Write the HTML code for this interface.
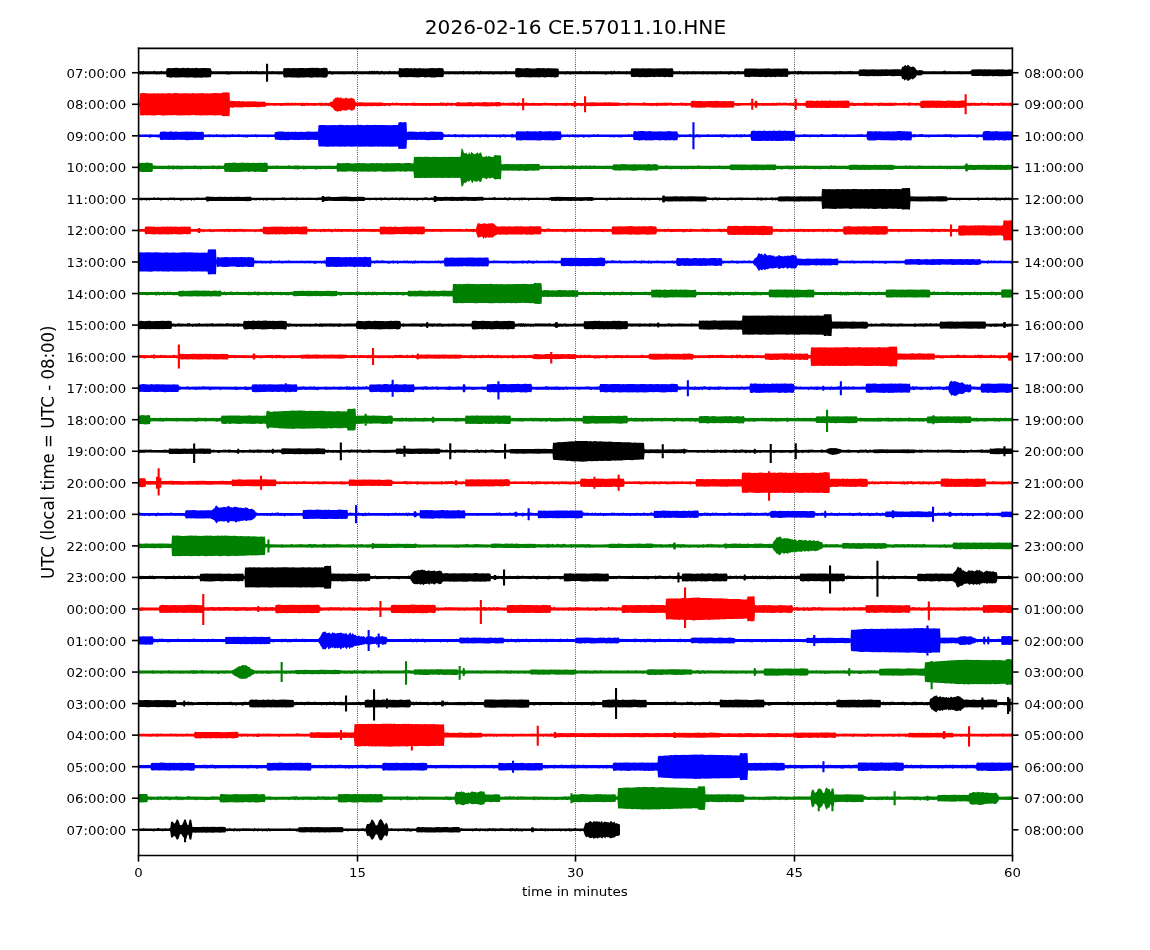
<!DOCTYPE html>
<html><head><meta charset="utf-8"><title>2026-02-16 CE.57011.10.HNE</title>
<style>html,body{margin:0;padding:0;background:#fff}svg{display:block}text{font-family:"DejaVu Sans","Liberation Sans",sans-serif;fill:#000}</style></head><body>
<svg width="1150" height="950" viewBox="0 0 1150 950">
<rect width="1150" height="950" fill="#fff"/>
<g stroke="#000" stroke-width="0.83" stroke-dasharray="0.83 1.37" fill="none">
<line x1="357.5" y1="48.7" x2="357.5" y2="855.0"/>
<line x1="575.5" y1="48.7" x2="575.5" y2="855.0"/>
<line x1="794.5" y1="48.7" x2="794.5" y2="855.0"/>
</g>
<g stroke="none">
<path fill="#000000" d="M138,71.2l2 .1 .5-.4 .5 0 .5 .3 1 0 .5-.4 .5 0 .5 .5 9.5-.1 .5-.5 .5 0 .5 .5 5.5 0 .5-.4 .5 0 .5 .4 4 .1 .5-2.3 .5-.7 1.5-.4 3 .3 1.5-.2 1.5 .1 1.5-.3 4.5 .5 3-.5 2 .4 2.5-.4 2 .5 2.5-.4 1.5 .3 2-.4 2.5 .4 4.5-.3 1.5 .2 6 .1 .5 .8 .5 1.8 .5 .1 .5 .4 13.5-.1 1-.2 .5 .2 1.5 .1 2 0 .5-.2 1 .2 5.5 0 2-.1 .5-.3 .5 .1 .5 .2 4 .1 1-.1 .5-.4 .5 0 .5 .4 2.5 0 .5-.5 .5 0 .5 .5 1 .1 .5-.3 .5 0 .5 .3 1-.1 .5-.4 .5 0 .5 .4 2 .1 3-.1 .5-.3 .5 0 .5 .3 6 .1 2-.1 .5-.3 .5 0 .5 .3 9.5 .1 .5-.3 .5-2.4 .5-.7 1.5 .3 3-.1 1.5 .2 4.5-.4 1.5 .3 3-.3 1.5 .2 1.5-.2 1.5 0 1.5 .4 3-.4 1.5 .1 3-.2 3 .2 1.5-.2 3 .5 4.5-.5 2.5 .3 .5 .9 .5 2.3 1-.1 .5-.5 .5 0 .5 .5 2 .1 18-.1 1.5 0 .5-.4 .5 .1 .5 .4 2-.1 .5-.2 .5 0 .5 .2 12 .1 .5-.5 .5 0 .5 .5 2-.5 .5 0 .5 .5 1-.6 .5 0 .5 .5 2-.5 .5 0 .5 .6 .5 0 1.5-.1 1-.4 .5 0 .5 .4 6.5 0 .5-.4 .5-.1 .5 .5 3 .1 .5-.3 .5 0 .5 .3 3.5-.1 .5-2.9 .5-.2 4 .3 1.5-.4 1.5 .3 1.5-.2 1.5 .4 1.5-.4 1.5 .3 3-.3 1.5 .3 3-.3 1.5 .3 1.5-.1 3 .1 6-.4 3 .3 4.5-.2 3 .1 .5 .1 .5 .6 .5 2.3 13 .1 3-.1 .5-.3 .5 .1 .5 .3 1-.1 .5-.4 .5 0 .5 .4 4 0 .5-.3 .5 0 .5 .3 2.5 .1 4-.1 .5-.5 .5 0 .5 .5 2 .1 .5-.1 .5-.4 .5-.1 .5 .5 8 .1 1-.3 .5 .2 12.5 .1 1.5-.1 .5-.5 .5 0 .5 .5 8.5 .1 .5-2.7 .5-.3 2-.2 5.5 .3 3.5-.4 4 .4 4.5 0 2-.3 4 .2 2-.3 2.5 .4 2-.3 1.5 .2 8.5 .1 .5 .5 .5 2.3 3 .1 4.5-.1 .5-.3 .5 0 .5 .3 1.5 .1 10.5-.1 .5-.5 .5 0 .5 .5 1.5 0 2.5 .1 .5-.3 .5-.1 .5 .3 1.5 0 .5-.5 .5 0 .5 .5 3 0 .5-.2 .5 0 .5 .2 2 .1 14 0 .5-.5 .5 0 .5 .5 1.5-.1 .5-.6 .5 0 .5 .6 1 .1 2-.1 .5-.3 .5 0 1 .3 2 .1 4 0 .5-.3 .5 0 .5 .3 3-.1 .5-2.2 .5-.7 2.5 .2 1.5-.2 5.5 .2 2-.3 2.5 .4 3.5-.4 4 .3 12.5-.3 2.5 .3 3-.2 2 .2 .5 2.7 1 .1 4-.1 .5-.5 .5 0 .5 .5 7 0 .5-.2 1 .3 2.5 0 2-.1 .5-.3 .5 0 .5 .3 4 .1 4.5-.1 .5-.3 .5 .1 .5 .3 4.5 0 10.5-.1 .5-.3 .5 0 .5 .3 9 .1 .5-.4 .5-.1 .5 .4 1-.2 1 .2 3.5 .1 .5-.3 1-.1 .5 .3 4.5 0 .5-.2 .5-2.1 .5-.3 1.5-.2 7 .2 2-.2 4 .3 2-.3 1.5 .3 1.5-.3 2.5 .2 1.5-.3 2 .5 8.5-.4 2 .3 1.5-.2 5 .1 .5 .7 .5 1.9 6 0 .5-.4 .5 .1 .5 .4 1.5 0 .5-.5 .5-.1 .5 .5 .5 0 .5-.5 .5 .1 .5 .5 1.5-.4 .5 .3 2.5 0 .5-.2 1 .2 17.5 0 1.5-.3 .5 .3 9.5 0 1-.2 .5 .2 1.5 .1 .5-.4 .5-.1 .5 .5 .5-.3 .5 0 .5 .2 5.5 0 .5-.3 1.5 .3 .5-.5 .5 0 .5 .5 .5 0 .5-.2 1.5 .3 2.5 0 2.5-.1 .5-1.1 .5-.5 2 0 2.5-.3 2 .2 2.5-.1 2 .1 2.5-.2 2 .3 4-.2 1.5 .1 2-.2 1.5 .1 1.5-.1 4.5 .3 4-.3 4.5 0 2.5 .3 1.5-3.1 1 .2 .5-.4 1-1.2 .5 0 .5 .3 .5 .8 .5 0 .5-1.2 .5-.3 2 1.7 1 .6 .5 .1 .5-.1 .5-.6 .5 0 1 .6 .5 .2 1.5 1.9 .5 .9 .5 .3 1 .1 1.5-.3 2 .2 .5 0 2 .9 7 .1 2-.1 1-.2 .5 .2 2.5 .1 5.5-.1 1-.2 .5-.3 .5-.1 1 .2 .5 .4 2.5 0 .5-.3 .5 0 .5 .3 8 .1 .5-.4 .5 0 .5 .3 10 .1 .5-.5 1 .1 .5-1.2 .5-.3 8.5-.1 2 .3 2.5-.4 2 .2 1.5-.1 2.5 .3 2-.1 2.5 .1 3-.3 2 .1 1.5-.2 4.5 .5 3-.4 2 .1 .5 .6 0 5.3-.5 .6-2.5 .1-1.5-.1-1.5 .3-1.5-.3-1.5 .3-4.5 0-1.5-.3-4.5 .3-1.5-.4-1.5 .4-1.5-.3-1.5 .3-1.5-.2-1.5 .2-3-.4-1.5 .3-1.5-.2-5.5 0-.5-.3-.5-1.4-7.5 0-1.5 .1-.5 .3-.5-.1-.5-.3-1.5 0-12.5 0-.5 .4-.5 0-.5-.4-1 0-21 .1-1.5 .9-1.5 .4-3-.3-.5 .4-1.5 2.3-1 .2-1 1.4-.5 0-.5-.8-.5-.3-1 .9-.5 0-1 1-.5 .1-1 .6-1-1.6-.5-.4-.5 .6-.5 .9-.5-.2-1-1.5-.5-.1-.5 .5-.5-.9-.5-1.4-.5-1-4-.1-4.5 .3-3-.4-1.5 .2-2-.1-2.5 .2-1.5-.2-1.5 .3-1.5-.2-1.5 .2-1.5-.2-1.5 .2-3-.2-3 .2-7.5-.2-1.5 .2-.5-.6-.5-1.1-.5 0-.5-.3-2 0-3 0-.5 .3-.5 0-.5-.3-6 0-1 .2-.5-.2-3 .1-.5 .3-.5 0-.5-.4-2.5 0-.5 .4-1 .1-.5-.5-1 .2-1-.2-11.5 .1-.5 .3-.5 0-.5-.3-4.5-.1-2 0-.5 .3-.5 .1-.5-.4-2.5 .1-.5 .3-.5 0-.5-.4-4 .1-.5 .4-.5 0-.5-.5-2.5 0-.5 0-.5 .5-.5 0-.5-.5-7.5 0-.5 .5-.5 0-.5-.5-.5 1.9-.5 .9-.5 .1-3-.4-3 .3-1.5-.3-3 0-1.5 .5-1.5-.4-3 .4-1.5-.4-3 .4-1.5-.1-1.5-.4-1.5 .4-1.5-.2-1.5 .2-1.5-.3-1.5 .3-1.5-.4-3 .1-1.5 .4-1.5-.3-1.5 .1-1.5 0-.5-.5-.5-2.2-4-.1-.5 .3-.5 0-.5-.3-2.5 0-.5 .5-.5 0-.5-.5-4 0-.5 .3-1.5 .2-.5-.4-10.5-.1-1 0-.5 .6-.5 0-.5-.6-.5 0-1.5 .1-.5 .3-.5 0-.5-.3-3-.1-.5 .4-.5 .1-.5-.4-3.5 0-.5 .4-.5 0-.5-.5-6 0-.5 .4-.5 0-.5-.4-1 0-1 0-.5 .4-.5 0-.5-.4-2 0-.5 0-.5 .4-.5 .1-.5-.4-2.5 0-.5 .5-.5 0-.5-.6-6 0-3.5 .1-.5 2.8-1 .2-1.5-.3-1.5 .2-1.5-.4-2.5 .5-3-.5-2 .2-4-.2-2 .4-1.5-.4-1.5 .3-1.5-.2-4 .4-2-.4-4.5 .3-1.5-.4-1.5 .3-3-.2-1.5 .2-.5-.7-.5-2.1-2-.1-1 0-.5 .3-.5 0-.5-.3-12 0-1.5 .1-.5 .5-.5-.1-.5-.5-4 0-.5 .5-.5 0-.5-.2-1 .1-.5-.3-2-.1-14 0-1 0-.5 .3-1-.3-14 0-.5 0-.5 .5-.5 0-.5-.5-3 0-.5 .4-1 .1-.5-.4-2-.1-3.5 .1-.5 2.3-.5 .6-1-.2-1.5 .5-1 0-2-.5-1.5 .2-3-.2-3 .5-3-.4-3 .3-1.5-.2-6 .1-1.5 .1-1.5-.2-2.5 .1-3.5-.3-4.5 .4-2-.3-.5-.4-.5-2.5-1.5 0-6.5 0-.5 .3-.5 0-.5-.2-4-.1-.5 .6-.5 0-.5-.5-5-.1-1 .1-.5 .5-.5 0-.5-.5-1.5-.1-1.5 .1-.5 .2-.5 0-.5-.2-7.5-.1-.5 .5-.5 0-.5-.4-2-.1-2.5 .1-1 .2-.5 0-.5-.3-2 0-.5 .3-.5 .1-.5-.4-3.5 0-1 0-.5 .5-.5 0-.5-.4-2-.1-2.5 0-.5 .3-.5 .1-.5-.3-1.5 0-.5 .3-.5 0-.5-.3-5-.1-.5 .3-.5 0-.5-.3-3.5 0-.5 2.4-.5 .5-1.5 .2-1.5-.3-1.5 .3-1.5-.2-1.5 .3-4.5 0-2-.3-4 .3-1.5-.3-1.5-.1-4.5 .4-1.5-.2-1.5 .1-4.5-.3-3 .2-4.5-.2-1.5 .5-2-.5-.5-2.4-.5 0-.5-.3-2.5 0-1 .2-.5-.3-2 0-2 .1-.5 .3-.5 0-.5-.3-3-.1-.5 .5-.5 0-.5-.5-3 0-1 .5-.5 0-.5-.5-3.5 0-.5 .4-.5 0-.5-.3-1-.1-.5 .3-.5-.1-.5-.2-1.5 .1-.5 .3-.5 0-.5-.4-.5 0-4.5 .1-.5 .3-.5 0-.5-.4-6 0-.5 .4-.5-.1-.5-.3-8.5 0-.5 .4-.5 0-.5-.4-1.5 .3-.5-.3-2 0-.5 .2-1-.2-4 0-1 0-.5 .5-.5 .1-1.5-.5-3-.1-.5 2.2-.5 .8-2.5 .5-1.5-.3-1.5 .1-1.5-.3-2 .4-4-.4-2 .5-2.5-.1-1.5-.3-4.5 .3-3-.1-2 .2-2.5-.3-4.5 .2-2-.4-4.5 .4-1-.2-.5-.7-.5-2.5-.5 .1-.5 .3-.5-.1-.5-.3-1.5 .1-.5 .5-.5 0-.5-.6-15.5 0-.5 0-.5 .3-1.5-.3-1 0-.5 .3-.5 0-.5-.3-2 0-22.5 0-2.5 .1-.5 .4-.5 0-.5-.4-.5 .2-2 .1-.5-.4-2 0-12 0-.5 0-.5 2.3-.5 .8-5.5 .2-1.5-.2-1.5 .4-4.5-.3-1.5 .3-1 0-3.5-.4-1.5 .3-4 0-3.5-.4-4.5 .4-1.5-.2-1.5 .1-1.5-.3-1.5 .4-1.5 .1-1.5-.4-2 0-.5-.8-.5-2.3-6 .1-.5 .2-.5 0-.5-.3-1 0-.5 .5-.5 .1-.5-.6-6 0-1 0-.5 .3-.5 0-.5-.3-4 0-.5 .5-.5 0-.5-.5-1 0-.5 .4-.5 0-.5-.4-1.5 .1zM266,63.7h2.1v18h-2.1z"/>
<path fill="#ff0000" d="M138,102.8l1 0 .5-.2 .5-9.3 .5-.1 3.5-.1 5 .3 1-.2 1.5 .2 2.5-.1 1.5 .1 2-.2 2.5 .2 2-.2 3 .2 2-.2 1.5 .1 1-.2 2.5 .3 2.5-.3 2 0 4.5 .3 2-.2 3 .1 1.5-.1 3.5 .3 1.5-.4 3.5 .3 1-.2 2.5 .1 3.5-.2 1.5 .3 3.5-.2 1 .2 5-.3 7.5 .2 .5-.9 3 .1 1.5-.2 1 .2 2 0 .5 9 .5-.7 .5 0 1.5 .3 2.5-.1 1.5 .2 3-.2 1.5 .4 2-.3 1.5 .3 5.5-.2 2 .3 2.5-.2 3 .4 4.5 .1 2-.3 1.5 .6 .5 .8 1 0 1.5-.3 .5 .3 1 0 14.5 0 .5-.4 .5 0 .5 .4 .5 0 .5 0 .5-.4 .5-.1 .5 .4 2.5 .1 .5 0 .5-.4 .5-.1 .5 .5 1 0 1 0 .5-.4 .5 0 .5 .4 .5 0 6-.1 1.5 .1 1 0 1-.4 .5 0 .5 .4 3 0 8.5 0 .5-.3 .5-.1 .5 .4 1-.3 1 .3 2.5 0 .5-.3 .5 0 .5 .3 3 0 .5-1 2-.3 .5-.2 .5-.5 .5-1.5 .5-1 .5 .3 .5 0 .5-1.1 .5-.6 .5 .8 .5 .2 .5-.8 .5-.4 .5 .8 .5 .5 1-.1 .5-.7 .5-.3 .5 .9 .5 .6 1-.2 .5 .1 1.5 0 .5-.6 .5-.3 1 .5 .5 .6 .5 .1 1-.4 1 .3 1.5-.8 .5-.1 .5 .5 1 .4 1 .8 1 2.4 .5 .7 5.5-.2 2 .3 4.5-.2 3 .2 3 0 1.5-.2 2 .2 4.5-.1 .5 .1 .5 .3 1 0 7.5 0 .5-.5 .5 0 1 .5 1 0 1.5-.1 .5-.2 .5 0 .5 .3 14 0 .5-.3 .5 0 .5 .3 .5 0 .5-.4 .5 0 .5 .4 23.5 0 1 0 .5-.3 1.5-.2 .5 .4 1 0 .5-.3 .5 0 .5 .4 2.5-.1 .5-.3 .5-.1 .5 0 .5 .5 2 0 .5-.3 1.5 .3 2.5 0 1-.5 2-.3 2 .3 5.5 .1 4.5-.4 1.5 .3 4.5 .1 1.5-.3 3 .2 3-.3 6 .3 1.5-.3 1.5 .3 1.5-.2 4.5-.1 1.5 .2 1 .6 1 0 .5-.5 .5 0 .5 .5 8.5-.1 .5-.5 .5 0 .5 .5 2 .1 2-.1 .5-.5 .5 0 .5 .1 .5 .5 .5 0 4.5 0 .5-.3 1-.1 .5 0 .5 .4 .5 0 4.5 0 .5-.4 .5 0 .5 .4 1.5 0 7.5 0 1.5-.3 .5 .2 2.5 .1 18 0 .5 0 .5-.4 .5 0 .5 .4 2.5 0 3.5 0 .5-1.6 1.5 0 .5 1.5 1.5 .1 7 0 .5-.4 2.5 .1 6-.3 3 .3 4.5-.2 2 .1 2.5-.2 1.5 .3 1.5-.3 3 .3 6-.2 1.5 .1 .5 .4 6 0 1 0 .5-.4 .5 0 .5 .3 12.5 .1 3-.1 .5-.4 .5-.1 .5 0 .5 .6 .5 0 1-.2 .5 .2 9 0 .5-.5 .5 0 .5 .5 6-.1 .5-.3 .5 0 .5 .3 5 0 .5-.3 .5 0 .5 .4 7.5 0 .5-.4 .5-.1 .5 .4 7.5 .1 2 0 .5-1.3 .5-.5 2-.3 3 .2 4.5-.1 3 .3 7-.3 2 .2 1.5 0 1.5-.3 4.5 .4 3-.3 3 .3 4.5-.3 1.5 .3 1-.1 .5 .5 .5 1.3 14 0 1.5-.1 1-.4 .5 0 1 .5 .5 0 1.5 0 .5-2.1 2 0 .5 2.1 15 0 .5-.4 .5 0 .5 .4 1.5 0 1 0 .5-.6 .5 .1 .5 .5 .5 0 .5-.5 .5-.1 .5 .5 2.5 .1 1-.3 .5 .3 1.5-.3 .5 0 .5 .3 3.5 0 .5-.4 .5 0 .5 .4 2.5-.1 .5-.1 2 .2 .5 0 .5-.5 .5 0 .5 .5 4 0 3-.1 .5-1.8 .5-.2 3-.1 1.5-.2 1.5 .3 3 .1 1.5-.3 3 .3 1.5-.3 3 .2 1.5-.3 1.5 .4 1.5-.4 1.5 0 1.5 .3 3-.1 1.5 .2 1.5-.4 1.5 .2 7.5-.3 2 .4 .5 .6 .5 1.5 1.5-.1 .5-.5 .5 0 .5 .5 .5 .1 4 0 .5-.5 .5 0 .5 .5 4.5 0 .5-.3 .5 0 .5 .3 .5-.5 .5-.1 .5 .5 6.5 .1 1 0 .5-.5 .5 0 .5 .5 4.5-.1 .5-.4 .5 0 .5 .5 .5 0 .5-.3 .5 0 .5 .3 6-.1 .5-.4 .5 0 .5 .4 1 .1 1-.3 .5 .3 1 0 1-.4 .5 0 .5 .4 5 0 1.5 0 .5-.5 2 .5 3.5-.1 .5-.5 .5 0 .5 .5 6 .1 .5-.4 .5 0 .5 .4 2 0 .5-1.4 .5-.6 3-.5 1.5 .3 3-.2 1.5 .2 1.5-.2 4.5 .3 1.5-.3 7.5 .4 3-.3 4.5 .2 1.5-.2 1.5 .3 4.5-.1 1.5-.3 2.5 .1 .5 .1 .5 2.2 .5 0 .5-.3 .5 0 .5 .3 1 0 .5-.2 1 .2 1.5 0 .5-.4 .5 0 .5 .4 1 0 .5-.3 .5 0 .5 .3 5.5 0 .5-.4 1.5 0 .5 .4 2.5 0 1.5 0 1-.5 .5 0 .5 .4 1 .1 10 0 .5-.3 .5-.1 1 .3 7.5 .1 .5-.5 .5-.1 .5 .5 1 .1 0 2.8-1 .3-.5 0-.5-.3-5 0-1 0-.5 .4-.5 0-.5-.4-2-.1-.5 0-.5 .4-.5 0-.5-.3-3.5-.1-2 .1-.5 .3-.5 0-.5-.3-9-.1-3.5 .1-.5 .2-1-.2-2 0-.5 .3-.5 0-.5-.4-2 .1-.5 .2-1.5-.2-.5 .4-.5 0-.5-.4-1 0-.5 0-.5 .5-.5 0-.5-.5-.5-.1-.5 2-5.5 .5-1.5-.3-3 .2-5.5-.3-3.5 .3-2.5-.3-2 .2-1.5-.2-3 .3-1.5-.3-4.5 0-1.5 .2-3-.1-3 .2-2-.1-.5-.6-.5-1.6-2-.1-1.5 0-.5 .5-.5 0-.5-.5-4.5 0-.5 .1-.5 .4-.5 .1-.5-.5-1-.1-13 0-.5 .4-.5 0-.5-.3-1 0-.5 .4-1 0-.5-.4-1 .2-.5-.2-.5 .4-.5 0-.5-.5-.5 .5-.5 0-.5-.4-1 0-1 .3-.5 0-.5-.3-3 0-.5 .5-.5 0-.5-.5-3-.1-2 0-.5 .6-.5 0-.5-.5-1 0-.5 .3-.5 0-.5-.3-3 0-.5 .5-.5 0-.5-.5-8 0-.5 .4-.5 0-.5-.4-.5 .5-.5 .1-1.5-.6-2.5 0-.5 1.3-.5 .7-1 .2-4.5 .1-4.5-.3-3 .3-1.5-.3-1.5 .3-1.5-.3-2 .4-2.5-.2-1.5 .1-1.5-.2-3 .2-2-.2-2.5 .3-2-.4-2.5 .3-3-.2-2 .1-1-.3-.5-1.6-.5 .1-.5-.4-.5 0-.5 .3-.5 0-.5-.3-1-.1-.5 0-.5 .5-.5 0-.5-.4-3 0-.5 .5-.5 0-.5-.6-1 .1-.5 .4-.5 0-.5-.4-6.5-.1-9 0-.5 .3-.5 0-.5-.2-1-.1-1 .3-.5-.2-1.5-.1-1 .3-.5-.2-6.5 0-.5 .4-.5 0-.5-.5-4.5 .1-.5 2.1-2 0-.5-2.2-13.5 0-1 .1-.5 .3-1.5-.3-.5 .4-.5 0-.5-.4-2-.1-.5 1.3-.5 .7-1 .2-1.5-.3-7.5 .2-4.5-.3-4 .3-3.5-.3-4.5-.1-3 .4-1.5-.1-1.5 .2-3 0-3-.4-3.5 .2-.5-.4-.5-1.6-4 .1-.5 .4-.5 0-.5-.4-2-.1-.5 .4-.5 0-.5-.4-7.5 .1-.5 .4-.5 0-.5-.5-5 0-1 .3-.5-.2-7.5 0-1 0-.5 .5-.5 0-.5-.5-2 0-1 0-.5 .5-.5 0-.5-.5-1 0-.5 .3-.5 0-.5-.3-20.5-.1-.5 .1-.5 .4-.5 .1-.5-.5-4-.1-4 .1-1 .4-1.5-.2-6 .2-6-.2-2 .2-5-.1-6.5 .2-2-.1-3 .1-1-.5-2.5 0-.5 .5-.5 0-.5-.5-3.5 0-.5 .5-.5 0-.5 1.1-1.5 0-.5-1.6-1 0-.5 .4-.5 0-.5-.4-1-.1-4.5 .1-.5 .3-.5 .1-.5-.4-6.5-.1-.5 .6-.5 0-.5-.5-13-.1-2 .1-.5 .2-1-.2-14.5 0-2 0-.5 .5-.5 0-.5-.5-1-.1-1.5 .1-1.5 .5-.5 0-.5-.5-15-.1-1 .7-2.5-.1-1.5 .2-1.5-.3-2 .2-2.5-.1-3 .2-12-.3-3 .3-2-.2-14 .1-1-.6-2-.1-1 0-.5 .6-.5 0-.5-.5-2.5-.1-1.5 .1-.5 .5-.5 0-.5-.5-1-.1-.5 .4-.5 0-.5-.3-8 0-.5 .3-.5 0-.5-.4-.5 0-.5 .4-.5 .1-.5-.5-.5 0-.5 .5-.5 .1-.5-.5-2.5 0-1 .2-.5-.2-2 0-.5 .4-.5 0-.5-.4-7 0-.5 .3-.5 0-.5-.3-5.5-.1-1.5 .4-.5-.3-4-.1-.5 .5-.5 0-.5-.5-10 0-.5 .6-.5 0-1-.5-2-.1-.5 .4-1.5 .1-.5-.4-.5 0-.5 0-.5 .4-1.5-.1-3 .2-3-.3-4.5 .3-1.5-.3-1.5 .3-3 0-1.5-.3-2 .3-5-.2-.5 .6-1 2.8-.5 .4-1 .1-1 1-.5-.2-.5-.5-1-.4-2-.3-1 1.1-3-.1-1-.5-.5 .1-1.5 1.1-.5 .1-1.5-.4-1 .8-1-.2-.5-.5-.5 .2-.5-.1-.5-.7-1-.4-1-2-.5-.1-3-2.2-.5 0-.5 .5-.5 0-.5-.5-5.5 0-.5 .5-.5 0-.5-.5-1-.1-4.5 .1-.5 .4-.5 0-.5-.4-4.5-.1-.5 .5-.5 0-.5-.5-2.5 .1-.5 .5-.5 0-.5-.5-.5 .4-1.5 .1-.5-.5-1-.1-16.5 .1-3.5 .3-.5-.4-5 .1-.5 .4-.5 0-.5-.5-7 .1-.5 1.1-.5 .3-2.5-.3-4 .4-4.5-.2-6 .3-3.5-.2-2.5 .4-7.5-.2-1.5 .4-2.5-.1-.5-.5-.5 9.2-3.5-.4-2.5 .3-1.5-.2-.5-.7-2.5-.1-5 .3-1-.3-5 .1-1 .2-1.5-.3-4.5 .2-3-.2-2 .2-1-.3-2.5 0-2.5 .1-1 .2-1.5-.2-9 .2-4-.3-1.5 .2-2 0-2.5-.1-5 .3-2-.1-1.5-.3-2.5 0-2 .3-7.5-.2-2 .3-1.5-.4-1 .3-3.5-.1-.5-9.4-.5-.3-1 .1zM522.1,98.3h2.1v12h-2.1zM584,96.3h2.1v16h-2.1zM751.2,98.8h2.1v11h-2.1zM794.7,98.8h2.1v11h-2.1zM964.6,94.3h2.1v20h-2.1z"/>
<path fill="#0000ff" d="M138,134.5l6.5 0 1.5-.3 .5 .3 3.5 0 .5-.4 .5-.1 .5 .5 8 0 .5-2 .5-.8 4.5-.1 3 .3 1.5-.4 1 0 2 0 1.5 .4 1.5-.4 1 0 2 .4 2.5-.2 2 .1 4-.2 2 .1 1.5-.2 2.5 .3 2-.3 1.5 .4 6.5-.1 .5 .2 .5 2.6 .5 0 4-.1 .5-.3 .5-.1 .5 .4 6 .1 .5-.6 .5 0 .5 .5 3.5 .1 1.5 0 1-.3 .5 .2 7.5 0 .5-.5 .5 0 .5 .6 5 0 .5-.5 .5 0 .5 .4 10 .1 5.5-.1 .5-.5 .5 0 .5 .6 .5 0 17-.1 .5-.2 .5-2.1 .5-.3 2-.1 1.5-.3 3 0 4.5 .4 1.5-.4 1.5 .4 3-.2 1.5 .2 1.5-.3 1.5 .3 4.5-.1 3 .1 3-.4 6 .3 3-.2 1.5 .1 .5-6.5 2-.2 1 .1 1.5-.2 1 .2 3.5 .1 7-.3 2.5 .3 2.5-.4 1.5 .3 1-.3 2.5 .4 2.5-.2 3.5 .2 2.5-.2 2 .2 3.5-.4 1.5 .3 1-.3 1.5 .4 1-.3 1.5 .3 1-.3 1-.1 1.5 .3 3.5 0 1-.2 1.5 .2 1-.3 1.5 .3 2-.2 5 .2 1-.2 1.5 .3 1-.2 1.5 .2 6-.3 2 .2 1-.1 .5-2.5 2.5-.4 1.5 .5 2.5-.5 1.5 .3 .5 9.5 2.5-.3 6 .1 2.5 .2 3-.4 1.5 .4 1.5-.3 3 .3 5-.4 3 .3 5.5-.1 2 .2 .5 .7 .5 1.5 .5 0 .5 .4 3.5 0 .5-.3 1 0 .5 .4 3.5 0 .5-.4 .5-.1 .5 .4 .5-.4 .5 0 .5 .4 5.5 .1 .5-.6 .5 0 .5 .5 5 0 1-.2 .5 .2 6 .1 1-.1 .5-.2 1.5 .3 2-.1 .5-.3 .5 0 .5 .3 2.5 .1 .5-.6 .5 0 .5 .5 1.5 0 13.5 0 1.5 0 .5-.4 .5 0 .5 .4 6 0 .5 0 .5-.4 .5 0 1.5 .2 .5 .3 1 0 .5-.1 .5-2.3 .5-.8 1-.1 1.5 .3 1.5-.3 1.5 .1 1.5-.1 1.5 .2 3-.4 1.5 .4 1.5-.2 1.5 .2 2.5-.3 3 .3 2-.4 3 .3 6-.1 1.5-.2 1.5 .4 4.5-.3 2.5 .2 1.5-.2 .5 .8 .5 2.5 4.5 .1 .5 0 .5-.3 .5 0 .5 .2 4 .1 1 0 .5-.3 .5-.1 .5 .3 2 0 5 0 .5-.3 .5 0 .5 .3 7 .1 3-.1 .5-.4 .5 0 .5 .4 1.5 0 1 0 .5-.5 .5 0 .5 .6 .5 0 28.5 0 .5-.1 .5-.4 .5 0 .5 .4 1.5 0 .5-.4 .5 0 .5 .4 .5 0 .5-2.6 .5-.8 1 0 1.5 .5 1.5-.3 3-.2 3 0 2 .4 4-.4 2 .3 5.5 .1 2-.3 4 .3 1.5-.1 1.5 .1 1.5-.4 6 .5 1.5-.4 2 .5 .5 2.4 .5 0 .5 .4 8.5 .1 1.5 0 .5-.5 1 0 .5 .4 5 0 .5-.3 1-.1 .5 .4 1.5 .1 7.5 0 .5-.6 .5 0 .5 .5 6.5 0 1-.2 .5 .2 3 0 .5-.5 .5 .1 .5 .4 1.5 0 .5-.4 .5 0 .5 .4 .5 0 .5-.5 .5 0 .5 .5 .5 .1 9.5-.1 .5-.5 .5 0 .5 .5 2.5 0 .5-.4 .5 0 .5 .5 2-.1 .5-.5 .5 0 .5 .5 4 0 .5-.5 .5 0 .5 .6 .5-3 .5-.7 2.5-.3 1.5 .3 4.5-.1 1.5 .2 3-.4 1.5 .4 1.5 0 3-.3 1.5 .3 1.5-.4 3 .3 3-.3 3 .3 2-.3 2.5 .3 1.5-.2 1.5 .3 4.5 .1 .5 .4 .5 3 4.5 0 3.5 0 .5-.5 .5 0 1.5 .5 1 0 .5-.2 1 .2 2.5 0 .5-.2 1 .2 2.5 .1 5.5-.1 .5-.4 1.5 0 .5 .5 7 0 2-.1 .5-.6 .5 0 .5 .6 .5 0 .5-.4 .5 0 1 .4 .5-.5 .5 0 .5 .5 1.5 0 1 0 .5-.3 .5 0 .5 .3 4 0 .5-.4 .5-.1 .5 .5 1 .1 8.5-.1 .5-.3 1.5 .4 .5-.5 .5 0 .5 .4 2-.5 .5 0 .5 .5 3.5 0 .5-2.4 .5-.8 3.5 0 3 .3 1.5-.5 1.5 .5 1.5-.4 1.5 0 1.5 .3 4.5-.1 1.5-.2 4.5 .3 1.5-.3 1.5 .3 3-.4 3 0 1.5 .4 1.5-.4 1.5 .4 1.5-.2 1.5 .2 2.5-.1 .5 .1 .5 2.8 .5 .2 1-.5 .5 0 .5 .5 .5 0 .5-.4 .5 0 .5 .4 2 .1 .5-.6 .5 0 .5 .5 .5-.4 1.5 0 1 .1 .5 .3 13 0 1.5 0 .5-.3 .5 0 .5 .4 3.5 0 .5-.3 .5 0 .5 .3 .5-.6 .5 0 1 .2 .5 .4 .5-.4 .5 0 .5 .4 .5-.3 1.5-.3 .5 .5 .5 0 .5-.3 .5 0 .5 .4 13.5 0 2-.1 .5-.5 .5 0 .5 .5 12 .1 .5-.4 .5-2 .5-.8 2-.3 3 0 3 .4 1.5-.3 1.5 .2 1.5-.3 3 .5 5.5-.1 3.5-.3 1.5 .3 2-.1 .5 .7 0 7.4-.5 .7-1-.1-1.5 .4-1.5-.4-1.5 .4-3 0-1.5-.4-3 .4-1.5-.4-1 0-2 .4-4-.3-2 .3-3-.3-1.5 .2-.5-.9-.5-2.4-3.5 0-.5 .5-1 0-1.5-.2-.5-.3-17.5 0-.5 .5-.5 0-.5-.5-.5 0-.5 .3-1.5 .2-.5-.5-1.5 0-.5 .4-.5 0-.5-.3-1.5-.1-18 0-1.5 .1-.5 .3-.5 0-.5-.4-1 0-.5 .3-.5 0-.5-.3-9.5 0-1.5 .1-.5 .4-.5 0-.5-.5-1 .1-.5 3-.5 .2-1.5-.2-3 .3-1.5-.3-1.5-.1-1.5 .4-1.5 0-1.5-.4-4.5 .3-7.5-.2-4.5 .1-4.5-.2-3 .4-6 .1-1.5-.5-.5-.7-.5-2.3-1 0-18.5 0-2 0-.5 .3-.5 0-.5-.3-19 0-5.5 0-.5 .3-.5 0-.5-.3-5 0-2 0-.5 .5-.5 0-.5-.5-9.5 0-.5 .5-.5 0-.5-.5-.5 0-2 0-.5 3.4-.5 .4-2-.1-1.5 .3-3-.5-1.5 .4-1.5-.4-1.5 .3-1.5-.2-1.5 .4-1.5-.2-3 .1-1.5-.2-3 .2-1.5-.3-3 .3-3-.3-3 .4-4.5-.1-1.5-.2-1.5 .3-2-.3-.5-.7-.5-3-8 0-.5 .4-.5 0-.5-.3-6-.1-.5 .4-.5 0-.5-.4-2 0-2.5 .1-.5 .4-.5-.1-.5-.3-2-.1-2 0-.5 .5-1.5 0-.5-.4-1.5-.1-10 0-1 .2-.5-.2-6.5 0-1.5 .3-.5 0-.5-.3-.5 .3-.5 0-.5-.3-1.5 .1-.5 .4-1.5-.1-.5-.4-.5 .5-2-.5-5.5 0-.5 .2-1.5-.2-3 0-.5 .4-.5 0-.5-.3-1 0-.5 2.9-.5 .2-1.5-.1-1.5 .3-2-.4-2.5 .3-1.5-.3-1.5 .3-4.5-.3-1.5 .3-2-.2-2.5-.1-6 .4-1.5-.3-3 .2-1.5-.3-1.5 .2-1.5-.1-1.5 .3-3-.4-2.5 .2-.5-.8-.5-2.4-10.5 0-.5 .4-.5 0-.5-.3-2 0-.5 .3-.5 0-.5-.4-1.5 0-1.5 .1-.5 .4-.5 0-.5-.4-2-.1-.5 .4-.5 0-.5-.4-17.5 0-2.5 .1-.5 .4-.5 0-.5-.4-2-.1-1.5 .1-.5 .5-.5 0-.5-.5-1.5-.1-3.5 .1-.5 .3-.5 0-.5-.4-1.5 0-.5 .4-.5 0-.5-.4-3.5 0-.5 .3-.5 0-.5-.3-5 0-.5 0-.5 .5-.5 0-.5-.5-.5 2.3-.5 .7-3 0-4.5 .5-2-.4-5.5 .1-3-.2-1.5 .3-3 .1-3-.3-9 .1-1.5-.2-3 .4-3-.3-1.5 .3-.5-.1-.5-.9-.5-2.3-1.5 0-.5 .3-2.5 .1-.5-.5-4.5 0-.5 .6-.5 0-.5-.6-1 0-2 0-.5 .5-1 0-.5 0-.5-.5-1.5 0-.5 .3-.5 0-.5-.3-6 0-1 0-.5 .3-.5 0-.5-.2-3.5-.1-2.5 0-1 .4-1-.1-.5-.3-5 0-.5 .4-.5 .1-.5-.5-2 0-1.5 .4-.5 0-.5-.3-2-.1-2.5 0-.5 .3-.5 0-.5-.3-2 .1-.5 .2-1-.3-2 0-.5 .4-.5-.1-.5-.3-10 0-1.5 .1-.5 2.1-.5 .8-2.5 0-1.5-.3-2 .3-5.5-.2-3 .3-2-.3-1 .2-1.5-.3-2 .2-1.5-.3-4 .2-1.5-.2-2 .3-1.5-.2-2.5 .2-1.5-.1-.5 8.9-2 0-2 .2-1.5-.2-2.5 .3-.5-2.5-8.5 .1-1.5-.2-2 .3-1.5-.4-1.5 .4-3-.3-1.5 .3-2-.4-5.5 .4-4.5-.3-2.5 .2-1-.2-2.5 .3-5-.2-4.5 .2-1.5-.2-3.5 0-1 .2-2.5-.4-2.5 .4-2.5-.4-3.5 0-1 .3-2.5-.1-1.5 .2-3 0-1.5-.3-5 .1-1-.1-.5-6.8-1.5 .4-4.5-.3-4 .3-3-.3-2 .2-1.5-.2-1.5 .3-2.5-.2-3 .2-3-.3-3.5 .4-6-.2-1.5 .2-3-.4-2 0-.5-.3-.5-2.4-6 0-.5 .4-.5 0-.5-.4-9.5 0-.5 .4-.5 0-.5-.4-7.5 0-.5 .5-.5 .1-.5-.5-1 0-.5 .4-.5 0-.5-.5-.5 0-.5 .4-.5 0-.5-.4-2.5 0-1 .2-.5-.2-8 0-.5 .4-.5 0-.5-.4-1 0-1.5 0-.5 .3-.5 0-.5-.2-11-.1-.5 .5-.5 0-.5-.5-2.5 0-.5 .3-.5 0-.5-.3-4.5 .1-.5 2.7-.5 .2-3-.4-1.5 .3-3-.2-2 .2-2.5-.1-4.5 .3-3-.5-1.5 .3-1.5-.3-3 .1-1.5-.1-1.5 .3-1.5 0-1.5-.3-1.5 .2-6-.1-1.5 .3-2-.2-.5-.7-.5-2.1-.5 0-.5 .6-.5 0-.5-.5-3.5-.1-3 .1-.5 .5-1.5-.1-.5-.5-.5 0-8.5 0-.5 .4-1 .1zM692.4,122.3h2.1v27h-2.1z"/>
<path fill="#008000" d="M138,163.6l.5-.7 1 .1 2.5-.2 1.5 .2 4.5-.4 1.5 .4 2.5-.1 .5 .4 .5 2.4 .5 0 .5-.4 .5 0 .5 .4 10 .1 1-.3 .5 .2 1.5 0 .5-.5 .5 .1 1 .5 2.5-.1 .5-.4 .5 0 .5 .4 2 .1 1-.1 .5-.5 .5 0 .5 .5 3.5 0 4 0 .5-.3 .5 0 .5 .3 6.5 0 .5-.4 .5 0 .5 .4 16.5 .1 .5-.5 1.5 .1 .5 .3 3.5 0 1-.4 .5 0 .5 .4 2.5 .1 1-.1 .5-.5 .5-1.7 .5-.6 3 .1 1.5-.2 1.5 .3 3-.5 3 .3 4.5-.1 1.5-.2 1.5 .4 3-.3 3.5 .2 2.5-.2 2 .3 5.5-.2 1.5 .3 3-.5 2 .6 .5 2.5 4.5 0 .5-.3 .5 0 .5 .3 2 0 .5-.4 .5 0 .5 .5 10-.1 .5-.5 .5 0 .5 .5 .5-.5 .5 0 .5 .5 2.5 0 1.5 0 .5-.5 .5 0 .5 .5 .5 0 .5-.4 1 0 .5 .4 2 0 2.5 0 .5-.3 .5 0 .5 .3 21 .1 2.5-.1 .5-.2 1 .3 7-.1 .5-2.5 1-.1 3 .2 7.5-.3 1.5 .3 1.5 .1 7.5-.5 2.5 .3 2-.1 1.5 .2 1.5-.1 1.5 .2 4-.5 2 .4 1 0 2-.4 2.5 .4 2-.3 2.5 .4 2-.3 4.5 .2 1.5-.4 1.5 .3 1.5-.2 4.5 0 3 .4 3-.5 1.5 .2 2.5-.1 3.5 .4 .5-.1 .5-6.5 1.5 .1 3.5-.2 4.5 .3 1.5-.3 2 0 3 .4 2-.1 1.5-.3 4.5 .3 1.5-.1 2.5 .1 2.5-.3 2 .3 3.5-.2 1.5 .2 1-.2 2.5 .3 5.5-.3 .5-3.7 .5-5.2 1.5 1.8 .5 2 .5 1.2 .5 .2 .5 .6 .5-.6 .5-.3 .5 .3 1 1.3 .5 .2 1-2 .5 0 .5 1.5 .5 .4 1-3.1 1 1.6 .5 .2 .5 .6 .5 .2 1 .3 1-.9 .5-.2 1-1 .5 .7 .5 1.1 .5-.3 1-1.2 .5-.1 .5 .2 1.5 4.1 1.5 .3 1.5-.4 .5-.6 .5-.2 .5 1 1-.1 .5-.8 .5-.1 .5 .5 1 .5 2 .2 1-.1 .5-1.5 1.5-.3 1 .2 4.5 .3 .5 8.6 1 .1 4.5-.4 4.5 .4 1.5-.4 3 .3 5-.3 4 .4 2-.3 9 0 3 .1 .5 .4 .5 1.2 1.5 .1 1.5-.3 .5 .2 5.5 0 1-.2 .5 .2 1.5 0 8.5 0 .5-.5 .5 0 .5 .5 .5 .1 5.5-.1 .5-.4 .5 0 .5 .4 2 0 .5-.5 1.5 .1 .5 .4 .5 0 6.5 0 .5-.4 .5 0 .5 .5 2.5-.1 .5-.5 .5 0 .5 .5 2 .1 .5-.1 .5-.4 .5 0 .5 .4 3 0 .5-.5 .5 0 .5 .5 .5 0 11 0 1.5-.3 .5 .3 1 .1 3-.1 .5-.9 .5-.5 .5 .2 1.5-.3 4.5 .2 1.5-.3 1.5 0 1.5 .2 1.5-.2 1.5 .3 7.5-.2 3 .2 1.5-.2 3 .2 1.5-.1 1.5 .2 3-.4 3 .3 3-.3 3 .3 .5 1 1 0 .5 .3 2 0 3.5 0 .5-.3 1.5-.1 .5 .4 9.5 0 1-.3 .5 .3 1 0 9.5 0 1.5 0 .5-.3 .5 0 .5 .3 5 0 1.5-.4 .5 0 .5 .5 19.5-.1 .5-.4 .5 0 .5 .5 5-.1 1-.2 .5 .2 1 0 1.5 0 1-1.3 3 .2 2.5-.1 4.5 .1 2-.2 2.5 .2 1.5-.1 2 .2 4-.3 4.5 .2 1.5-.2 1.5 .3 1.5-.2 3 .3 2-.4 5.5 .1 3.5-.1 .5 .5 .5 .8 3.5 0 6 0 .5-.4 .5 0 .5 .4 1 0 .5-.2 .5 0 .5 .3 4-.1 .5-.2 1 .2 4 0 1.5-.2 .5 .2 1.5 0 1 0 .5-.5 .5 0 .5 .5 .5 0 1.5-.3 .5 .3 2.5 0 19.5 0 .5-.5 1 0 .5 0 .5 .6 1.5-.1 .5-.5 .5 0 .5 .5 8.5 0 .5-.3 .5 0 .5 .3 2 0 1 0 .5-.6 3.5-.3 4.5 0 2 .2 4-.3 9 .3 3.5-.3 2.5 .3 3-.2 1.5 .2 3-.2 2 .1 2.5-.2 2 .3 1-.2 .5 .2 .5 .7 .5-.4 .5 0 .5 .5 .5 0 1.5 0 1-.2 .5 .2 6 0 .5-.5 .5 0 .5 .4 1.5 .1 1 0 .5-.4 .5-.1 .5 .4 2-.3 .5 .3 5.5 0 .5-.4 .5 0 .5 .4 1.5-.3 .5 .3 2.5 .1 8-.1 .5-.3 .5 0 .5 .3 5.5 0 .5-.3 .5 0 .5 .3 1 .1 12.5-.1 .5-.3 .5 0 .5 .3 7 0 .5 0 .5-.5 .5 0 .5 .5 .5-2.3 2 0 .5 1.5 3-.1 1.5 .3 3-.2 1.5 .1 1.5-.3 1.5 .3 4.5-.2 1.5 .1 1.5-.1 1.5 .2 3-.3 1.5 .3 3-.3 1.5 .3 3-.2 1.5 .3 3 0 3-.3 1.5 .2 1.5-.3 .5 .5 0 4.2-.5 .4-4-.1-2 .2-3-.2-1.5 .3-1.5-.2-1.5 .2-1.5-.2-4.5-.1-4.5 .2-1.5-.1-9-.1-1.5 .2-3 .1-1.5-.2-3 .1-.5 1.5-2 0-.5-2.4-6 0-.5 .4-.5 0-.5-.3-1-.1-.5 .2-.5 0-.5-.2-4 0-.5 .4-.5 0-.5-.3-1.5-.1-.5 .5-.5 0-.5-.5-29.5 0-.5 .3-.5 .1-.5-.3-1.5-.1-4.5 0-.5 .3-.5 0-.5-.3-13.5 0-.5 0-.5 .7-.5 .2-10.5-.2-1.5 .3-1.5-.3-1.5 .3-1.5-.2-4.5 0-3 .3-1.5-.3-3 .2-1.5-.3-1.5 .3-6-.3-5 .3-1.5-.2-.5-.8-1 0-.5 .5-.5 .1-.5-.6-5 0-.5 .3-.5 0-.5-.3-3 0-.5 .2-1-.2-5 0-.5 .4-.5 0-.5-.4-7 0-.5 .4-.5 0-.5-.4-1 .3-.5 0-.5-.3-2 0-.5 .5-.5 0-.5-.5-.5 .2-1 .1-.5-.3-14 0-3 .1-.5 .3-.5-.1-.5-.3-1 0-.5 .4-.5 0-.5-.4-.5 .5-.5 0-.5-.5-.5 .4-.5 0-.5-.3-3.5-.1-2 .1-.5 .4-1.5 0-.5-.5-1.5 .3-.5-.3-2 0-1 1.1-1.5 .2-3-.3-1.5 .3-1.5-.3-3 .1-1.5 .2-4.5-.3-1.5 .2-4-.1-2 .2-4.5-.2-4.5 .2-2.5-.3-2 .3-1.5-.2-4.5 .1-1.5-.2-1-1-4.5 0-.5 .3-.5 0-.5-.3-.5 .3-.5 0-.5-.3-9 0-2.5 .1-.5 .5-.5 0-.5-.6-.5 0-14.5 0-.5 .4-.5 0-.5-.4-4 0-.5 .5-.5 0-.5-.5-1.5 0-.5 .5-.5 0-.5-.5-2 0-.5 .4-.5 0-.5-.3-2-.1-6-.1-1 .1-.5 .5-.5-.1-.5-.4-.5 0-9 0-1 0-.5 .3-1 .2-.5 1-.5 .1-2 0-1.5-.3-3 .4-1.5-.2-1.5 .2-2.5-.1-2-.4-4.5 .1-3 .4-3 0-1.5-.3-1.5 .1-1.5-.2-4.5 .3-1.5-.3-1.5 .4-1.5-.2-3 .1-2.5-.3-1-.9-.5 0-.5-.4-3.5 0-4 0-.5 .3-.5 0-.5-.3-11 0-.5 .3-.5 0-.5-.3-7.5 0-2 0-.5 .4-.5 0-.5-.4-4 0-2 0-.5 .5-.5 0-.5-.5-1 0-4.5 0-.5 .4-.5 0-.5-.4-10 .1-.5 .2-1.5-.3-.5 0-.5 .5-.5 0-.5-.5-1 0-5.5 0-.5 .3-.5 0-.5-.3-.5 .3-.5 0-.5-.3-1 0-.5 1.3-.5 .3-3.5-.1-1.5 .2-4.5-.1-3 .3-4.5-.5-3 .5-1.5-.4-1.5 .2-1.5-.2-1.5 .2-3-.1-1.5 .2-3-.3-1.5 .3-1.5-.3-1 0-.5 8.5-1 .3-2.5-.2-2.5 .3-1-.3-.5-1.2-1-.2-2 .2-.5 .8-.5-.3-.5-.5-1-.2-.5 .5-.5 .8-.5 .2-1-.7-1 0-.5-.8-1 0-.5 .2-1 2.9-.5 1.1-1 .1-.5-.3-1-1.4-1 1.1-.5 .3-1-.3-1 .2-.5-.3-.5-.8-.5 .2-.5 1.7-.5 .8-.5-.4-.5-.8-.5-1.8-.5-.1-1.5 1.7-.5-.1-.5-.7-.5-.1-2 2.4-1-.6-.5 0-.5 1.9-.5 1.3-.5 .2-.5 .6-.5 .3-1-9.1-1.5-.1-1 .2-1.5-.2-1 .1-2.5-.1-4.5 .3-3-.4-3.5 .2-3.5-.2-3.5 .3-1.5-.3-3 .3-1.5-.3-1.5 .3-3 .1-1.5-.4-1 .2-2.5 .1-5-.1-.5-.1-.5-6.3-.5 0-3 .1-1.5-.3-3 .4-3-.4-1.5 .4-1.5-.3-1.5-.1-4.5 .5-1.5-.4-1.5 .3-1.5-.2-3 .3-3 0-1.5-.4-3-.1-3 .5-3-.4-1.5 0-1.5 .4-6-.4-1.5 .4-1.5-.4-6 .3-5-.4-4.5 .4-5.5-.3-1.5 .4-1-.1-.5-2.7-3.5 0-.5 .3-.5 0-.5-.3-8.5 0-2 0-.5 .4-1-.1-.5-.3-1.5 0-.5 .4-1.5 .1-.5 0-.5-.5-8.5 0-.5 .5-.5-.1-.5-.4-.5 .5-.5 0-.5-.5-2.5 0-1.5 0-.5 .4-1 0-.5 0-.5-.4-1 0-.5 .5-.5 0-.5-.5-1 0-25 .1-.5 2.5-.5 .3-1 .2-1.5-.1-3 .1-1.5-.3-2.5-.1-3 .4-2-.5-1 0-3 .5-2-.5-4 .1-3.5 .4-4.5-.2-1.5 .2-1.5-.2-1.5 .2-1.5-.4-3.5 .3-.5-.6-.5-2.3-3.5 0-1 .2-.5 0-.5-.3-.5 0-.5 .5-.5 0-.5-.5-2.5 0-.5 .3-.5 0-.5-.3-11 0-.5 .5-.5 0-.5-.5-1 0-.5 .4-.5 0-.5-.3-11-.1-3 .1-.5 .2-.5 0-.5-.3-.5 .6-.5-.1-.5-.5-.5 .4-.5 0-.5-.4-1 0-.5 .4-.5 0-.5-.4-.5 0-1.5 .1-.5 .3-1 .1-.5 0-.5-.5-2 0-.5 .4-.5 0-.5-.3-.5 .2-1-.3-3.5 .1-.5 .3-.5-.1-.5-.3-9 0-.5 2.4-.5 .5-.5 .1-9.5-.1-3-.3-.5 .2-.5-.7z"/>
<path fill="#000000" d="M138,197.8l15.5-.1 .5-.4 .5-.1 .5 .5 2.5 0 .5-.5 .5 0 .5 .5 9.5 0 1 0 .5-.4 1.5 .4 1.5-.1 .5-.2 .5 .1 .5 .2 21.5 .1 .5-.6 .5 0 .5 .5 2-.3 .5 .3 1.5 .1 .5-.1 .5-.2 .5 0 .5 .2 1 0 1-.5 .5 0 .5-.8 2 0 .5 .3 3.5 0 3 .3 4.5-.3 3 .2 1.5-.1 3.5 .2 2.5-.3 3 .3 3-.3 3 0 2 .2 7-.2 2.5 .1 .5 .9 1 0 12 0 1.5 0 1-.2 .5 .2 14 .1 .5-.6 .5 0 .5 .5 .5 0 .5-.4 .5 0 .5 .4 5 .1 1-.3 .5 .1 3 .1 1 0 .5-.5 .5 0 .5 .5 .5-.2 .5 0 .5 .2 3.5 .1 .5-.4 .5 0 .5 .3 3.5 0 .5-.3 .5 .1 .5 .3 1 0 .5-.4 .5 0 .5 .3 7 0 .5-.4 .5 0 1 .4 1-.4 .5 0 .5-1.4 2 0 .5 1 4-.3 3 .3 4.5 0 3-.2 7.5-.1 1.5 .2 2 0 1.5 .2 10-.3 3 .4 .5 .6 3 .1 7 0 .5-.3 .5 0 .5 .3 2-.1 1.5 0 .5-.4 .5 0 .5 .4 1 0 1.5 0 1-.4 .5 0 .5 .4 5.5 0 .5-.4 .5 0 .5 .4 2.5 0 .5-.4 .5 0 .5 .4 2.5 0 .5-.2 1.5 .3 .5-.5 .5 0 .5 .4 2.5 .1 2-.3 .5 0 .5 .3 15-.1 .5-.5 .5 0 .5 .5 .5-.5 1.5 .1 .5 .4 3.5 0 .5-.4 .5 0 .5 .4 .5 0 .5-.5 .5-1.3 2 0 .5 .9 1.5 .2 6 .1 1.5-.3 2.5 .1 2 .2 2.5-.3 2 .2 2.5-.1 2 .2 3-.3 2.5 0 3.5 .2 1.5-.1 1.5 .2 2.5-.1 2 .1 7-.3 .5 .1 1 .9 .5 0 4.5-.1 .5-.4 .5 .1 .5 .3 1.5 0 .5-.4 .5 0 .5 .3 .5 0 .5-.5 .5 0 1 .6 2.5 0 .5-.3 .5 0 .5 .3 4 0 .5-.4 .5 0 .5 0 .5 .4 3 0 .5-.5 .5-.1 .5 .6 4.5 .1 3-.1 1-.2 .5 .2 1.5 0 .5-.5 .5 0 .5 .5 1 0 .5-.4 .5 0 .5 .4 10.5 0 1 0 .5-.5 .5 0 .5 .5 11 0 1-.4 1-.1 .5-.3 3 .2 1.5-.3 9 .3 1.5-.2 4.5 .2 1.5-.2 2.5 0 2 .3 15-.3 .5 0 1 .8 4 .1 12-.1 .5-.4 .5 0 .5 .4 4.5 0 2.5 0 .5-.6 .5 .1 .5 .5 .5 .1 .5-.4 .5 0 .5 .3 5 0 .5-.4 .5 0 .5 .4 .5 .1 1.5-.1 .5-.4 1.5 .1 .5 .3 5 0 .5-.3 .5-.1 .5 .4 2 .1 2.5 0 .5-.4 .5 0 .5 .3 12 0 .5-.3 .5 0 .5 .3 3 .1 .5 0 .5-2.4 2 0 .5 1 7 .2 3-.3 4.5 .2 1.5-.2 4.5 .1 4.5-.1 10.5 .1 3 .2 2.5-.2 1 .9 .5-.1 .5 .5 .5-.5 .5 0 .5 .5 2 .1 1-.1 .5-.2 1.5 .2 .5-.4 1.5 0 .5 .4 1.5 0 .5-.3 .5-.1 .5 .4 10.5 0 .5-.4 .5 0 .5 .5 8-.2 6 .2 .5 0 .5-.4 .5-.1 .5 .4 8.5 0 .5-.5 .5 .1 .5 .2 1-.1 .5 .3 1 0 .5-.5 .5 0 .5 .5 3.5 0 .5-.4 .5 .1 .5 .4 3-.1 .5 0 .5-.4 .5 0 .5 .4 .5-.5 .5 0 .5 .5 1.5 0 .5-.5 2 .5 .5-1 3.5-.4 1.5 .2 3.5-.2 5.5 .2 1.5-.2 2 .3 5.5-.3 3 .2 1.5-.2 1.5 .3 2-.4 2.5 .3 1.5-.3 4.5 .3 3-.2 1 .1 .5-7.3 1-.1 5 .2 1-.3 1.5 .4 4.5 0 2.5-.3 3.5 .2 2.5-.2 2 .2 1.5-.3 3.5 .4 2.5-.4 2.5 .2 1.5 0 2 .2 1.5-.3 2 .2 3.5-.3 2.5 .4 3.5-.4 1.5 .2 1-.1 1.5 .2 1-.2 2.5 .1 3.5-.1 1 .1 1.5-.2 2.5 .3 1-.3 2.5 .1 1 .2 1.5-.2 2.5 .1 2-.2 3 .4 .5-1.3 1 .3 1-.4 1.5 .3 1-.3 2.5 .2 1-.2 .5 8.7 2-.4 1.5 .3 4.5 .1 3-.2 6 .1 1.5-.2 6 .2 2.5-.2 6.5 0 3 .2 .5 1.2 2.5-.1 .5-.2 .5 0 .5 .3 1.5 0 24 0 .5-.4 .5 0 .5 .4 4.5 0 3.5 0 .5-.5 .5 0 .5 .5 2 0 2 0 .5-.3 .5 0 .5 .4 1-.1 .5-.4 .5 0 .5 .4 9 0 .5-.4 .5 0 .5 .4 1.5 0 .5-.3 .5 0 .5 .4 2.5-.1 0 2.5-6.5-.1-.5 .5-.5 0-.5-.5-3 0-.5 .5-.5 .1-.5-.5-2.5 0-.5 .5-.5-.1-.5-.5-3.5 0-.5 .2-1-.2-11 0-.5 .6-.5 0-1-.6-2 0-5.5 0-.5 .5-.5 0-.5-.5-8 0-.5 .3-.5 0-.5-.3-1.5 0-.5 .5-.5 0-.5-.5-5.5 0-3 .1-.5 1-.5 .1-5.5 .1-1.5 .2-4.5-.3-2.5 .3-2-.3-4.5 .1-1.5-.1-1.5 .3-12.5-.3-.5 8.3-.5-.2-1.5 .1-2-.3-1.5 .4-2.5-.1-.5-.8-4 .2-1.5-.3-1 .2-1.5-.1-1 .1-3.5-.3-2.5 .4-1.5-.2-2.5 .2-2-.4-6 .4-2.5-.1-1.5-.2-2 .3-1.5-.3-2 .2-2.5-.2-3.5 .2-1.5-.2-1 .2-2.5-.2-3.5 .3-2.5-.4-2.5 0-6 .3-2-.3-1.5 .4-10.5-.3-2.5 .3-1-.2-.5-7.5-1 .3-2.5-.2-5 0-4 .2-2-.2-1.5 .3-4-.3-2 .2-1.5-.1-4.5 .1-1.5-.2-1.5 .2-2.5-.2-6 .2-4-.2-.5-1.2-1 0-.5 .4-.5 0-.5-.4-2 .1-.5 .4-.5 0-.5-.5-2.5 0-2.5 0-.5 .4-.5 0-.5-.4-2.5 .1-.5 .3-1.5-.1-.5-.2-2-.1-.5 .5-.5 0-.5-.5-3.5 0-.5 .2-1.5-.2-8.5 0-.5 .4-.5 0-.5-.4-1-.1-4 .1-.5 .3-.5 .1-.5-.4-5.5 0-.5 .3-1.5 .1-.5-.4-8 0-.5 .3-.5 0-1-.3-3 0-.5 .4-.5 0-.5-.5-4.5 .1-.5 0-.5 .9-.5 .6-3-.2-3 .2-7-.3-2 .2-2.5-.3-2 .2-1.5-.1-5.5 .2-2-.2-1 .2-2-.2-1.5 .2-4.5 0-3-.2-.5 .1-.5 1-2 0-.5-2.2-2 0-.5 .3-.5 0-.5-.4-.5 0-8 0-.5 .3-.5 0-.5-.3-2.5 0-.5 .5-.5 0-.5-.5-2 0-.5 .4-.5 0-.5-.4-1 0-30 0-2 0-.5 .4-1.5 .1-.5-.5-9 0-3 .1-1 .6-1 .1-2-.2-1.5 .2-1.5-.3-5.5 .3-3.5-.2-3 .2-1.5-.1-1.5 .1-7.5-.2-4.5 .2-1.5-.2-2.5 .2-2-.2-1.5 .2-.5 0-1-.8-.5 0-.5 .5-.5 0-.5-.5-1.5-.1-2.5 .1-.5 .2-.5 0-.5-.2-13.5 0-.5 .6-.5 0-.5-.6-5.5 0-.5 .5-.5 0-.5-.5-1 0-.5 .3-.5 0-.5-.3-2 0-1.5 0-.5 .5-.5 0-.5-.5-3 0-2.5 .1-.5 .4-.5 0-.5-.5-7.5 0-3.5 0-.5 .2-1-.2-10 0-1 .7-2-.2-3 .2-1.5-.1-1.5 .2-6-.1-1.5 .1-1.5-.3-4.5 .3-1.5-.2-3 .2-1.5-.2-3 .2-3-.2-3 .1-3-.1-1.5 .2-4-.1-1.5 .1-.5 1-2 0-.5-1.8-1 .2-1-.2-2 0-.5 .3-.5 0-.5-.3-4.5 0-.5 .5-.5 0-.5-.5-3.5 0-.5 .5-1.5 .1-.5-.6-1 0-.5 .5-.5 0-1-.5-2.5 0-.5 .5-.5 0-.5-.5-4 0-.5 .5-.5 0-.5-.5-3.5 0-.5 .4-.5 0-.5-.4-9-.1-.5 .4-.5 0-.5-.3-4.5 0-1 0-.5 .4-1 0-.5-.4-3.5 0-.5 .4-.5 0-.5-.4-5 0-.5 .2-.5 .1-.5-.3-3.5 0-.5 0-.5 .9-.5 .1-2 0-1.5-.2-9.5 .3-3-.3-13 .2-6-.3-1.5 .3-3 0-.5 .8-2 0-.5-1.8-1.5 0-2.5 0-.5 .4-.5 0-.5-.4-18.5 0-.5 0-.5 .5-.5 0-.5-.5-9.5 0-.5 .4-.5 0-.5-.4-9-.1-.5 .1-.5 .5-.5 0-.5-.4-1 0-.5 .2-1-.3-3 0-.5 .5-.5 0-1-.2-.5-.3-1-.1-.5 .4-.5 0-1-.1-.5-.3-1.5 .1-.5 .5-.5-.1-.5-.4-1.5-.1-.5 .1-.5 .4-.5 0-.5-.4-.5 .3-.5 0-.5-.3-2.5 .1-.5 .8-.5 .1-3.5 .1-2-.3-4.5 .2-1.5-.2-4.5 .2-4.5-.1-18 .1-1.5-.2-1.5 .2-.5 .3-2 0-.5-1.3-10.5 0-.5 0-.5 .4-.5 0-.5-.4-.5 0-1 0-.5 .6-.5 0-.5-.6-2.5 0-.5 .3-.5 0-.5-.3-2 0-.5 .3-.5 0-.5-.3-.5 0-.5 .4-1 .2-1-.1-.5-.5-4 0-.5 .4-.5 0-.5-.4-5 0-.5 .3-.5 0-.5-.3-4.5 0-1.5 .1-.5 .5-.5-.1-.5-.5-10 0-.5 .5-.5 0-.5-.5-1 0-.5 .3-.5 0-.5-.2-3-.1-1.5 .4-.5-.3-3-.1z"/>
<path fill="#ff0000" d="M138,229.1l6.5 0 .5-1.8 .5-.7 5.5 0 1.5 .1 1.5-.2 1.5 .4 2.5-.2 2 .2 3-.4 1.5 .3 2.5-.3 2 .3 1.5-.3 2.5 .2 2-.2 4.5 .4 1.5-.3 1.5 .2 2.5-.2 2 .1 3-.1 .5 .2 .5 2.3 5 0 .5-.2 .5 0 .5 .2 .5-1.2 2 0 .5 1.2 3 .1 5 0 .5-.5 .5 0 1 .2 .5 .3 14-.1 1.5 0 .5-.3 .5 0 .5 .3 .5 0 .5-.4 .5 0 .5 .4 5-.1 .5-.3 .5 0 .5 .3 2 .1 .5-.4 .5 0 .5 .4 1.5-.3 .5 .3 8 .1 10.5-.1 .5-.5 .5-.1 .5 .5 .5 0 .5-1.7 .5-.7 4 .3 3-.2 1.5 .1 3-.2 1.5 .2 1.5-.3 1.5 .3 1.5-.3 4.5 .4 1.5-.3 1.5 .3 1.5-.1 1.5-.4 2.5 .3 3.5-.3 3 .5 1.5-.4 5 0 .5 2.6 .5 0 .5-.4 .5 0 .5 .4 5.5 0 .5-.5 .5 .1 .5 .5 6.5-.1 .5-.4 1 .1 .5 .3 3-.1 .5-.2 .5 0 .5 .3 5 .1 .5-.6 .5 0 .5 .6 1-.1 .5-.4 .5 0 .5 .1 .5 .3 11 0 .5-.3 .5 0 .5 .4 9.5-.1 1.5-.3 .5 .2 .5-.4 .5 0 .5 .5 15 0 .5-1.9 .5-.7 1.5 .2 2-.2 4 .4 2-.4 3 .4 2.5-.3 2 .3 2.5 0 6.5-.4 2.5 .3 2-.4 3 .4 4-.3 6 .1 .5 .2 .5 2.3 24 0 .5-.3 .5 0 .5 .3 1.5 0 .5-.2 1 .2 5.5 0 .5-.4 .5 0 .5 .4 4 .1 1-.1 .5-.5 .5-.1 .5 .6 5.5 0 .5-.3 .5 0 .5 .3 2 0 .5-2.5 1-2.8 1-.7 1 .5 .5 0 .5 .5 .5 .1 1-.5 2-.1 1-.7 1 1 .5 .2 1-.4 .5 .1 .5-.5 .5 0 .5 .4 .5-.1 .5-.5 1 .3 1-.5 1 .9 .5-.1 1 1.4 .5 .1 1.5 1.2 2 .1 4.5-.3 3 .3 3-.3 1.5 .3 1.5 .1 1.5-.1 1.5-.3 3 .1 1.5 .3 1.5-.5 1.5 .4 6-.1 1.5-.3 1.5 .4 1.5-.3 1.5 .4 1.5-.3 3-.1 1 .1 .5 .8 .5 1.7 .5 0 .5 .3 2.5 0 .5-.3 .5 0 .5 .3 .5 0 .5-.5 1.5 0 1 .1 .5 .3 12 .1 .5 0 .5-.4 .5 0 .5 .4 2.5 0 .5-.3 .5 0 .5 .3 2.5 0 .5-.5 .5 .1 .5 .4 1 0 .5-.5 .5 0 .5 .5 1 0 3 0 .5-.5 .5 0 1 .5 4 0 .5-.3 .5 0 .5 .3 25 0 .5-1.9 .5-.8 1-.2 1.5 .2 6-.2 1.5 .2 9-.3 3 .5 3-.1 1.5-.3 1.5 .3 1.5-.2 3 0 2 .3 4-.5 3 .4 2-.1 .5 .8 .5 1.9 3 0 .5-.4 .5 .1 .5 .4 1.5-.3 1 .2 .5-.3 1 .2 2 .1 .5-.6 .5 0 .5 .6 1.5 0 7.5 0 .5-.4 .5 0 .5 .4 6.5 0 .5-.3 .5 0 .5 .3 2 .1 .5-.6 .5 0 .5 .5 1.5 0 9 .1 .5-.6 .5 0 1 .2 .5 .3 1 0 .5-.4 .5 0 .5 .4 .5 0 .5-.5 .5 0 .5 .5 5 .1 5-.2 .5-.4 .5 0 .5 .3 1.5-.1 .5 .3 1.5 0 .5-.5 .5 0 .5 .5 1 0 .5-.4 .5-.1 .5-2 .5-.7 1-.2 1.5 .4 1.5-.2 1.5 .1 2.5-.3 2 .4 4 .1 2-.5 6 .3 1.5-.2 1.5 .3 1.5-.3 3 .4 6-.5 4.5 .5 3 0 1-.3 .5 .7 .5 2.1 .5 .5 2.5-.1 .5-.4 .5 0 .5 .4 .5 0 10.5 .1 .5-.6 .5 0 .5 .5 4 0 .5-.4 .5 0 .5 .4 .5 0 1.5 0 .5-.4 .5 0 .5 .4 .5 0 .5-.3 2.5 .2 .5-.3 .5 0 .5 .4 1 0 9.5 0 2.5 0 1.5-.4 .5 0 .5 .4 2.5 0 .5 0 .5-.4 .5 0 .5 .4 2.5 0 1.5 0 .5-.5 .5 0 .5 .5 1 .1 .5-.5 .5 0 .5 .4 9.5 0 .5-.3 .5 0 .5 .3 .5-2.1 .5-.8 2 .3 1.5-.3 1.5-.1 2.5 .4 4.5 0 3-.3 2 .3 1.5-.3 1.5 .1 1-.1 3 .4 3.5-.2 1.5-.3 1 0 9.5 .2 1.5-.2 2 .2 .5 .2 .5 2.6 30 0 .5-.3 .5 0 .5 .3 3.5 0 .5-.3 .5 0 .5 .3 1 0 3 0 .5-.3 .5 0 .5 .3 1.5 0 1-.5 .5 0 .5 .5 .5-.4 .5 .1 .5 .3 1.5 0 .5-.3 .5 0 .5 .3 3 0 .5-.3 .5 0 .5 .3 1 0 .5-.3 .5 0 .5 .3 13 0 .5-3.2 .5-.4 3 0 1.5-.3 2 .4 4 .1 1.5-.4 1.5 .4 1.5-.4 2 .1 4-.2 1.5 .4 2-.4 1 0 1.5 .4 1.5-.2 2 .2 2.5-.2 3 .2 2-.2 4 .3 1.5-.5 .5 .1 .5-4.8 1-.2 1.5 .3 2 .1 1.5-.4 2.5 .3 0 19.7-1.5 .2-1-.2-6 .3-.5-4.9-3-.5-3 .4-4.5-.2-3 .3-1.5-.1-1.5 .1-2-.4-2.5 .3-4.5-.3-3 .2-3-.3-1.5 .2-3-.1-4.5 .4-3.5-.3-.5-.4-.5-3.2-1 0-.5 .4-.5 0-.5-.4-1.5 0-.5 .3-.5 0-.5-.3-.5 .4-.5 0-.5-.4-4.5 0-.5 .3-.5 0-.5-.3-5 0-.5 .4-1.5-.1-.5-.3-2 0-.5 .2-1.5-.2-.5 .5-.5 .1-.5-.6-.5 .5-.5-.1-.5-.4-2 0-.5 .4-.5-.1-.5-.3-.5 0-14 0-.5 .5-.5 0-.5-.5-1 0-9.5 0-1 0-.5 .6-.5-.1-.5-.5-5.5 0-.5 .3-.5 0-.5-.4-2.5 .1-.5 0-.5 2.3-.5 .2-1 0-1.5 .4-3-.1-3 .2-1.5-.1-1.5-.3-1.5 .2-3 .1-4.5-.4-3 .4-1.5-.4-1.5 .3-1.5-.3-3 .4-1.5-.4-4.5 .3-3-.1-1.5 .3-1.5-.3-.5-.8-.5-1.9-5.5 0-.5 .4-.5 0-.5-.4-.5 .5-.5 0-.5-.5-6.5-.1-.5 .5-.5 0-.5-.4-2.5 0-.5 .5-.5 0-.5-.5-2.5 0-4.5 0-1 .2-.5-.2-.5 .4-.5-.1-.5-.3-1.5 0-.5 .2-1.5-.2-.5 .4-.5 0-.5-.4-2 0-.5 .4-1.5-.1-.5-.3-3.5 0-.5 .3-.5 0-.5-.3-1 .3-.5 0-.5-.3-6-.1-2 .1-.5 .4-.5 0-.5-.4-3.5 0-.5 .3-.5 0-.5-.4-.5 .5-.5 0-.5-.4-6.5 0-.5 .3-.5 2.2-.5 .7-2-.3-3 .4-1.5-.2-3 .3-1.5-.3-3 .1-1.5-.2-4.5 .2-1.5-.3-3 .2-4.5-.1-1.5 .3-1.5-.4-1.5 .4-1.5-.3-1.5 .3-7.5-.3-.5-.5-.5-2.4-2-.1-.5 .2-1-.2-1-.1-.5 .5-.5 .1-.5-.5-.5 .4-.5-.1-.5-.3-4.5 0-5.5 0-.5 .4-.5 0-.5-.4-1 0-.5 .3-.5 0-.5-.3-1.5 .3-.5-.4-11.5 .1-.5 .3-.5 0-.5-.2-4.5-.1-.5 .4-.5 0-.5-.4-.5 0-.5 .6-.5 0-.5-.1-.5-.5-.5 0-10 .1-.5 .3-.5 0-.5-.4-4 0-.5 .5-.5-.1-.5-.5-6.5 .1-1 0-.5 1.8-.5 .7-2 .3-3-.2-3.5 .3-4-.4-3 .1-1.5 .3-1.5-.3-1.5 .3-3-.4-2 .4-2.5-.3-3-.1-4.5 .3-7.5-.2-1 .2-.5-.6-.5-2.3-3.5 .1-.5 .3-.5 0-.5-.3-2 0-.5 .5-.5 0-1-.4-3-.1-8 0-.5 .3-.5 .1-.5-.4-5 0-.5 .5-.5 0-.5-.5-10-.1-.5 .1-.5 .5-.5 0-.5-.5-5 0-.5 .6-.5 0-.5-.6-1 0-.5 .5-.5 0-.5-.5-.5 0-4.5 0-1 .2-.5-.2-2.5 0-.5 .3-1-.3-4-.1-2.5 .1-.5 .6-.5-.1-.5-.5-2.5 0-.5 1.9-.5 .7-5.5-.1-3 .5-1.5 0-1.5-.2-3 .1-1.5-.4-1.5 0-1.5 .4-1.5-.3-4.5 .2-4.5 0-1.5-.3-1.5 .4-6-.1-1.5 .2-2-.3-1 .1-2 .9-.5-.2-.5 .5-.5 .8-.5 0-.5 .8-.5 .4-1-.6-1 .5-.5-.4-.5 .1-.5 .6-.5-.2-.5-.7-1.5 .4-.5 .7-.5 0-.5-1-.5 .1-.5 1.2-.5 .3-1.5-2.3-.5-.1-1.5 .9-1.5 .3-.5-.1-.5-.6-.5-1.8-.5-1.1-.5-2.2-1 0-.5 0-.5 .5-.5 0-.5-.5-.5 .3-.5 0-.5-.3-1 0-28.5 0-.5 .4-.5 0-.5-.4-7.5 0-.5 .2-.5 0-.5-.2-6.5 0-.5 2.2-.5 .1-3 .3-1.5-.3-1.5 .3-2-.3-6 .3-2.5-.3-6 .1-3-.2-7.5 .4-5-.2-5.5 .2-.5-.7-.5-1.9-1 .2-.5-.2-2.5 0-.5 .4-2-.5-1 .1-.5 .5-.5 0-.5-.5-5.5-.1-7.5 .1-.5 .2-1-.2-2 0-.5 .5-.5 0-.5-.5-2.5 0-2 0-1 .2-.5-.2-4 0-.5 .4-1.5-.1-.5-.3-2 0-.5 .3-.5 0-.5-.3-3.5 0-.5 .5-1.5-.1-.5-.4-5.5 0-.5 .4-.5 .1-.5-.5-2 0-.5 .5-.5-.1-.5-.5-12.5 .1-.5 2.6-3-.2-1.5 .3-6-.5-1.5 .3-1.5-.3-1.5 .5-1.5-.4-6 .3-3-.4-1.5 .4-1.5-.2-3 .2-1.5-.3-1.5 .3-1.5-.1-3 .1-4.5-.3-.5-.6-.5-1.7-1.5 .3-.5-.3-4.5 0-.5 .4-.5 0-.5-.4-10 0-.5 .4-.5 0-.5-.4-7 0-.5 .3-1.5 .2-.5-.5-3 0-.5-.1-.5 .4-1 .2-.5-.5-3 0-.5 .4-.5 0-.5-.4-9 0-.5 .3-1 0-.5-.4-.5 0-.5 .5-.5 0-1-.4-5.5 0-.5 .4-.5 0-.5-.4-2.5 0-.5 1.1-2 0-.5-1.2-6.5 0-.5 2.4-.5 .2-1.5-.3-1.5 .4-1.5-.4-6 .4-6-.4-1.5 .4-1.5-.2-2 .3-1 0-1.5-.3-6.5 .2-1 0-1.5-.4-1.5 .4-7.5-.3-1.5 .4-1-.2-.5-.8-.5-1.7-6.5 0zM950,224.4h2.1v12h-2.1z"/>
<path fill="#0000ff" d="M138,252.7l1.5-.1 1.5-.3 2.5 .3 5-.3 4.5 .3 2.5-.3 4.5 .3 1.5-.1 1 .2 2.5-.1 1.5-.3 3 .4 2.5-.3 2.5 0 2.5 .3 7-.4 4 .2 2-.2 1.5 .3 2.5-.2 1 .3 1.5-.3 2.5 .3 2 0 1-.2 1.5 .2 1-.2 2.5 .2 .5-.2 .5-2.9 2-.3 1 .2 1-.2 4 .1 .5 11.3 .5-3.7 .5 0 2 .4 4.5-.1 1.5-.4 3 .4 3 0 1.5-.2 1.5 .1 1.5-.1 1.5 .1 4.5-.2 1.5 .3 1.5-.2 1.5 .3 1.5-.3 3 .1 1.5 .3 1-.1 .5 .8 .5 2.5 .5 0 .5-.4 .5 0 .5 .4 1.5-.2 .5 .2 1.5 0 .5-.3 .5 0 .5 .3 8.5 0 .5 0 .5-.5 .5-.1 .5 .6 1 0 5.5 0 .5-.4 .5 0 .5 .4 6 0 .5-.3 .5 0 .5 .3 .5 0 .5-.5 .5 0 1 .5 1 0 10 0 .5-.3 .5 0 .5 .3 4.5 0 .5-.3 .5 0 .5 .3 1 0 .5-.2 .5 0 .5 .2 4 0 8.5 0 .5-.4 .5 0 .5 .4 .5 0 .5-2.8 .5-.9 1-.1 1.5 0 1.5 .2 6.5-.2 2.5 .1 1.5 .3 3-.1 1.5-.3 1.5 .3 3-.2 3 .3 1.5-.4 3.5 .4 2.5-.2 2 .1 2.5-.4 3 .5 1.5-.3 1 .1 .5 .4 .5 3.2 .5 0 4.5-.1 .5-.3 .5-.1 .5 .4 2.5 .1 .5-.4 1 0 .5 .3 .5 .1 .5-.4 .5 0 .5 .4 8 0 .5-.5 .5 0 .5 .5 2.5 0 .5-.2 1 .2 5.5 0 .5-.3 .5-.1 .5 .1 .5 .3 1 0 .5-.4 .5 0 .5 .4 6.5 0 .5-.4 .5 0 .5 .4 6 0 .5-.2 1 .2 11 0 .5-.3 .5 0 .5 .3 1.5 0 1-.5 .5 0 .5 .5 4-.1 .5-.5 .5-1.9 .5-.4 2-.3 1.5 .2 4.5-.3 1.5 .4 1.5 0 6-.4 2 .3 4-.3 4.5 0 4.5 .4 3-.3 3 .3 1.5-.3 3.5 .1 .5 .4 .5 2.7 4 0 .5-.4 .5 0 .5 .3 6 .2 21-.1 .5-.4 .5 .1 .5 .3 1.5-.2 .5 .2 2.5 0 .5-.4 .5 0 .5 .4 .5-.5 .5 0 .5 .5 2 0 1-.2 .5 .2 2 0 .5-.4 .5 0 .5 .4 10.5 0 .5-.5 .5 0 .5 .5 1.5 0 .5-.3 2 .1 .5 .2 4 .1 2.5-.1 .5-2.1 .5-.8 .5-.1 1.5 .2 2-.2 2.5 .3 3.5-.3 2.5 .2 2-.2 4.5 .4 3-.2 4 .1 3-.3 2 .3 4 .1 4.5-.5 3.5 .3 .5 .7 .5 2.1 2.5-.3 .5 0 .5 .3 2 0 .5-.4 1.5 0 .5 .3 4.5 .1 1 0 .5-.6 .5 0 .5 .6 3.5 0 6 0 .5-.2 1 0 .5 .2 1.5 0 .5-.5 .5 0 1 .1 .5 .4 5 0 .5-.5 .5 0 .5 .5 .5 0 .5-.5 .5 0 .5 .5 3.5 0 .5-.4 .5 0 .5 .4 7 0 .5-.4 .5 0 .5 .4 2 .1 10.5-.1 1 0 .5-.5 .5 0 .5 .5 3 0 .5-1.8 .5-.8 4.5 .1 1.5-.2 1.5 .3 3-.3 3 .4 1.5 0 1.5-.4 3 0 1.5 .4 1.5-.3 1.5 .2 3-.3 3 .4 1.5-.2 1.5 .1 1.5-.3 4.5 0 1.5 .4 1.5-.3 2.5 .2 .5 .6 .5 1.8 8.5 0 .5-.4 1.5 .2 .5 .2 2.5 0 1-.2 .5 .2 4.5 0 .5-.2 .5-.1 .5 .3 1-.3 .5 0 .5 .3 2.5 0 1-.5 .5 0 .5 .5 3 .1 .5-.6 1-1.5 .5-.5 1.5-.9 .5-.5 .5-1.1 .5-1.5 .5-.8 .5-.3 1 .9 .5 .2 1.5-.6 1 1.8 .5-.5 .5-1 .5-.3 .5-.1 .5 .3 1 1.2 1 .5 2.5-.4 1 .1 1 .5 1-.3 .5 .2 1 .9 .5 .2 1.5-.4 1 .2 .5-.4 .5-.8 .5-.3 1.5 1 1 .2 1-.2 1 .4 .5 .1 1-1 1.5 .7 1-.7 .5-.1 1.5 .6 2-.8 1-.1 .5-.4 2 1.3 .5-.8 .5-.4 .5 1.6 .5 1.3 1 1.2 .5-.3 1-.1 4 .4 4.5-.4 3.5 .3 2.5 0 3-.2 3.5 .2 3-.3 4 .3 3-.2 2 .3 5-.4 .5 .2 .5 2 1.5 0 .5-.3 1 0 .5 .3 4 0 1.5-.2 .5 .2 1 0 3.5-.1 .5-.2 .5 0 .5 .3 5.5 .1 3.5-.1 .5-.3 .5 0 .5 .3 1 .1 1-.1 .5-.3 1 .3 4 0 .5-.4 .5 0 .5 .4 21.5 .1 1-.3 .5 .2 8 0 .5-1.3 .5-.2 3.5 .1 2-.3 4 .3 2-.2 2.5 0 2 .3 5.5-.4 2 .4 4.5-.3 1.5 .2 6-.3 5.5 .3 4.5-.3 4.5 .3 6-.3 2 .2 4-.2 2 .3 4-.3 2 .4 4.5-.3 .5 .5 .5 1.1 .5 0 .5-.4 .5 0 .5 .4 4.5 0 .5-.5 .5 .1 .5 .4 1.5 0 .5-.4 .5 0 .5 .4 1 0 .5 0 .5-.5 .5 0 .5 .5 2.5 .1 2-.1 .5-.4 .5 0 .5 .4 11 0 0 2.6-.5 .4-.5 0-.5-.4-22 0-.5 .4-.5 0-.5-.5-5 .1-.5 0-1.5 1.4-1-.1-1.5 .3-4.5-.2-2.5 .3-6-.2-2 .1-4-.2-6.5 .3-1.5-.4-1.5 .2-7-.2-2 .3-3-.2-4.5 .3-4.5-.3-1.5 .2-1.5-.3-3 .2-1.5-.1-1.5 .3-3-.4-10.5 .1-.5-.1-.5-1-.5-.4-3 0-.5 .4-.5 0-.5-.3-1 0-.5 .3-.5 0-.5 0-.5-.3-9.5 0-.5 .5-.5 0-1-.1-.5-.3-3-.1-1 0-.5 .3-.5 0-.5-.3-6 0-.5 .4-.5 0-.5-.4-2 0-7.5 0-.5 .3-.5 0-.5-.3-4.5 0-.5 .3-.5 0-.5-.3-.5 .4-.5-.1-.5-.3-2 0-.5 .3-.5 0-.5-.3-10 0-1 0-.5 1.8-.5 .1-5-.1-1.5 .3-4.5-.1-1.5 .2-1.5-.3-3 .3-1.5-.4-2 .3-4-.3-4.5 .4-4.5 0-1.5-.2-1.5 .2-2.5-.3-.5-.4-1 1.6-1 2.1-.5-.3-1 .3-.5-.3-.5 0-.5 .3-1-.1-.5 .1-1-.6-1-.1-.5 .2-1.5 1.1-1-1.3-.5-.2-1.5 .2-1 .7-2-.7-2 1.1-.5 0-.5-.2-1.5-1.1-.5 0-.5 .4-2 .3-.5 .3-1-.3-1 .3-1-.4-1 .1-.5 .1-1 .8-.5 0-1-.3-1 .9-.5 .1-1-.2-.5-.9-.5 .5-.5 .9-.5 .3-1.5-1-.5 .3-1 1.2-1-1.2-.5-1.1-2-2.9-1-.3-1-1.3-.5-.9-1.5 0-1 .2-.5-.2-7.5 0-.5 .3-.5 0-.5-.3-2 0-.5 .5-.5 0-.5-.5-.5 .4-.5 0-.5-.4-6-.1-1.5 .3-.5-.2-4 0-.5 .5-.5-.1-.5-.4-.5 1.7-.5 .7-1 .3-1.5-.4-2 .4-5.5-.4-1.5 .2-2-.2-2.5 .4-1.5-.3-3 .3-3.5-.3-5.5 .1-2 .2-3-.3-2.5 .2-2-.3-3 .3-2.5-.1-.5-.7-.5-1.8-1 0-1 .4-.5 0-.5-.4-8 0-.5 .4-.5 0-.5-.5-.5 .1-.5 .3-.5 0-.5-.3-9.5 0-.5 .5-.5 0-1-.5-1-.1-.5 .5-.5 0-.5-.4-4.5 0-1 0-.5 .5-.5 0-.5-.5-12 0-1 .2-.5-.2-2 .2-.5-.2-2.5 0-.5 .4-.5-.1-.5-.3-11.5-.1-1.5 .1-.5 .4-.5 0-.5-.4-.5 0-.5 1.9-.5 .7-1.5 .4-3-.3-4.5 .2-4.5-.2-5.5 .2-2-.3-3 .4-6-.4-3 .4-4.5-.4-1.5 .1-1.5 .3-2.5-.2-.5-.8-.5-2-4-.1-.5 .5-.5 0-.5-.4-20-.1-.5 0-.5 .5-.5 0-.5-.4-.5 .5-.5 0-.5-.5-.5 0-3 0-.5 .4-.5 0-.5-.5-3 .1-.5 .4-.5 .1-.5-.5-9 .1-.5 .2-.5 0-.5-.3-3 0-.5 .4-.5 0-.5-.5-16.5 .1-1.5 0-.5 2.7-.5 .5-.5 .1-2.5-.3-2 .3-2.5-.3-2 .3-3-.4-1.5 .3-6-.2-1.5 .3-1.5-.5-1 0-2 .4-1.5-.2-3 .1-1-.2-2 .2-1-.2-2 .3-1.5-.3-1.5 .3-3.5 .1-.5-.4-.5-2.9-2.5 0-.5 .4-.5 0-.5-.4-11 0-2 .3-.5-.3-3.5 0-4.5 0-.5 .3-.5 0-.5-.3-1.5 0-.5 .4-.5 0-.5-.4-.5 0-.5 .5-.5 .1-.5-.6-1 0-1 .3-3.5-.3-7.5 0-1 .5-.5 .1-.5-.6-3 0-.5 .5-.5 0-.5-.5-2 0-.5 .5-.5 0-.5-.5-.5 .6-.5 0-.5-.6-.5 0-11-.1-.5 .1-.5 .5-.5 0-.5-.5-2.5 0-.5 3.3-.5 .3-2.5 .1-1.5-.4-1.5 .4-1 0-2-.3-6 0-1.5 .5-1.5-.4-5.5-.2-2 .5-1.5-.5-3 .4-1.5-.3-3 .4-3-.3-3 0-1.5 .2-1.5-.2-1 .2-.5-.8-.5-2.4-.5 0-.5-.4-2-.1-.5 .4-.5 .1-.5-.5-4.5 0-.5 .6-2.5-.3-.5-.3-2.5 0-.5 .2-.5 0-.5-.2-3 0-.5 .3-1.5-.4-21 .1-.5 .4-.5 0-.5-.5-5.5 0-4.5 .1-.5 .5-.5 0-.5-.4-1.5-.1-2 0-.5 .5-.5-.1-.5-.4-2 0-.5 .5-.5 0-.5-.5-4.5 0-.5 .3-.5 0-.5-.3-1-.1-.5 2.8-.5 .9-5 0-3-.3-2.5 .3-2-.2-1.5 .4-3-.2-1.5-.3-4.5-.1-1.5 .3-3 .1-3 0-3-.3-3 .3-.5-3.6-.5 10.9-.5 0-2 .1-1-.2-1.5 .4-1.5-.3-1.5 .2-.5-2.8-2-.2-1.5 .2-2-.2-2.5 .2-1.5-.3-1 .3-1.5-.2-3.5 .1-3.5-.2-1 .2-2.5-.1-2 .2-1.5-.2-2.5 .2-3.5-.2-2.5 .2-2.5-.3-2 .4-1.5-.3-5 .1-1-.2-2.5 .3-3.5-.3-2.5 .1-1.5 .3-4.5-.3-3.5 .2-2-.2-1.5 .2-1.5-.3z"/>
<path fill="#008000" d="M138,291.7l1.5 .3 11.5 0 .5-.3 1.5 .3 2 0 .5-.3 .5 0 .5 .3 1 0 .5-.4 .5 0 .5 .4 4 0 .5-.4 .5 0 .5 .4 2.5 0 .5-.5 .5 0 .5 .6 1 0 .5-.5 .5 0 .5 .3 6.5 .1 .5 0 .5-.9 .5-.2 1-.2 1.5 .2 1.5-.4 1.5 .4 10.5-.3 7.5 .2 1.5-.2 3 .2 1.5-.3 1.5 .4 6-.4 1.5 .4 3-.3 .5 .1 .5 1.3 1 0 1.5 0 .5-.5 .5 0 .5 .5 4 0 .5-.4 .5 0 .5 .3 .5-.3 .5 0 .5 .4 3 0 1-.2 .5 .2 .5-.4 .5 0 .5 .4 6 0 .5-.3 .5 0 .5 .3 2 0 .5-.3 .5-.1 .5 .4 .5-.2 1 .2 2.5-.1 .5-.4 1.5 .1 .5 .4 1 0 .5-.4 .5 0 .5 .4 1-.3 .5 0 .5 .3 4 0 .5-.5 .5 0 .5 .5 1 0 3.5 0 .5-.5 .5 0 .5 .5 4.5 0 .5-.2 1 .2 1.5 0 .5-.3 .5 0 .5 .3 8.5 0 1 0 .5-.6 .5 0 .5 .5 .5 .1 1-1.1 4.5 .2 4.5-.4 3 .4 3-.4 4.5 .4 1.5 0 1.5-.3 3 .2 4.5-.1 1.5 .1 3-.3 4.5 .2 1.5 .2 3-.3 .5 1.2 .5 0 .5-.6 .5 0 .5 .5 7 .1 2.5 0 .5-.2 .5 0 .5 .2 5.5 0 .5-.4 .5 0 .5 .4 1 0 .5-.4 .5 0 .5 .4 1 0 .5-.2 1 .2 3 0 .5-.3 .5 0 .5 .2 1 0 .5-.3 .5 0 .5 .4 2.5 0 .5-.4 .5-.1 .5 .5 .5-.1 .5-.3 .5 0 .5 .4 4.5 0 3.5 0 .5-.4 .5 0 .5 .4 11.5 0 .5-.3 .5 0 .5 .3 9.5-.1 .5-1 .5-.2 .5-.1 2 .3 4-.2 2 .2 3-.3 6 .3 1.5 0 1.5-.3 3 .3 1.5-.3 3 .3 3 0 4-.3 3.5 .2 5.5-.1 .5-6.7 1 .1 1-.1 2.5 .2 2-.3 2.5 .3 1.5-.3 6-.1 1 .2 4 0 2 .2 1.5-.3 1 .3 1.5-.3 1 .2 3.5-.2 1.5 .2 1-.2 1.5 .2 2.5-.3 3 .4 1.5-.2 3.5 .2 1.5-.3 2 .3 3.5 0 1.5-.3 1 .3 1.5-.1 1 .1 2.5-.3 1 .2 1.5-.1 1 .1 2.5-.2 2.5 .1 1-.2 2 .3 2.5-.2 1.5 .3 2.5-.3 1.5 .1 .5-1.1 1-.1 2 .5 1.5-.3 3 .2 .5 7.3 2.5-.5 1.5 .3 1.5-.2 3 .3 1.5-.2 3 .2 1.5 0 1.5-.3 3-.1 1.5 .2 3-.1 1.5 .3 1.5-.2 3 .1 1.5-.3 3 .4 1.5-.3 .5 .4 .5 1.5 4-.1 .5-.3 .5 0 .5 .4 1 0 4 0 .5-.3 .5 0 .5 .3 2.5 0 .5-.4 .5 0 .5 .4 5.5 0 .5-.4 .5 0 .5 .4 9.5 0 2 0 .5-.6 .5 0 .5 .6 1 0 5.5 0 .5-.4 .5 0 .5 .3 .5 .1 .5-.4 .5 .1 .5 .3 6 0 .5-.4 1 .2 .5 .2 11.5 0 .5-.4 .5 0 .5 .4 .5 0 .5-.3 .5 0 .5 .3 3.5 0 .5-2.2 .5-.2 2.5 .3 1.5-.3 3 .1 1.5-.2 1.5 .4 3-.4 3 .4 1.5-.1 1.5-.4 3 .3 3-.1 1.5 .3 1.5-.4 3 .2 1.5-.2 6 .4 3 0 2-.3 .5 .6 .5 1.8 1.5 0 .5-.3 .5 0 .5 .3 5.5 0 13 0 .5-.5 .5 0 .5 .5 .5 0 .5-.4 .5-.1 .5 .5 2 0 1.5-.3 .5 .3 4 0 .5 0 .5-.5 .5 0 .5 .5 3.5 0 .5-.5 .5 0 .5 .5 .5 0 .5-.5 .5 0 .5 .5 3.5 0 .5-.3 1.5 .3 9.5 0 .5 0 .5-.4 .5 0 .5 .4 1.5-.3 .5 .2 1.5 .1 9.5 0 .5-1.8 .5-.6 .5 0 1.5-.2 3 .3 1.5-.3 3 .2 1.5-.1 1.5 .3 1.5-.4 3 .1 1.5 .3 3-.2 1.5 .2 3 0 1.5-.3 6 .4 7.5-.4 1.5 .2 1.5-.1 .5 .7 .5 1.7 .5-.3 1.5 .3 10.5 0 .5-.2 1 .2 2.5 0 .5-.5 .5 0 .5 .5 2.5 0 .5-.4 .5 0 .5 .4 2.5 0 1 0 .5-.5 .5 0 .5 .5 3-.1 .5-.2 .5 0 .5 .3 1 0 .5-.4 .5 0 .5 .4 5.5 0 1-.5 .5 0 .5 .5 1 0 .5-.4 .5-.1 .5 .5 2 0 .5-.5 .5 0 .5 .5 2.5 0 8 0 .5-.3 .5 0 .5 .3 3.5 0 1-.5 .5 0 .5 .5 3-.1 .5-.2 1 .3 1.5-.1 .5-2 .5-.3 1.5 .1 1.5-.2 3 .1 3-.2 1.5 .3 3-.1 1.5 .1 1.5-.1 1.5 .2 4.5-.3 10.5 .3 1.5-.3 3-.1 5.5 .3 .5 .7 .5 1.5 1 .1 1 0 .5-.6 2 0 .5 .5 1.5 0 .5-.5 .5 .1 .5 .5 .5 0 3-.1 .5-.2 .5 0 .5 .3 2.5 0 .5-.5 1.5 0 .5 .5 1 0 22.5 0 2 0 .5-.4 .5 0 .5 .4 1 0 3.5 0 1-.2 .5 .2 8.5 0 .5 0 .5-.5 .5-.1 .5 .5 .5 .1 .5-.5 .5 0 .5 .5 7 0 .5-2 .5-.4 1-.2 1.5-.1 3 .3 1.5-.2 2.5 .1 .5 .7 0 6.6-.5 .7-3.5 .3-2-.3-4 .3-.5-.4-.5-2.4-4 .1-.5 .3-1 .1-.5-.5-2.5 .1-.5 .3-1.5-.3-9 0-.5 .4-.5 0-.5-.4-1.5 0-.5 .2-.5 .1-1-.3-6 0-.5 .4-.5 0-.5-.4-5.5-.1-.5 .4-.5 0-.5-.3-.5 .5-.5 0-.5-.5-1.5 0-.5 .3-.5 0-.5-.3-3 0-.5 .4-.5 0-.5-.4-2-.1-20.5 0-.5 1.8-.5 .6-1 0-1 .2-1.5 0-1.5-.4-2 .3-2.5-.2-1.5 .3-2-.2-4 .1-3-.2-4.5 .3-1.5-.3-3 .3-1.5-.4-1.5 .4-2-.3-3 .3-6-.1-.5-.4-.5-2.1-9 .1-.5 .4-.5 0-.5-.4-2-.1-2.5 .1-.5 .4-1 0-.5-.4-1 0-6.5-.1-1.5 .4-.5-.3-10-.1-.5 .6-.5 0-.5-.5-.5 0-.5 .3-.5 0-.5-.3-.5 .3-.5 0-.5-.3-1 0-.5 .3-.5 0-.5-.4-1.5 .4-.5-.3-11.5 0-.5 .5-.5 0-.5-.5-1.5 0-.5 .4-.5 0-.5-.4-7.5-.1-1.5 .1-.5 1.8-.5 .7-2-.3-1.5 .3-1.5-.3-1.5 .2-3-.3-3 0-3 .3-4.5-.1-1.5 .2-2-.3-3 .4-2.5-.4-1.5 .3-3-.4-4.5 .4-3-.3-3 0-.5-.6-.5-1.6-7 0-.5 .4-.5 0-.5-.4-1 .2-.5 0-.5-.2-1 0-.5 .3-.5 0-.5-.3-.5 0-.5 .5-1.5-.1-.5-.5-.5 .5-.5 0-.5-.5-7 .1-.5 .3-.5 0-.5-.3-8 0-.5 .4-.5 0-.5-.4-1.5 0-.5 .4-.5 0-.5-.4-.5 .6-.5 0-1-.3-.5-.3-3.5 0-.5 .4-.5 0-.5-.4-.5 .2-1 .2-.5-.4-1 0-.5 .6-.5-.1-.5-.5-6-.1-.5 .4-.5 0-.5-.3-13 0-.5 .4-.5 0-.5 1.2-.5 .8-.5 0-6-.2-1.5 .3-11.5-.4-3.5 .4-1.5-.4-3 .4-3 .1-3-.5-2.5 .5-2-.5-1.5 .3-1.5-.3-2.5 .3-.5-.2-.5-2.2-1 0-.5 .5-.5 0-.5-.6-.5 0-15.5 0-.5 .6-.5 0-.5-.1-.5-.4-3.5 0-.5 .2-.5 0-.5-.2-4.5 0-.5 .4-.5 .1-.5-.5-1.5-.1-3 .1-.5 .4-.5 0-.5-.4-2.5 0-.5 .5-.5-.1-.5-.4-.5 0-3.5 0-.5 .4-.5 0-1-.1-.5-.3-2.5-.1-13.5 0-.5 .3-.5 .1-.5-.3-7 0-.5 1.5-.5 .3-2.5-.2-1.5 .3-1.5-.3-4 .4-2-.3-6 .1-1.5-.2-1.5 .3-2.5-.3-2 .2-2.5-.2-2 .3-3-.3-1.5 .3-1.5-.3-.5 7-3.5 .4-2.5-.4-1.5 0-.5-.7-3 .2-2.5-.3-3.5 .1-2-.2-1.5 .3-2.5-.2-2.5 .3-2.5-.2-2 .2-1.5-.3-3.5 0-1.5 .4-3-.3-1.5 .2-3.5-.2-5 .2-2.5 0-2-.3-1.5 .2-1-.1-2.5 .1-1-.2-1.5 .2-1-.2-1.5 .3-2.5 0-2-.3-3.5 .2-5-.2-2.5 .3-2-.3-4 .3-2-.3-1 .1-.5-6.7-4.5 .1-3-.2-1.5 .2-2-.3-3 .4-2.5-.3-2 .2-4-.1-3 .2-9-.2-1.5 .2-4.5-.3-2 .3-1.5-.2-.5-.2-.5-1-2.5-.1-.5 .1-.5 .6-.5 0-.5-.6-.5 .4-.5-.1-.5-.3-3.5 0-.5 .3-.5 0-.5-.4-5 .1-.5 .4-.5 0-.5-.4-.5 .2-1-.2-11 0-.5 .3-.5 0-.5-.3-1.5 0-.5 .2-.5 0-.5-.2-.5 0-.5 .4-.5 0-.5-.4-3.5-.1-.5 .1-.5 .5-.5 0-.5-.5-.5 0-8.5 0-.5 .4-.5 0-.5-.5-12.5 .1-.5 .4-2.5-.1-.5-.3-1.5 0-.5 .9-4 .3-9-.3-3 .3-3-.3-2 .2-1.5-.1-5.5 .2-3.5-.3-4.5 .1-1.5-.1-6 .3-1-1.2-1.5-.1-2 0-.5 .5-.5 0-.5-.5-.5 0-.5 .5-.5 0-.5-.4-3.5 0-.5 .4-.5 0-.5-.5-7 .1-.5 .4-.5 0-.5-.4-4.5 0-.5 .4-.5 0-.5-.4-3.5-.1-3 .1-.5 .4-.5 0-.5-.4-.5 .4-.5 0-.5-.4-2.5-.1-2.5 .1-.5 .4-.5 0-.5-.4-1 0-.5 .4-.5 0-.5-.4-13.5-.1-1 .1-.5 .2-.5 0-.5-.2-5 0-.5 .5-.5 0-.5-.5-3.5 0-.5 1.1-1.5 .3-6-.3-3 .2-2-.2-4.5 .2-3-.2-3 .3-3-.3-4 .2-5-.2-4.5 .3-1.5-.1-1-.1-.5-.2-.5-1-2 0-1 .2-.5-.2-.5 .3-1.5-.3-6-.1-1 .1-.5 .3-.5 0-.5-.4-2 0-2 .1-.5 .4-.5-.1-.5-.3-1-.1-.5 .4-1.5 .2-.5-.5-2 0-5 0-.5 .3-1.5-.3-8-.1z"/>
<path fill="#000000" d="M138,321.7l.5-.7 .5-.1 3-.1 2 .4 5.5-.4 2 .4 5.5-.2 3 .1 2-.3 4 .2 2-.2 3 .2 .5 .3 .5 2.4 .5-.1 .5-.4 .5 0 .5 .5 3.5 0 .5-.5 .5-.1 .5 .5 8 .1 .5-.6 .5 0 .5 .5 .5-.5 .5 0 .5 .5 .5 .1 8-.1 .5-.5 .5 0 .5 .5 1 .1 8-.1 .5-.2 1 .2 1 0 .5-.5 .5 0 .5 .5 1.5 .1 4.5-.1 .5-.2 .5 0 .5 .2 4.5 .1 1-.1 1-.5 .5 0 .5 .5 1.5-.2 .5 .2 7.5 0 .5-.3 .5 0 .5 .3 4 .1 .5-2.2 .5-.8 1.5 .4 1.5 0 1.5-.3 1.5 .3 1.5 0 1.5-.5 3 .4 3-.4 1.5 .4 1.5-.3 4-.1 2 .3 1.5-.1 1.5 .3 1.5-.4 3 .4 6-.4 3 .4 1.5-.2 .5 .7 .5 1.6 .5 0 .5 .5 .5-.3 1.5-.1 .5 .3 2 .1 22.5 0 .5-.5 .5 0 .5 .4 1.5 .1 1.5 0 .5-.4 .5 0 .5 .3 1.5 0 7 0 .5-.3 .5 0 .5 .3 8.5 0 .5-.3 .5 0 .5 .3 1 .1 5.5-.1 1-.2 .5 .2 6 0 .5-.4 .5 0 .5-1.5 .5-.8 .5-.1 3 .3 3.5 .1 2.5-.1 2-.3 4 .4 2-.4 3 .2 5.5-.1 2 .3 4-.1 2-.4 2.5 .4 2-.3 4.5 .2 .5 .8 .5 1.9 2-.1 .5-.3 1.5 .4 7-.1 .5-.4 .5 0 .5 .4 8.5 0 .5-.3 .5 0 .5 .3 2.5 0 .5-1.5 1.5 0 .5 1.5 5.5 0 .5-.3 .5 0 .5 .4 1 0 .5-.3 .5-.1 .5 .3 1 0 .5-.4 .5 0 .5 0 .5 .4 1.5 .1 4.5 0 1.5-.3 .5 .2 1 .1 3-.1 1.5-.2 .5 .2 2.5 .1 4.5-.1 6 .1 3.5-.1 .5-2.4 1-.5 3 .1 1.5 .3 1.5-.2 1.5 .1 1.5-.2 4.5 .3 1.5-.1 4.5 .2 4.5-.4 3 .4 4.5-.3 3 .1 1.5-.2 1.5 .3 1.5-.2 2 .3 .5 .2 .5 2.2 1 .1 2-.1 .5-.4 .5 0 .5 .4 1 0 .5-.5 .5 0 .5 .5 .5 0 .5-.4 .5 0 .5 .4 10 .1 .5 0 .5-.4 .5-.1 .5 .4 1 0 .5-.3 .5 0 .5 .3 7.5 0 3 0 .5-.5 .5 0 .5 .6 3 0 1-.1 .5-.5 .5-1 2 0 .5 1.6 2-.1 .5-.2 .5 0 .5 .3 3-.1 .5-.4 .5 0 .5 .5 7 0 .5-.3 .5-.1 .5 .3 .5-.4 .5 0 .5 .5 7.5-.1 .5-1.9 .5-.8 1.5 .3 7.5-.2 1.5-.2 1.5 .2 3-.2 1.5 .4 1.5-.2 2 .2 3-.2 2.5 .2 2-.3 2.5-.2 1.5 .3 3-.2 3 .4 5-.3 .5 .3 .5 2.4 11.5 0 .5-.3 .5 0 .5 .4 .5 0 .5-.3 1.5 .3 .5-.3 .5-.1 .5 .3 3 .1 1-.1 .5-.4 .5 0 .5 .4 .5-.4 .5 .1 .5 .3 5 0 .5-1 1.5 0 .5 .8 .5 .3 7.5 0 .5-.4 1 0 .5 .3 8 .1 .5-.5 .5 0 .5 .4 11.5 .1 .5-.5 .5 0 .5 .4 6.5 .1 .5-3 .5-.2 1.5 .2 2.5-.3 1.5 .3 2-.3 2.5 .4 6-.5 1.5 .4 2-.1 1 .2 1.5-.3 3.5-.1 5.5 0 3 .2 1.5-.2 4.5 .4 2.5-.2 .5-5.2 7.5 .3 2.5-.3 1 .3 2.5-.2 1 .2 1.5-.2 3.5 .2 1-.3 1.5 .3 3.5-.1 2-.2 1.5 .2 2.5-.2 1 .3 1.5-.3 2 0 1.5 .4 2.5-.3 4.5 .2 1.5-.3 2.5 .3 3.5-.2 1 .2 1-.3 1.5 .4 2-.3 1.5 .2 2.5-.3 2.5 .1 1 .2 4.5-.2 2.5 .2 1.5-.3 2.5 0 2.5 .3 1-.2 1 .3 .5-.1 .5-1.4 3.5 0 2.5-.1 1.5 0 .5 7.5 .5-.3 7.5 .2 1.5-.2 1.5 .3 1.5-.2 4.5 .2 4.5-.1 3 .2 4.5-.1 1.5-.2 1.5 .2 3 0 .5 .6 .5 1.3 .5 .1 2 0 .5-.4 .5 0 .5 .4 3 0 .5-.4 .5 0 .5 .4 4 0 .5-.5 .5-.1 .5 .5 .5 0 .5-.6 .5 0 .5 .6 2.5 0 1.5 0 .5-.3 1.5 .1 .5 .2 8 .1 .5-.5 .5 0 .5 .5 .5-.3 .5-.1 .5 .3 3 .1 9 0 1-.1 .5-.3 1.5 .4 3-.1 1-.2 .5 .2 3 0 1 0 .5-.3 1-.1 .5 0 .5 .4 1 .1 1-.1 .5-.5 .5 0 .5 .5 5 0 .5-.3 .5 0 .5 .4 2-.1 .5-1.5 .5-.6 3.5 .2 4.5-.3 1.5 .1 3-.1 1.5 .3 3-.1 1.5 .2 6-.3 10.5-.1 3 .2 1.5-.2 1.5 .2 3.5-.1 .5 .3 .5 1.5 .5 .4 11-.1 3 .1 .5-.4 .5-.1 .5 .5 1-.4 .5-1.2 2 0 .5 1.6 3 0 1-.3 .5 .2 1.5 0 0 2.9-3.5 0-.5 .4-.5 0-.5-.4-1 0-.5 1.6-2 0-.5-1.6-6 0-.5 .5-.5 0-.5-.5-.5 .4-.5 0-.5-.4-2 0-.5 .4-1 .1-.5-.5-4 0-.5 1.8-.5 .4-1.5 .1-1.5-.3-1.5 .2-3 .1-1.5-.4-6 .3-6-.3-2 .1-2.5-.1-4.5 .3-1.5-.3-1.5 .3-6-.3-5.5 .3-.5-.6-.5-1.6-1.5 0-14 0-.5 .5-.5 0-.5-.5-4 0-2.5 0-.5 .4-1.5-.1-.5-.3-15 0-.5 .4-.5 0-.5-.4-5 0-.5 .5-.5 0-1-.4-2-.1-15.5 0-.5 .2-1.5-.2-1 0-.5 .3-.5 0-.5-.3-.5 1.4-.5 .7-3 .2-1.5-.2-4.5-.2-6 .3-3-.3-3 .2-4.5 .1-2-.3-1 0-1.5 .4-3-.3-1.5 .3-.5-.2-.5 7.3-3 .2-1.5-.5-1 .5-.5 0-1.5-.2-.5-1.2-2.5 0-1-.2-2.5 .3-4.5-.3-1.5 .3-3.5-.4-4.5 .2-2.5-.2-1.5 .4-9.5-.3-2.5 .3-1 0-1.5-.4-8 .2-2.5-.2-1.5 .4-1 0-1.5-.3-1 .2-2.5 .1-2.5-.3-4.5 .2-1.5-.3-4.5 .1-1 .2-1.5-.2-1 .2-5-.2-2.5 .2-.5 0-.5-4.9-2.5-.4-1.5 .4-3-.4-4.5 .4-3-.4-2.5 0-4.5 .4-5-.5-1.5 .3-2.5-.2-3 .3-2-.3-4 .2-3.5-.4-.5-2.7-6.5 0-.5 .3-.5 0-.5-.3-15.5 0-2.5 .1-.5 .4-.5 0-.5-.4-5.5-.1-.5 .3-.5 0-.5-.3-1 0-.5 .2-1-.2-1 0-1 0-.5 1.1-1.5 0-.5-1.1-2 0-.5 .3-.5 0-.5-.3-3 0-.5 .5-.5-.1-.5-.4-.5 0-8 .1-.5 .5-.5 0-.5-.5-1-.1-5 0-1.5 .3-.5-.3-3 0-.5 2.4-.5 .2-2.5 .2-1.5-.4-3 .5-1.5-.2-1.5 .2-3-.4-3 .3-1.5-.3-1.5 .4-1.5-.4-3 .4-1.5-.4-1.5 .2-5.5-.1-2 .3-1.5-.5-4.5 .3-2.5-.1-.5-.8-.5-1.8-1 0-10 0-1 .2-.5-.2-2 0-.5 .3-1.5-.3-.5 .5-.5 0-.5-.5-2.5 .1-.5 .4-.5 0-.5-.5-3 .4-.5-.3-.5 1.5-2 0-.5-1.6-.5 .4-.5 0-.5-.3-4-.1-15.5 0-.5 .4-.5-.1-.5-.3-1 0-.5 .6-.5 0-.5-.5-3-.1-1 .3-.5-.2-.5 .5-.5-.1-.5-.5-1 0-.5 .5-.5 0-.5-.5-.5 0-.5 .4-.5 0-.5-.4-3 0-.5 .5-.5 0-.5-.5-.5 2.5-2 .3-2.5-.2-2 .3-3-.3-1.5 .3-1.5-.3-1.5 .3-1.5-.3-6 .1-1.5 .2-2.5-.3-2 .2-3-.3-1.5 .4-1.5-.4-7.5 .4-1.5-.4-.5-2.5-7.5 0-.5 .6-.5 0-.5-.5-1.5-.1-11.5 0-.5 .3-.5 0-.5-.3-2.5 0-2.5 0-.5 .4-.5 0-.5-.3-1.5-.1-1 0-.5 .3-1.5-.3-4 .1-.5 .3-.5 0-.5-.4-3 0-.5 1.6-1.5 0-.5-1.4-.5-.2-3 0-.5 .5-.5 0-.5-.5-.5 .4-.5 0-.5-.4-14 0-1.5 0-.5 .4-.5 0-.5-.4-1.5 0-.5 1.8-.5 .7-2.5 .4-2.5-.3-6 .1-3-.2-1.5 .3-3-.1-1.5 .2-2-.2-4 0-1.5-.2-1.5 .2-2-.2-4.5 .4-2.5-.3-2 .2-1-.3-2 .2-.5-.8-.5-1.9-.5 0-10 0-.5 .3-.5 0-.5-.3-4 0-.5 .5-.5 0-1.5-.5-3 .1-.5 .3-.5 0-.5-.4-1 0-.5 .3-.5 0-.5-.3-3 0-1.5 0-.5 .3-1-.2-1.5 0-.5 .5-.5 0-1-.5-.5-.1-.5 .4-.5 0-.5-.3-3-.1-1 .2-.5-.2-3.5 .1-.5 .3-.5 0-.5-.4-4 0-1 .3-.5-.2-2.5-.1-.5 .5-.5 0-.5-.5-3 0-.5 .4-.5 0-.5-.4-6 0-.5 .4-.5 0-.5-.4-1 0-.5 2.2-.5 .8-.5 0-1.5-.1-1.5-.3-1.5 .2-1.5-.2-1.5 .2-1.5-.2-3 .3-1.5-.3-1 0-9 .3-2-.3-1.5 .2-1.5-.3-1.5 .1-1.5 .4-4.5-.4-4.5 .3-1-.2-.5-.8-.5-1.9-1 0-3 .1-.5 .4-.5-.1-.5-.4-3 .1-.5 .5-.5 0-.5-.6-.5 0-18.5 0-.5 .3-.5 0-.5-.2-4.5-.1-.5 .3-.5 0-.5-.3-3.5 0-.5 .3-.5 0-.5-.3-1.5 0-1 .2-.5-.2-1 0-.5 .4-.5 0-.5-.3-2.5-.1-.5 .4-.5 0-.5-.4-3.5 0-.5 .2-1-.2-3.5 0-2 0-.5 .3-.5 0-.5-.3-4 .1-.5 .3-.5 0-.5-.4-2 0-.5 0-.5 2.3-.5 .3-5.5-.1-3 .2-1.5-.2-3 .2-1.5-.2-1.5 .3-1.5-.3-4 .3-2-.2-1.5 .2-3-.3-4.5 .3-.5-.9z"/>
<path fill="#ff0000" d="M138,355.1l13 .1 .5-.4 .5-.1 .5 .5 .5-.6 2 0 .5 .6 1 0 .5-.3 1 .3 2.5-.1 .5-.4 .5 0 .5 .5 .5 0 1.5-.1 .5-.3 .5 .1 .5 .3 7.5 0 .5-.5 1 .1 .5 .4 4.5 0 .5-1.5 4.5 .3 6-.1 1.5-.1 3 0 1.5 .2 4.5-.3 1.5 .2 3.5-.1 2.5 .2 1.5-.2 3 .2 1.5-.3 1.5 .2 4.5 .1 1.5-.3 3 .2 3 0 .5 1.2 20 .1 4 0 .5-1.6 2 0 .5 1.6 .5 0 .5-.2 .5 0 .5 .2 7.5 0 1-.3 .5 .2 5 0 .5-.3 .5 0 .5 .4 2 0 .5-.4 .5-.1 .5 .4 2 0 .5-.3 .5 0 .5 .3 2.5 .1 8 0 2.5-.3 .5 .3 2.5 0 4.5-.1 1-.4 2 .1 4.5-.2 3 .2 6-.2 2 .2 1-.2 1.5 .3 3-.3 1.5 .1 7.5-.1 2 .2 5.5-.2 1.5 .2 1.5-.2 .5 .1 .5 .4 .5-.5 .5 0 .5 .5 2 .1 5-.1 .5-.4 .5 .1 .5 .4 4 0 .5-.3 .5 0 .5 .2 7 .1 .5-.4 .5 0 .5 .4 2 0 .5-.5 .5 0 .5 .4 1-.2 1 .3 18 0 2 0 .5-.4 .5-.1 .5 .4 3 0 .5-.4 .5 0 .5 .4 .5 0 .5-.4 .5 0 .5 .5 3.5 0 .5 0 .5-.5 .5-.1 .5 .6 2.5 0 1 0 .5-.6 .5 0 .5 .5 .5-.2 1.5 .3 1.5 0 .5-1.6 1.5 0 .5 1 .5 .1 2-.3 2.5 .3 2-.2 2.5 .1 1.5-.1 2 .2 2.5-.1 2 .2 2.5-.3 1.5 .2 1.5-.1 7.5 .2 1.5-.3 1.5 .2 3-.2 2 .2 3-.2 .5 .4 .5-.2 .5 0 .5 .5 1.5 0 .5-.3 1 .3 5 0 .5-.5 .5 0 .5 .5 .5-.3 .5 0 .5 .3 1.5 0 .5-.5 .5 0 .5 .5 2.5 0 .5-.3 .5 0 .5 .3 2-.1 .5-.4 .5 0 .5 .5 4-.1 .5-.5 .5 .1 .5 .5 2-.1 .5-.4 .5 0 .5 .5 3 0 .5-.2 .5-.1 .5 .3 .5-.5 .5 0 .5 .5 12 0 1.5-.1 .5-.4 .5 0 .5 .5 4.5 0 .5-.3 .5-.1 .5 .3 3.5 .1 .5-.4 .5 0 .5 .4 5.5-.1 .5-.4 .5 0 .5 .5 .5 0 1-.9 2.5-.2 7.5 .3 2-.3 5.5-.1 2 .3 4.5-.2 1.5 .2 4-.3 2 .2 4-.1 2 .2 4.5-.2 1 1 3 .1 .5 0 .5-.6 .5 0 .5 .6 1 0 1 0 .5-.4 .5 0 .5 .3 2.5 .1 .5-.4 1-.1 .5 .4 2 .1 11.5 0 .5-.3 .5 0 .5 .3 1.5 0 .5-.4 .5 0 .5 .4 7 0 .5-.3 .5 0 .5 .2 9 .1 1.5 0 .5-.5 .5 0 .5 .5 12 0 .5 0 .5-.5 .5 0 1 0 .5 .4 1.5 .1 1-.2 .5 .2 1 0 1.5-.1 .5-.7 .5-.6 4-.1 1.5 .1 1.5-.1 3 .1 1.5-.1 1.5 .2 1.5 0 1.5-.3 6 .3 3-.2 1.5 .2 1.5-.2 4.5 .2 1.5-.4 1.5 .2 4.5-.2 3 .4 1 .8 .5 0 .5 .5 13.5 0 .5-.5 .5 0 .5 .4 3.5 0 .5-.4 .5 0 .5 .5 1 0 .5-.3 .5-.1 .5 .3 3 0 .5-.4 .5 0 .5 .4 .5-.4 .5 0 .5 .4 5.5 .1 4-.1 .5-.4 .5 0 .5 .5 .5 0 1 0 .5-.5 1.5-.1 .5 .6 .5-.1 .5-.4 .5-.1 .5 .5 .5-.3 .5 0 .5 .4 3.5 0 .5-.5 .5 0 .5 0 .5 .4 4.5 0 .5-.3 1.5 .4 3 0 .5-.3 .5 0 .5 .3 6 0 .5 0 .5-1.8 .5 0 2.5 .2 1.5-.2 1.5 .3 4.5-.3 1.5 .2 1.5-.2 1.5 .2 7.5-.3 1.5 .4 3-.4 1.5 .4 3-.1 1.5 .1 1.5-.3 3 .3 1.5 0 1.5-.3 2 .2 .5 .1 .5 1.4 2 0 .5-7.7 2-.1 2 .2 6-.3 2.5 .2 1.5-.1 2 .2 1.5-.1 4.5 .1 3.5-.3 1.5 .2 1-.2 1.5 .3 2-.3 1.5 .1 2.5-.2 4.5 .4 2.5-.3 2.5 .3 3.5-.4 2.5 .3 6-.1 1 .2 1.5-.3 6 .2 2.5-.3 3 .4 1.5-.3 2.5 .3 1-.3 1.5 0 .5-.8 1.5 .4 1.5-.4 1 .4 1-.2 1.5 .2 1.5-.2 .5 6.8 4.5 0 6 .3 1.5-.2 1.5 .1 1.5-.3 3 .4 1.5-.3 2.5-.1 3.5 .1 2.5 .3 2-.3 4 .2 2-.2 1 .4 .5 1.4 1.5 0 1 0 .5-.5 .5 0 .5 .5 .5 0 7.5 0 4 0 .5-.4 .5 0 .5 .4 4-.1 .5-.4 1-.1 .5 0 .5 .5 4 .1 .5-.5 .5-.1 .5 .1 .5 .5 1-.2 .5 .2 8 0 .5-.4 .5-.1 .5 .4 1.5 .1 .5-.6 .5 0 1 .5 1 0 .5-.4 1.5 .2 .5 .3 6.5 0 1-.1 .5-.5 .5 0 .5 .6 1.5 0 .5-.5 .5 0 .5 .5 6.5 0 1-.2 .5 .2 2.5 0 2-.1 .5-1.8 .5-.8 3 .2 .5 .6 0 6.6-.5 .9-.5 .1-1.5-.4-1 .3-.5-.7-.5-2-3-.1-1 .3-.5-.2-2 0-1 .6-.5-.1-.5-.5-8.5-.1-9 .1-.5 .3-.5 0-.5-.3-1.5-.1-21 0-13.5 .1-.5 .4-.5 0-.5-.4-.5 .5-.5 0-.5-.5-.5 .4-.5 0-.5-.5-4.5 .1-.5 1.6-.5 .1-2-.3-4 .3-2-.3-2.5 .3-2-.2-1.5 .2-1.5-.2-4 .2-2-.2-1.5 .1-3-.1-4 .2-2-.2-4.5 .1-.5 6.9-3-.3-3.5 .2-1.5-.1-.5-.6-1 .3-4-.2-2 .1-2.5-.3-1.5 .4-2-.3-5 .3-2.5-.1-1 .1-2.5-.1-1-.2-1.5 .2-1-.2-2.5-.1-5 0-2 .4-2.5-.3-2.5 .2-2.5 0-1-.2-1.5 .3-7-.3-1.5 .1-2-.2-1.5 .4-3-.3-4 .2-2-.3-9.5 .3-.5-7.4-1-.2-1 .1-.5 1.2-.5 .2-2-.2-1.5 .2-1.5-.3-2 .3-4-.4-1.5 .3-3 .1-1.5-.2-2 .1-2.5-.2-1.5 .3-2-.4-2.5 0-3 .4-1.5-.2-4.5 .2-5.5-.3-.5-.2-.5-1.3-2 0-.5 .4-.5 0-.5-.4-3-.1-4.5 .1-.5 .3-.5 0-.5-.3-3 0-.5 .3-.5 0-.5-.3-4.5-.1-.5 .4-.5 0-.5-.3-3.5 0-.5 .4-.5 0-.5-.4-4-.1-.5 .5-.5 0-.5-.4-21-.1-.5 .5-.5 0-.5-.4-3.5 0-.5 .2-1-.2-3.5-.1-.5 .6-.5 0-.5-.6-2.5 .1-.5 .4-.5-.1-.5-.4-1 0-.5 1.2-.5 .5-2.5-.3-1.5 .2-1.5-.1-2.5 .2-2-.3-1.5 .2-1.5-.2-7.5 .1-1.5-.2-2.5 .3-2-.2-1.5 .2-1.5-.2-8.5 .3-5-.4-.5-.4-.5-.9-26 .1-.5 .4-.5 0-.5-.5-6 .1-1 .3-.5-.3-4-.1-2 .1-.5 .3-.5 .1-1-.1-.5-.3-5 0-.5 .5-.5 0-2-.5-.5 .3-2 .2-.5 0-.5-.5-.5 0-12-.1-.5 .6-.5 0-.5-.5-1.5 0-1.5 0-1 1-1-.1-4.5 0-4.5-.2-10.5 .4-1.5-.2-3 .1-1.5-.2-1.5 .2-4.5-.1-4.5 .2-5-.3-.5-.4-1-.1-.5-.4-5.5 .1-.5 .3-1-.3-6.5 0-.5 .3-.5 0-.5-.3-1.5-.1-.5 .4-.5 0-.5-.3-.5 .5-.5 0-.5-.5-3.5 0-.5 .5-.5 0-.5-.5-2.5 0-1 .2-.5-.2-1 0-.5 .4-.5 .1-.5-.5-2 0-.5 .5-.5-.1-.5-.5-1.5 0-.5 .5-.5 0-.5-.5-12 .1-.5 .5-.5 0-.5-.5-4.5 0-.5 .3-.5 0-.5-.3-.5 .3-.5 0-.5-.3-.5 0-.5 .2-.5 0-.5-.3-1 0-.5 .4-.5 0-.5-.3-1.5-.1-5.5 .1-.5 .1-.5 .3-5.5 .2-2-.2-2.5 .2-4.5-.2-2 .3-2.5-.2-2 .2-10-.3-3 .2-4.5-.2-1.5 .3-1.5-.2-.5 1-1.5 0-.5-1-.5 0-.5-.5-1 0-1 0-1 .2-.5-.2-4.5 0-1 .2-.5-.2-2-.1-4.5 .1-4.5-.1-1.5 .1-.5 .5-.5 0-.5-.5-2 0-.5 .5-.5 0-.5-.5-5-.1-1 .3-.5-.2-1 0-.5 .2-1-.2-.5 .4-.5 0-.5-.5-4 0-.5 .6-.5 0-.5-.5-1.5 0-.5 .3-.5 0-.5-.3-1-.1-.5 .4-.5 0-.5-.4-7.5 0-1 .3-.5-.2-9-.1-3.5 .1-1 .3-4.5 .3-3-.3-1.5 .2-2.5-.1-.5 .1-1-.1-4 .1-2.5-.2-1.5 .2-2-.2-1 .2-1.5-.2-2 .3-2.5-.2-6 .2-3-.3-4 .3-1-.7-10 .1-.5 .3-.5 0-.5-.3-3.5-.1-.5 .5-1.5 0-.5-.4-1 0-.5 .2-1-.3-.5 .3-.5 0-.5-.3-1 0-.5 0-.5 .5-.5 0-.5-.4-2.5-.1-.5 .1-.5 .5-.5 .1-.5-.6-9 0-.5 .5-.5 0-.5-.5-.5 0-.5 .4-.5 0-.5-.4-2-.1-1 .3-.5-.2-.5 1.5-2 0-.5-1.5-3-.1-4 0-.5 .3-.5 0-.5-.3-6.5 0-1.5 .1-.5 .3-.5 0-.5-.3-1.5-.1-4.5 .1-.5 1.3-4.5 .2-3-.3-1.5 .2-4.5 0-3-.2-3 .2-4-.2-2 .3-1.5-.2-4.5 0-1.5-.2-1.5 .3-3-.3-2.5 .4-3.5-.3-1.5 .2-3-.2-.5-1.3-2 .1-.5 .4-.5-.1-.5-.4-1 0-16.5 0-.5 .3-1.5-.3-1 .1-.5 .5-2 0-.5-.5-6.5 0-.5 0-.5 .5-.5 .1-1.5-.6-5 0zM177.8,344.6h2.1v24h-2.1zM372,348.1h2.1v17h-2.1zM550.2,351.9h2.1v11.7h-2.1z"/>
<path fill="#0000ff" d="M138,385.1l.5-.7 2.5 0 1.5-.3 6 .5 1.5 0 1.5-.5 2 .3 2.5-.2 3 .1 1.5 .3 1.5-.4 3 .4 1.5-.2 6 .1 1.5-.2 1.5 .2 2.5 0 .5 .2 .5 1.5 .5 0 .5 .4 2 .1 4 0 .5-.3 1-.1 .5 .3 1.5 .1 2.5 0 .5-.3 .5 0 .5 .3 3-.1 .5-.2 .5 0 .5 .3 1 0 .5-.4 .5 0 .5 .4 2-.1 .5-.5 .5 0 .5 .5 .5 0 30 .1 .5-.4 .5 0 .5 .4 8 0 .5-.3 1.5-.1 .5 .4 3.5 0 1.5 0 .5-1.6 .5-.6 3-.2 3 .2 1.5-.2 1.5 .1 2-.2 4 .4 2-.4 6 .4 6-.3 4 .1 3-.2 5 .2 3-.2 .5 .7 .5 1.8 5-.1 .5-.4 .5 0 .5 .4 4 .1 2-.1 .5-.5 .5 .1 .5 .5 1 0 .5 0 .5-.5 .5-.1 .5 .5 1 .1 9 0 1-.3 .5 .2 1.5 .1 5.5 0 .5-.5 .5 0 .5 .5 5.5 0 .5-.4 .5-.1 .5 .5 2.5 0 2.5-.1 .5-.5 .5 0 .5 .6 .5 0 .5-.4 .5 0 .5 .4 2.5 0 .5-.4 .5 0 1 .4 3.5 0 .5-.4 .5 0 .5 .4 2.5 0 1.5-.4 .5 .4 1 0 1.5-.6 .5 0 .5 .6 1.5 0 .5-1.6 .5-.6 6 0 2-.3 4.5 .2 1.5-.3 2.5 0 3 .3 2-.3 3 .3 1.5-.4 3 .5 4-.1 2-.3 1.5 .3 4.5 .1 3-.3 .5 2.5 5.5 0 .5-.3 .5 0 .5 .3 1-.3 2 .2 1-.5 .5 0 .5 .5 .5-.2 .5 0 .5 .3 3 0 1-.3 .5 .2 3 .1 .5-.3 .5-.1 .5 .3 1.5 .1 9 0 1-.1 .5-.3 1.5 0 .5 .4 1 0 3.5 0 .5-.3 .5 0 .5 .3 .5 0 .5-.5 .5 0 .5 .4 3.5 .1 .5-2.5 2 0 .5 2.4 3 .1 .5-.3 .5-.1 .5 .4 11 0 .5-.2 1-.1 1.5 .3 2.5-.1 .5-2 .5-.4 3 .1 2-.4 1 .2 2-.1 1.5 .2 7.5-.3 4.5 .4 2.5-.4 2 .2 1-.2 2 .2 1.5-.3 3 .4 1.5-.3 3-.1 2.5 .2 3-.2 .5 .5 .5 1.9 .5 .5 .5 0 10.5 0 2-.1 .5-.5 .5 0 .5 .5 .5 0 .5-.3 1.5 .4 7.5-.1 .5-.4 .5 .1 .5 .4 7 0 .5-.4 .5 0 .5 .4 17 0 2.5-.1 .5-.4 .5 0 .5 .4 5 .1 5.5-.1 .5-.4 .5 0 .5-2.2 6.5 0 2 .3 4-.4 2 .1 1.5-.1 1.5 .2 1.5-.1 2.5 .3 2-.4 1.5 .4 3-.2 3 0 1.5-.2 6 .3 2.5-.2 3.5 0 1.5 .3 5.5-.4 2 .3 4-.2 3 .2 2-.2 1.5 .2 1.5-.3 1.5 .3 2.5 .1 2-.5 4.5 .3 1-.2 .5 .2 .5 2 .5 0 .5 .5 15.5 .1 .5-.4 .5 0 .5 .4 3.5 0 3.5-.1 1.5-.4 1 0 .5 .5 3.5 0 .5-.4 1.5 .4 4.5 0 2-.3 .5 .2 1 0 .5-.3 .5 0 .5 .4 19 0 1 0 .5-.5 .5 0 .5 .5 2 0 2.5-.3 .5 .2 2 0 .5-3 1-.2 1.5 .4 1.5-.3 3 .1 1.5 .3 1.5-.3 1.5 .3 1.5-.1 1.5-.3 1.5 .4 1.5-.2 3 .2 1.5-.4 3 .3 1.5-.3 3 .3 1.5-.3 1.5 .3 1.5-.3 1.5 0 3 .3 3-.3 1.5 .4 .5-.1 .5 .6 .5 1.8 .5 0 .5 .4 .5 0 .5-.5 .5 .1 .5 .5 2 0 .5-.4 .5 0 .5 .4 9.5 0 .5-.4 .5 0 .5 .4 5.5-.1 .5-.3 .5 .1 .5 .3 3 0 .5-1 1.5 0 .5 1 6 0 .5-.4 .5 0 .5 .4 5.5 0 .5-.6 .5 0 .5 .6 .5-.5 .5 0 .5 .4 3 .1 1-.1 .5-.3 .5 0 .5 .3 2 .1 .5-.5 .5 0 .5 .5 3.5-.1 .5-.4 .5 0 .5 .5 5.5 0 3-.1 .5-.2 2 .3 .5-3 .5 0 .5 .1 1.5-.2 3 .1 1.5-.3 3 .2 1.5 .3 3-.2 1.5 .1 1.5-.3 1.5 .3 7.5-.4 1.5 .3 1.5-.2 1.5 .2 1.5-.2 1.5 .1 1.5-.1 3 .3 1.5-.3 1.5 .4 2-.5 .5 .9 .5 2.4 1.5 0 .5-.6 .5 0 .5 .5 1.5 0 1.5-.3 .5 0 .5 .4 12 0 1-.1 .5-.4 .5-.1 .5 .1 .5 .5 6.5-.1 .5-.4 .5 0 .5 .5 .5 0 4.5 0 .5-.4 1-.1 .5 0 .5 .3 .5-.3 1-3.6 .5-1.1 .5 .2 .5-.7 .5-.2 1 .8 .5 .1 1-.6 1 .5 1-.5 1 1.4 1-.8 1 1 1 .3 .5 0 1.5-.9 .5 .3 .5 .7 1 .6 .5 0 1.5 1.3 1-.9 .5 .1 1 .7 .5-.2 .5-.4 .5-.1 .5 .4 .5 .1 .5 1.5 .5 .4 2 0 .5-.3 .5 .1 .5 .3 4.5 0 .5-.5 .5-1.8 .5-.9 .5 0 3 .2 3-.1 4.5 .2 1.5-.1 3 0 1.5-.3 6 .1 1.5 .3 1.5-.3 1.5 .4 2.5-.3 .5 .8 0 7.4-.5 .7-1 0-4 .4-2-.5-4.5 0-5.5 .5-4.5-.5-1.5 .5-3-.4-3 .3-1-.2-.5-.8-.5-2.1-1 0-.5 .3-.5 0-.5-.3-6.5-.1-.5 2-.5 .2-.5 .5-.5 .2-1-.2-.5 .1-1-.6-1.5 .1-.5 .4-.5 .7-2 1-1.5 .1-1-.7-2 1-1 .6-1 1-1-.2-.5 .3-1.5-1.2-.5 0-1 .9-.5-.3-.5-1.4-.5-.4-.5-.9-.5-.9-.5-1.4-.5-.9-1 .1-.5 .3-.5 .1-.5-.4-1.5 0-.5 .5-.5 0-.5-.6-.5 0-8.5 0-1 .3-.5-.3-1 .1-.5 .5-.5 0-.5-.5-1.5 0-.5 .4-.5 0-.5-.5-3.5 0-.5 .3-1.5 .2-.5-.4-4-.1-2 .1-.5 .5-.5 0-.5-.5-2.5 0-.5 2.2-.5 .8-5-.3-1 0-1.5 .3-3-.2-3 .2-1.5-.3-1.5 .5-1.5-.1-3 .1-1.5-.3-3 .3-1.5-.2-3 .1-3-.4-1.5 .2-3-.1-3 .4-1.5-.3-1 .1-.5-.1-.5-3-32 .1-.5 .4-.5 0-.5-.5-1 .1-.5 .5-.5 0-.5-.5-2-.1-.5 .3-.5 0-.5-.3-1.5 .1-.5 1-1.5 0-.5-1.1-4.5 .1-.5 .2-.5 0-.5-.2-6.5-.1-.5 .6-.5 0-.5-.6-13.5 0-.5 2.1-.5 .9-1 .3-3-.5-4.5 .5-1.5-.4-4.5 .4-1.5-.4-1.5 0-4.5 0-1.5 .3-3-.3-4.5 .3-1.5-.1-1.5 .2-1.5-.2-1.5 .2-1.5-.4-1.5 0-1.5 .4-2-.2-.5-3.1-3.5 0-1 .3-.5-.2-3.5-.1-.5 0-.5 .4-.5 .1-.5-.4-4-.1-.5 .5-.5 0-.5-.5-6.5 .1-.5 .3-.5 0-.5-.3-.5-.1-5 0-.5 .1-1 .4-.5 0-.5-.4-1.5-.1-.5 .4-.5 0-.5-.3-3.5-.1-.5 .5-1 .1-.5 0-.5-.5-2-.1-3.5 0-.5 .6-.5 0-.5-.6-1.5 0-.5 .5-.5 .1-.5-.5-3.5 0-.5 .5-.5 0-.5-.5-12-.1-.5 .3-.5 0-.5-.2-.5 .5-.5 0-.5-.5-.5 0-.5 2.4-.5 .2-4-.3-2 .3-1.5-.2-5.5 .3-4.5-.1-2-.3-4.5 .3-3-.2-1.5 .2-4 .1-3-.2-4.5 .2-3-.2-2 .2-1.5-.2-1.5 .3-4-.3-6 .2-2-.4-3 .4-5.5-.4-2 .5-4-.4-2.5 .2-.5-2.6-1.5-.1-.5 .3-.5 0-.5-.2-4.5-.1-.5 .3-.5 0-.5-.2-2.5-.1-8 0-.5 .3-.5 0-.5-.3-1 0-9.5 0-.5 .3-.5 0-.5-.3-1 0-1.5 .1-.5 .4-.5 0-.5-.4-2.5 0-.5 .3-1.5 0-.5-.3-1.5 0-.5 .4-.5 0-.5-.4-2.5 0-.5 .4-.5 0-.5-.5-2.5 .4-.5-.3-9.5 0-.5 .3-.5 0-.5-.3-4-.1-.5 .5-.5 1.9-.5 .2-2-.2-3 .4-3-.1-1.5 .2-3.5-.5-7 .4-1.5-.3-1.5 .4-2-.5-2.5 .2-4.5-.2-6 .3-1.5-.2-1.5 .4-1.5-.4-1 0-.5-.5-.5-1.9-2.5 0-.5 .2-.5 0-.5-.3-3.5 0-5 .1-.5 .4-.5-.1-.5-.3-.5 .2-.5 0-.5-.3-5.5 .1-.5 2.5-2 0-.5-2.5-12 0-.5 .4-.5 0-1 0-.5-.4-1 .2-.5-.2-4-.1-4.5 .1-.5 .4-.5-.1-.5-.4-9.5 .1-.5 .3-1.5-.4-1 0-.5 .4-.5 0-.5-.3-4-.1-2.5 .1-.5 .4-.5 0-.5-.4-.5 2.6-1.5-.4-1.5 .1-1.5 .3-3-.4-1.5 .3-3-.3-6 .3-1.5-.3-1.5 .3-3-.4-1.5 .5-1.5 0-1.5 0-1.5-.3-1.5 .2-1.5 0-3-.4-1.5 .3-3-.2-1.5 .3-2-.2-.5-.6-.5-1.7-1.5-.1-15 .1-2 0-.5 .4-.5 0-.5-.4-1.5 0-.5 .4-.5 0-.5-.5-6.5 .1-.5 .2-1.5-.3-11 .1-.5 .4-.5 0-.5-.5-4 0-2.5 .1-.5 .5-.5 0-.5-.5-1.5 .3-.5 0-.5-.3-8.5 0-.5 .4-.5 0-.5-.4-1-.1-.5 0-.5 .3-.5 .1-.5-.3-1 0-.5 .3-.5 .1-.5-.4-.5 .2-.5 0-.5-.2-.5 1.7-.5 .7-4-.4-3 .5-1.5-.5-1.5 .1-1.5 .3-1.5-.3-3 0-1.5 .3-1.5-.1-1.5-.3-1.5 0-1.5 .3-4.5-.2-4.5 .3-1.5-.1-7.5 .2-1.5-.3-1 .2-.5-.6-.5-1.9-2.5 .1-.5 .2-1 0-.5 .3-.5 0-.5-.5-.5 0-.5 .3-.5-.1-.5-.3-6.5 .1-.5 .3-1 .2-.5-.5-13.5-.1-.5 0-.5 .6-.5 0-.5-.5-2.5-.1-6.5 .1-.5 .5-.5 0-1-.1-.5-.5-12 .1-.5 .4-.5 0-.5-.4-3-.1-1.5 0-.5 .5-.5 0-.5-.5-7.5 0-1.5 .1-.5 .4-.5 0-.5 1.7-.5 .1-8.5 .2-2-.2-2.5 .3-5-.4-3 .3-5.5-.4-2 .3-5.5 .1-2-.4-3 .4-.5 0-.5-.7zM284.8,383.2h2.1v9h-2.1zM391.6,379.7h2.1v17h-2.1zM497.4,381.2h2.1v18.2h-2.1zM686.8,380.2h2.1v16h-2.1zM839.8,381.2h2.1v14h-2.1z"/>
<path fill="#008000" d="M138,416l.5-.6 1.5 0 2-.3 4 .3 2-.4 1.5 .2 .5 .1 .5 2.8 3 0 .5-.4 .5 0 .5 .4 4.5-.1 .5-.4 .5 0 .5 .4 2.5 .1 1-.3 .5 .2 1 0 .5-.5 .5 0 .5 .5 1.5 .1 7.5 0 .5-.3 .5 0 .5 .3 11.5-.1 .5-.3 .5 0 .5 .4 1.5 0 .5-.4 .5 0 .5 .4 2.5 0 1-.4 1.5-.2 .5 .5 1.5-.2 .5 .3 1 0 .5-.4 .5 0 .5 .4 .5 0 .5-.6 .5 0 .5 .5 5.5 .1 2.5-.3 .5 .2 1 .1 4.5-.1 .5-.4 .5 0 .5-1.6 .5-.5 .5-.1 1.5 .4 1.5-.2 1.5 .2 1.5-.3 4.5 .1 1.5-.2 4.5 0 1.5 .4 2.5 0 2-.3 1.5 .3 3-.5 3 .4 4.5-.1 2.5 .1 3.5 0 1.5-.2 1 0 .5 .4 .5-4.4 1.5-1 .5 .5 1 .6 2.5 .3 1.5-.5 1-.1 1.5 .3 4.5-.4 1.5 .1 2-.4 5 0 2-.4 1.5 .3 1-.2 2.5 .1 2.5-.3 2.5 .2 1-.1 1.5 .3 1-.3 1 .4 2.5 .1 3.5-.2 3.5 .2 1.5-.1 1 .1 4-.2 3.5 .1 1 .3 2.5 .1 1-.2 1.5 .2 4.5 .1 1.5-.3 5.5 .4 1.5-.2 1.5 .3 1.5-.1 .5-2.7 1 .1 1-.2 1.5 .3 3.5-.4 1 .1 .5 7.3 2-.4 4.5 .1 1.5-.3 2.5 .2 2-.2 1.5 .3 3-.2 13 .4 4.5-.4 1.5 .2 .5 .5 .5 1.9 6.5-.1 .5-.3 .5 0 .5 .3 .5 0 .5-.5 .5 .1 .5 .5 1.5 0 1-.1 .5-.5 .5 0 .5 .5 1 .1 6.5 0 .5-.5 .5 0 .5 .5 7 0 .5-.3 1.5-.2 .5 .4 2-.2 .5 .2 3.5 0 .5-1.3 2 0 .5 1.4 21.5-.1 .5-.3 .5 0 .5 .3 7.5 .1 .5-2.3 .5-.2 3.5 .2 3-.3 1.5 .2 1.5-.2 2.5 0 2 .3 1.5-.2 1.5 .1 1.5-.2 1.5 .3 1.5-.4 1.5 .3 1.5-.3 4 .4 3-.3 3.5 .2 3-.3 4.5 .4 2-.3 .5 2.5 2 .1 .5-.3 .5 0 .5 .3 3.5 0 1-.3 .5 .3 11 0 .5-.5 .5-.1 .5 .5 1.5 0 .5-.2 4 .3 11-.1 .5 0 .5-.5 .5 0 .5 .5 2 .1 10.5 0 .5-.5 .5 0 .5 .5 4.5-.1 .5-.4 .5 0 .5 .4 5 0 .5-.3 .5 0 .5 .3 5 .1 .5-2.3 5.5 .1 1.5-.2 1.5 .4 1.5-.3 3 .3 3-.1 10.5 .1 1.5-.4 3 .3 6-.3 1.5 .4 1.5-.4 3 0 1 .1 .5 .8 .5 1.5 2.5-.1 .5-.4 .5 0 .5 .5 3 0 .5-.6 .5 0 .5 .6 .5 0 14 0 .5-.5 .5 0 .5 .5 8.5 0 3.5-.1 .5-.5 .5 0 .5 .6 10 0 .5-.5 .5-.1 .5 .5 .5-.3 .5 0 .5 .3 1.5 .1 9.5 0 1.5-.3 .5 .2 2 .1 4.5 0 .5-1.6 2-.4 1.5 .2 1.5-.2 4-.1 2 .4 3-.3 4.5 .3 7.5-.1 1.5-.2 1.5 .3 1.5-.3 1.5 0 1.5 .3 3 0 1.5-.4 1.5 .3 3 .1 2-.4 .5 .2 .5 1.6 .5 0 .5 .3 4.5-.1 .5-.3 .5 0 .5 .3 9 0 1 0 .5-.5 .5 0 .5 .5 1.5 .1 .5-.4 1.5 0 .5 .4 3.5-.1 .5-.4 .5 0 .5 .5 2.5 0 .5-.4 .5 0 .5 .4 4 0 .5-.3 .5 0 .5 .3 4 0 1 0 .5-.5 .5 0 .5 .4 .5 .1 9 0 .5-.5 .5 0 .5 .4 4.5 .1 .5-.4 1 0 .5 .4 4 0 .5-.4 .5 0 .5 .4 4.5 0 .5-1.1 .5-.6 1-.2 3 .3 3-.3 3 .3 1.5-.3 1.5 0 1.5 .4 3-.4 1.5 .3 1.5-.2 4.5 .1 6-.2 1.5 .4 3-.3 1.5 .3 1.5-.4 2 .4 .5 1.5 2.5 0 .5-.5 .5 0 .5 .5 3.5 0 1-.3 .5 .3 11 0 .5-.5 .5 0 .5 .5 1.5-.3 .5 .2 1-.2 .5 .2 3 .1 .5-.5 .5 0 .5 .5 .5 0 .5-.6 .5 0 .5 .6 1.5 0 9 0 .5-.5 .5 0 .5 .5 7 0 .5-.5 1.5 0 .5 .5 15 0 1-.1 .5-1 .5-.5 1.5 0 2.5-.3 1.5 .2 3-.2 1.5 .3 4.5-.3 1.5 .3 4.5-.2 3 .2 4.5-.2 1.5 .2 1.5-.3 2 .3 5.5-.3 1.5 .3 1.5-.3 2 .4 .5 1.2 .5 .3 1.5 0 .5-.5 .5 0 .5 .5 1 0 .5-.5 .5 0 .5 .5 15 0 .5-.3 1-.1 .5 .4 .5-.4 .5 0 .5 .4 3.5-.1 .5-.3 .5-.1 .5 .4 3.5 .1 .5-.6 .5 0 .5 .5 4.5 .1 .5 0 .5-.4 .5 0 0 3.6-12 0-.5 .5-.5 .1-.5-.5-2.5-.1-.5 .5-.5 0-.5-.5-8 0-.5 .5-.5 0-.5-.4-6-.1-.5 .4-.5 0-.5-.3-6-.1-.5 1.5-1 .3-2-.2-3 .2-1.5-.3-1.5 .4-1 0-3.5-.3-1.5 .3-2.5-.4-2 .2-2.5-.2-2 .3-9-.2-1.5 .3-1.5-.2-1.5 .2-6 0-.5-.7-.5-1.2-.5 0-1.5 0-.5 .4-1 .1-.5-.4-2 0-.5 .2-.5 .1-.5-.3-3-.1-1 .2-.5 .3-.5 0-.5-.5-1.5 .4-.5-.3-2-.1-.5 .5-.5 0-.5-.5-9 .1-.5 .2-.5 .1-.5-.3-3-.1-2 .1-.5 .4-.5 0-.5-.4-1.5 0-.5 .3-.5 0-.5-.3-5.5-.1-1.5 .1-.5 .4-.5 .1-.5-.5-1.5 0-.5 .4-.5-.1-.5-.4-1 .1-.5 .4-.5 0-.5-.5-.5 .4-.5 .1-.5-.4-5.5 0-.5 .4-.5-.1-.5-.4-.5 0-.5 .5-.5 0-.5-.5-2 .1-.5 .3-.5 0-.5-.4-2 0-.5 .5-.5 1-.5 .1-8.5 .3-1.5-.3-1.5 .3-1.5-.3-5.5 0-2 .3-3-.3-3 .2-1.5-.3-3 .4-1.5-.3-4 .2-3.5-.2-.5-.5-.5-1-26-.1-1 .1-.5 .5-.5 0-1-.5-1-.1-8.5 .1-.5 .4-.5 0-.5-.4-2.5-.1-.5 0-.5 .4-.5 0-.5-.3-13-.1-3 .1-.5 .5-.5 0-.5-.5-4.5 0-.5 .3-.5 0-.5-.3-1.5-.1-.5 .5-.5 0-.5-.5-.5 1.9-.5 .2-2.5-.2-1.5 .2-3-.4-3 0-1.5 .3-1.5-.2-1.5 .2-3-.2-6 .2-1.5-.3-4.5 .3-3-.2-3 .3-3.5-.4-5 .3-.5-.1-.5-1.8-1.5 0-1 0-1 .5-.5 0-.5-.6-3.5 .1-.5 .4-.5 0-.5-.5-6.5 .1-.5 .4-.5 0-.5-.5-5.5 0-.5 .1-.5 .5-.5 0-.5-.5-2.5-.1-8.5 0-.5 .5-.5 0-.5-.5-8 0-.5 .3-.5 0-.5-.2-3.5-.1-.5 .5-.5 0-.5-.5-2.5 0-.5 .6-.5 0-.5-.5-5 0-.5 .2-1-.2-.5 0-.5 .3-1.5-.1-.5-.3-.5 .3-1.5-.3-3 .1-.5 1.4-.5 .7-2.5-.2-3 .4-9-.4-3 .3-1.5-.1-3 .1-1.5-.2-6 .1-1.5 .2-3.5-.4-3 .4-4 0-1.5-.2-1 0-.5-2.2-.5 0-.5 .5-.5 0-.5-.5-6 .1-.5 .1-1-.2-5 0-11 .1-.5 .4-.5 0-.5-.4-1 0-.5 .4-.5 0-.5-.4-1-.1-.5 .5-.5 0-.5-.5-3.5 0-.5 .6-.5 0-.5-.5-1.5-.1-1 0-.5 .4-.5 0-.5-.3-7.5-.1-.5 .4-.5 0-.5-.4-8.5 0-1 .1-.5 .4-.5 0-.5-.4-10.5-.1-.5 2.5-1 .1-1.5 0-1.5 .1-4.5-.3-3 .3-3-.4-3 .4-1.5-.3-2 .3-2.5-.3-1.5 .2-1.5-.3-2 .4-4 0-3-.3-1.5 .3-1.5-.2-1.5 .2-1.5-.2-3 .2-.5-.2-.5-2-.5-.5-7 .1-.5 .4-.5 0-.5-.4-.5 .5-.5-.1-.5-.5-17.5 0-1.5 .2-.5-.2-.5 .3-.5 1.1-2 0-.5-1.4-7 .1-2 .4-.5-.4-10 0-.5 .4-.5 0-.5-.5-.5 0-.5 .6-.5 0-.5-.6-1.5 0-.5 .5-.5 0-.5-.5-3.5 .1-.5 .3-.5 0-.5-.3-.5 0-.5 .2-.5 0-.5-.2-5-.1-.5 0-.5 2.3-.5 .4-3.5-.4-2 .3-1.5-.2-2.5 .3-2-.4-7.5 0-2.5 .2-2-.2-1.5 .2-2.5-.2-2 .2-2.5 0-2 .3-1.5-.2-.5-.3-.5 6.6-.5-.1-1.5 .3-2.5 .2-3.5-.2-.5-2.5-1 .1-2-.2-1.5 .4-4.5 .1-3.5-.3-4 .4-1-.3-3.5 .4-2.5-.1-2.5 .1-2.5-.2-5 .1-2 .2-1.5-.1-1 .2-1-.2-4 .3-8-.2-1.5 .1-1 .4-1.5-.3-9-.3-1.5-.3-1.5 .2-2.5-.5-4.5-.1-3-.3-.5 .1-1.5 1.3-1.5-1.3-.5-4.1-.5 .4-1.5-.3-3 .3-4.5-.3-1.5 .4-1.5-.2-1.5 .1-3-.2-3 .1-1.5-.2-4.5 .4-7.5-.4-3 .4-1.5-.4-3 .3-3-.2-.5-.3-.5-1.9-.5-.2-3 .1-.5 .5-.5 0-.5-.5-2.5-.1-7 0-.5 .5-.5 0-.5-.5-6.5 0-1 .1-.5 .3-.5 0-.5-.3-.5 .4-.5 0-.5-.4-4-.1-1 .3-.5-.2-10-.1-1 .1-.5 .2-1.5 0-.5-.3-1 0-.5 .2-1-.2-7.5 0-1.5 0-.5 .4-.5 0-.5-.3-9-.1-3 .1-.5 2.8-1-.1-3 .3-4.5-.4-3 .3-.5-.9zM364.6,413.7h2.1v12h-2.1zM826,409.7h2.1v22.3h-2.1zM932.4,415.2h2.1v9h-2.1z"/>
<path fill="#000000" d="M138,449.8l7 0 .5-.2 1 .2 3 0 .5-.3 .5 0 2 .4 10.5 0 1-.1 .5-.4 .5 0 .5 .4 3 .1 .5-1.4 1-.1 3 .3 4-.3 1.5 .3 3 0 3-.3 2 .3 2.5 0 1.5-.2 3 .2 4.5 .1 1.5-.3 4.5 0 1.5 .2 1.5-.2 1.5 .3 1.5-.4 .5 0 .5 1.4 2 .1 .5-.5 .5 0 .5 .5 8.5 0 .5-.5 .5 0 .5 .5 .5-.5 .5 0 .5 .4 1.5 .1 .5-.3 .5 0 1 .2 .5-.3 .5 0 .5 .4 6 0 .5-1.1 1.5 0 .5 1.1 9.5 0 .5-.6 .5 0 .5 .5 6 0 .5-.3 1-.2 .5 .5 .5-.3 .5 0 .5 .4 .5-.3 .5-.1 .5 .3 5 .1 .5-.4 .5 0 .5 .4 .5 0 .5-.4 .5 0 .5 .3 1.5 .1 .5-1.1 1.5 0 .5 1 2.5 0 .5-.3 .5 0 .5 .3 .5 0 .5-.4 .5 0 .5 .4 1 0 .5-1.2 .5-.2 1.5-.1 8.5 .3 1.5-.2 2 .2 4-.3 2 .2 1.5-.1 6 .2 4-.2 2 .2 1.5-.3 2.5 0 2 .3 3.5-.1 .5 .4 .5 .9 2 .1 .5-.4 .5 0 .5 .4 17.5 0 .5-.5 .5 0 .5 .5 2.5-.1 .5-.4 .5 0 .5 0 .5 .4 7 0 .5-.4 1 0 .5 .5 6.5-.1 .5-.4 1 0 .5 0 .5 .5 25-.1 .5-.9 .5-.4 2 .1 3-.2 1.5 .3 4.5-.3 5 .3 7-.3 1.5 .1 6-.1 4.5 .3 4.5-.3 3.5 .1 .5 .5 .5 .8 .5 0 .5-.4 .5 0 .5 .4 1.5 .1 1 0 .5-.3 .5-.1 .5 .4 .5-.5 .5 0 .5 .5 1.5-.1 .5-.3 .5 0 .5 .3 4 .1 .5-.5 .5 0 .5 .4 2 0 .5-.3 1 .3 3.5 0 .5-.3 .5 0 .5 .3 1 0 .5-.3 .5 .1 .5 .3 3.5 0 4 0 .5-.4 .5 .1 .5 .3 .5-.6 .5 0 .5 .5 2 .1 1.5-.3 .5 .3 3 0 .5-.5 .5 0 .5 .5 4 0 .5-.6 .5 0 .5 .5 1 0 .5-.2 .5 0 .5 .3 10-.1 .5-.3 .5 0 .5 .3 2.5 0 .5-.3 1-.1 .5-.3 3-.2 7.5 .2 1.5-.2 3 .2 7.5-.2 1.5 .2 1.5-.3 1.5 .2 1.5-.2 2 .3 4-.3 2 .2 5-.1 .5 .3 .5-6.4 2.5-.1 3.5-.6 1 .1 4-.2 8-.7 1.5 .2 2.5-.4 4.5-.2 2.5 .2 4.5-.1 1.5 .4 1-.3 2.5 .3 2.5-.3 2.5 .4 3.5-.2 2.5 .4 1-.2 2.5 .2 2.5-.1 4.5 .4 3.5-.1 1.5 .2 1-.2 1.5 .4 1-.1 1.5 .1 5.5 0 3 .4 2-.2 2.5 .3 5-.1 2 .4 .5 6.1 4 .2 3-.1 1.5 .2 4.5-.2 3 .2 6 0 3-.2 1.5 .2 1.5-.3 4.5 .2 4.5-.2 1.5 .1 .5-.5 1.5 0 1 1 .5-.5 .5 0 .5 .5 1 .1 18.5 0 .5-.3 .5 0 .5 .3 5.5 0 .5-.4 .5 0 .5 .3 1.5 .1 .5-.5 .5 0 .5 .5 2 0 .5-.3 .5 0 .5 .3 2.5-.1 .5-.2 .5-.1 .5 .3 6 .1 1 0 .5-.6 .5 0 .5 .5 1.5 0 .5-.4 .5 0 .5 .5 2.5-.1 .5-.2 1 .2 .5-.5 .5 0 .5 .5 9.5 .1 1 0 .5-1.1 1.5 0 .5 1.1 1 0 12.5 0 1.5-.3 .5 .2 23 .1 3-.1 .5-.2 1 .3 1.5 0 8.5-.1 .5-.4 .5 0 .5 .4 2-.2 .5 .2 1 .1 6 0 .5 0 .5-.5 .5-.1 .5 .5 3 .1 1-.1 2.5-1.2 1-.3 2.5-.4 1.5 .3 2-.3 4 1.1 1.5 .3 .5 .5 3 .1 3-.1 .5-.3 .5 0 .5 .3 2.5 .1 8 0 .5-.3 .5 0 .5 .2 4 0 .5-.5 .5 0 1 .6 1.5 0 1-.2 .5-.3 .5 0 .5 .5 2-.1 .5-.3 9-.2 3 .3 1.5-.3 1.5 .3 1.5-.2 2 .2 3-.2 7 .1 1.5-.2 2 .2 2.5-.2 1.5 .2 4.5-.1 .5 .1 .5 .3 4 .1 .5-.5 .5 0 .5 .5 .5-.1 .5-.3 .5 0 .5 .3 2.5 .1 1.5-.1 .5-.4 .5 .1 .5 .4 2-.3 .5 .2 4 .1 .5-.2 1 .2 2-.1 .5-.3 1.5 .4 1.5 0 .5-.3 .5 0 .5 .2 3 0 .5-.2 1.5 .2 .5-.3 .5 0 .5 .3 .5 0 .5-.4 .5 0 .5 .4 2 .1 6 0 .5-.4 .5 0 .5 .4 9.5 0 .5-.6 .5 0 .5 .6 2.5 0 5.5-.1 .5-.4 .5 0 .5 .4 .5-.5 .5 0 .5 .5 1 .1 1 0 .5-.3 .5 0 .5 .2 3 0 .5-1.3 2.5 .2 5-.4 7 .3 1.5-.2 2 .2 3.5-.1 .5 .5 0 4.4-.5 .5-5.5 .2-4.5-.1-3.5 .2-8-.3-.5-1.2-1 0-.5 .3-.5 .1-.5-.4-5 0-.5 .3-.5-.1-.5-.3-12 0-.5 .4-.5 0-.5-.4-2 .1-.5 .3-2-.1-.5-.2-3 0-.5 .2-.5 0-.5-.2-2 0-3.5 0-.5 .2-1-.3-11.5 0-1.5 .3-.5-.3-14.5 0-.5 .5-.5 0-.5-.4-5.5-.1-.5 .1-.5 .4-1 .1-2.5-.2-2 .2-8.5-.1-1.5-.2-1.5 .1-4.5-.1-2 .2-2.5-.1-1.5 .2-2-.2-2.5 .1-1.5-.2-4.5 .3-3-.3-.5-.3-.5 0-4.5 .1-.5 .5-.5 0-.5-.6-7.5 .1-.5 .5-.5 0-.5-.5-1-.1-5.5 0-1.5 .5-.5-.4-7.5-.1-2 1-1 .2-2 .8-2-.1-1.5 .4-3-.6-4-1.7-1 0-2 0-.5 .5-.5 0-.5-.5-12 0-.5 .4-.5 0-.5-.3-2.5-.1-2.5 .1-.5 .5-.5 0-.5-.6-.5 0-2 .1-.5 .2-.5 0-.5-.3-.5 .4-.5 0-.5-.4-3.5 0-.5 .4-.5 0-.5-.3-.5 0-.5 .5-.5 0-.5-.6-7 .1-.5 .3-.5 0-.5-.3-3.5-.1-2 .1-.5 .4-.5 0-.5-.4-11.5-.1-1 .1-.5 .4-.5 0-.5-.4-1.5-.1-1 .3-.5-.2-.5 0-.5 1.1-1.5 0-.5-1.1-2-.1-.5 .5-.5 0-.5-.5-.5 .3-.5 0-.5-.3-1.5 .1-1 .5-.5 0-.5-.5-2.5-.1-2 .1-.5 .3-.5 0-.5-.3-2-.1-.5 .4-.5 0-1 0-.5-.3-7-.1-1 .1-.5 .4-.5 0-.5-.4-3.5 0-1 .4-.5 0-.5-.5-4.5 .1-.5 .4-.5 0-.5-.4-.5-.1-.5 .4-.5 0-.5-.3-6.5-.1-.5 .4-.5 .1-.5-.4-4.5-.1-.5 .5-.5 0-.5-.4-1.5-.1-10 0-1 1.2-1.5 0-.5-.7-3 .1-2-.2-2.5 .2-5-.2-.5 .2-2-.1-1.5 .1-1.5-.1-6 .2-7.5-.3-2 .3-2.5-.3-2.5 .3-.5 6.3-3.5-.1-2.5 .3-2.5 0-3.5 .4-1.5-.3-3.5 .2-1-.1-1.5 .2-1-.1-1 .3-2.5 0-1.5 .2-2-.2-1.5 .3-1-.2-1.5 0-2.5 .4-1-.2-1 .2-1.5-.2-5.5 .4-1.5-.3-2.5 .5-1-.3-5 .3-1.5-.2-3.5 .5-4.5 .1-1-.2-1.5 .1-2.5-.3-1 .1-4-.1-2-.5-2.5 .1-2-.3-4 0-1-.3-1.5 0-1-.3-2.5 0-2-.4-.5-6.4-.5 .2-8.5 .2-1.5-.1-3 .2-9-.3-7.5 .3-1.5-.3-4.5 .3-2-.3-4 .2-1-1-11 .1-.5 .3-1.5-.3-1 .3-.5 0-.5-.4-8 0-.5 .6-.5 0-.5-.5-3.5-.1-1.5 .1-.5 .4-.5 0-.5-.4-3.5-.1-.5 .3-.5 0-.5-.2-3-.1-.5 .3-.5 0-.5-.3-3.5 0-.5 .3-.5 .1-.5-.3-8-.1-.5 .5-.5 .1-1-.1-.5-.5-.5 0-1 .1-.5 .4-.5 0-.5-.5-.5 0-9 0-.5 0-.5 .7-.5 .5-2.5 .2-3-.2-3 .2-2-.2-3 .3-2.5-.3-2 .3-2.5 0-2-.3-6 .3-4.5-.3-5.5 .2-2-.2-1.5 .3-1-.2-1-1.3-6 .1-.5 .2-1-.2-1.5 0-.5 .4-.5 0-.5-.4-.5 .3-.5 0-.5-.3-.5 0-.5 .3-.5 0-.5-.3-9.5-.1-.5 0-.5 .4-.5 0-.5-.3-.5 0-.5 .3-.5 0-.5-.3-5 0-.5 .3-.5 0-.5-.4-3.5 0-.5 .4-.5 0-.5-.4-4 0-2 0-.5 .5-.5-.1-.5-.4-7 0-1.5 0-.5 .6-.5 0-.5-.5-2.5 0-.5 .2-1-.3-1 0-.5 .5-.5 0-.5-.4-4-.1-.5 .4-.5 0-.5-.4-1.5 0-.5 1.1-.5 .5-6-.2-1.5 .2-2-.3-2.5 .3-3-.1-2 .1-2.5 0-2-.3-4 .3-1.5-.3-2 .3-3-.3-2.5 .2-5-.1-1.5 .2-1.5 0-.5-.3-.5-1.3-.5 .5-.5 0-.5-.5-5.5 .1-.5 1.1-1.5 0-.5-1.1-1-.1-1.5 .3-.5-.2-1.5-.1-.5 .3-.5 0-.5-.2-1.5-.1-3.5 .1-.5 .2-1-.3-.5 .1-.5 .4-.5 0-.5-.5-.5 0-2 .1-.5 .5-.5-.1-.5-.4-8.5-.1-.5 .5-.5 0-.5-.5-1 .3-.5-.3-2 0-.5 1.2-1.5 0-.5-.7-.5 0-.5-.4-6-.1-.5 .4-.5 0-.5-.4-8.5 0-.5 .3-1.5 0-.5-.3-4.5 0-2 .1-.5 1.4-3.5-.3-3 .2-1.5-.2-6 0-1.5 .2-2-.1-2.5 .1-1.5-.2-2 .3-2.5-.3-3 .3-3-.2-1.5 .2-4.5-.2-3 .2-.5-.1-.5-1.3-23-.1-1.5 .4-.5-.3-3.5 0-.5 .5-.5 0-.5-.5-.5 0zM193.1,443.4h2.1v19.5h-2.1zM339.8,442.6h2.1v17.6h-2.1zM403.4,445.8h2.1v11h-2.1zM449.2,443.2h2.1v16h-2.1zM504,443.8h2.1v15h-2.1zM661.7,444.2h2.1v14h-2.1zM769.7,443.9h2.1v19h-2.1zM794.7,443.2h2.1v16h-2.1zM1003.4,446.2h2.1v10h-2.1z"/>
<path fill="#ff0000" d="M138,479.1l.5-.8 6.5-.1 .5 .7 .5 2.2 1.5-.2 5.5 .1 8-.1 6 .1 4.5-.2 3.5 .3 3-.2 8.5 .3 2-.3 2.5 .2 2-.2 10.5-.1 2.5 .3 1.5-.2 3 .2 1.5-.2 6 .2 4.5-.3 2 .3 6.5-.2 .5 .1 .5-1.4 .5-.1 3.5 .2 3-.4 6 .4 2-.3 10 .2 1.5-.2 7.5-.1 2 .2 5.5 .1 2-.2 .5 .6 .5 1.4 .5 .1 7-.1 .5-.4 .5 0 .5 .4 1 .1 7 0 .5-.5 .5 0 .5 .5 2 0 .5-.4 .5 0 .5 .4 4-.1 .5-.3 .5 0 .5 .3 .5-.5 .5 0 .5 .5 6.5 .1 2.5-.1 .5-.2 1 .3 1 0 .5-.5 .5-.1 .5 .5 4 .1 .5-.5 .5 0 .5 .5 .5 0 .5-.6 .5 0 .5 .5 2.5 .1 12 0 .5-.5 .5 0 .5 .4 1 .1 5.5 0 .5-1.9 4-.1 3 .3 9-.2 1.5 .2 1.5-.2 9 .1 1.5-.1 4.5 .3 4-.3 4.5 .1 .5 .3 .5 1.4 .5-.5 .5 0 .5 .5 2 .1 7 0 .5-.5 .5-.1 .5 .5 .5-.4 1.5 .1 .5 .4 2.5-.1 .5-.4 .5 0 .5 .5 3.5-.1 .5-.1 2 .1 .5-.3 .5 0 .5 .4 22.5 0 .5-.5 .5 0 .5 .5 2.5-.1 .5-.5 .5 0 .5 .5 .5-.2 1.5-.2 .5 .4 .5-.5 .5 0 .5 .5 .5-.4 1.5 .1 .5 .3 1.5 0 .5-1.1 2 0 .5 1.2 5-.1 .5-.3 .5 0 .5 .4 1 0 .5-2.1 .5-.2 2 .2 4.5-.2 2 .3 4.5-.2 2.5 .1 1.5-.2 4.5 .3 2-.3 3 .3 4-.3 1.5 .2 3-.2 1.5 .2 4.5-.3 2 .3 .5 .4 .5 1.6 4.5 0 .5-.4 .5 0 .5 .4 1 .1 4.5-.1 .5-.3 .5 0 .5 .3 2 .1 2.5-.1 .5-.4 .5 0 .5 .4 .5 0 1 0 .5-.5 .5 0 .5 .6 .5 0 3-.1 .5-.4 .5-.1 1 .5 1 0 .5-.3 .5 0 .5 .3 1.5 .1 6 0 .5-.3 .5 0 .5 .2 2.5 .1 .5-.5 .5 0 .5 .5 9 0 .5-.4 .5 0 .5 .4 1.5-.1 .5-.3 .5 .1 .5 .3 2 0 6-.1 .5-.3 .5 0 .5 .4 1.5-.1 .5-.5 .5 0 .5 .5 1 0 .5-1.8 .5-.8 1.5-.3 1.5 .2 1.5-.2 1.5 .4 1.5 0 3-.2 1.5 .2 4.5-.3 4.5 .2 1.5-.2 1.5 .3 7.5-.4 1.5 .3 1.5-.3 1.5 .3 3-.2 3 .2 1-.1 .5 2.7 4 .1 .5-.3 .5 0 .5 .2 3.5 .1 .5-.5 .5 0 .5 .5 1.5 0 .5-.3 .5 0 .5 .3 .5-.1 .5-.5 .5 0 .5 .5 5 .1 1.5-.4 1 .3 3.5 .1 1-.1 .5-.2 1.5 .3 .5-.4 .5-.1 .5 .4 5 .1 .5-.4 .5 0 .5 .4 1 0 1.5-.1 .5-.4 .5 0 .5 .4 1.5 .1 4.5-.1 .5-.2 1 .3 .5-.4 .5 0 .5 .4 2.5 0 .5-.3 1 .3 2 0 1.5-.4 .5 .3 6.5 .1 .5-.5 .5 0 .5 .4 3.5 .1 1-.1 .5-1.7 .5-.7 1 0 3-.1 4.5 .4 3-.3 2 .2 2.5-.3 7.5 .3 1.5-.3 1.5 .3 1.5-.3 1.5 .3 1.5-.1 4.5 .2 1.5-.2 3 .2 1.5-.3 3 .3 .5 .3 .5-6.7 2-.3 2.5 .2 2.5-.2 1 .2 4 .1 1-.2 1.5 .2 3.5-.3 3.5 .1 1 .2 1.5-.2 1 .2 1-.2 1.5 .1 3.5 0 1.5-.2 2 .4 2.5-.4 3.5 0 1.5 .3 1-.3 1 0 1.5 .3 2-.2 1.5 .2 3.5-.3 5 .3 2.5 0 1-.2 1 .2 1.5-.2 3.5 .2 1-.2 1.5 .1 2-.2 1.5 .3 3.5 0 1.5-.3 1.5 .1 4-.7 2.5 .4 1.5-.2 .5 6.9 1-.3 3-.1 4 .1 3 .2 2-.4 3 .4 1.5-.4 1.5 .3 6-.2 3 .3 1.5-.4 4.5 .1 3 .3 .5 .7 .5 1.7 3.5 .1 .5-.4 .5-.1 .5 .4 1.5 .1 5.5 0 .5-.3 .5-.1 .5 .4 2.5 0 .5-.3 .5 0 .5 .2 .5 0 .5-.5 .5 0 .5 .6 2.5-.1 .5-.3 .5 0 .5 .3 11.5 0 .5-.4 .5 0 .5 .4 2.5 .1 .5-.5 .5 0 .5 .5 1.5-.1 .5-.5 1.5 .1 .5 .4 2 .1 3.5 0 .5-.6 .5 0 .5 .6 3.5 0 .5-.4 .5 0 .5 .4 .5 0 10 0 .5-.3 1.5-.3 .5 .5 .5-.4 .5 0 .5 .4 .5-.2 1 .3 .5-2.4 .5-.4 4-.1 1.5-.2 1.5 .1 1.5 .4 1.5-.4 1.5 .4 7.5-.2 1.5 .2 3-.1 2-.4 1 0 1.5 .5 1.5-.4 2 .4 5.5-.3 3 .3 3-.5 .5 .2 .5 .5 .5 2.4 6-.1 .5-.4 1.5 .2 .5 .2 13.5 0 .5-.3 .5 0 .5 .4 1 0 .5-.5 .5-.1 .5 .5 0 2.8-8.5 0-.5 .5-.5 0-.5-.1-.5-.4-15.5 0-.5 2.2-.5 .4-3-.2-1.5 .4-1.5-.2-1.5 .3-1.5-.2-6-.1-3 .3-1.5-.4-3 .1-1.5-.1-1.5 .4-1.5-.4-3 .4-1.5-.4-1.5 .1-1.5 .3-1.5-.4-1.5 .3-4.5-.4-1.5 .1-.5-.3-.5-2.3-5 0-1 .1-.5 .4-.5 0-.5-.5-.5 0-.5 .4-.5 .1-.5-.5-1 0-.5 .6-1.5-.3-.5-.3-.5 0-.5 .5-.5 0-.5-.5-1 0-.5 .3-.5 0-.5-.3-.5 .4-.5 .1-.5-.5-.5 .4-.5 0-.5-.3-2-.1-3 0-.5 .4-.5 0-.5-.3-.5 .3-.5-.1-.5-.3-3 0-.5 0-.5 .5-.5 .1-1-.6-1 .1-.5 .5-.5 0-.5-.5-2 0-.5 .4-.5 0-.5-.5-.5 0-10.5 0-2 .1-.5 .3-.5 0-.5-.4-5.5 0-1 0-.5 .5-.5 0-.5-.4-2-.1-.5 .1-.5 .4-.5 0-.5-.4-3-.1-1 .1-.5 .2-1.5-.3-.5 2.2-.5 .6-1-.2-3 .2-4.5-.3-3 .4-3-.3-3 .3-1.5-.4-1.5 .3-1.5-.3-1.5 .3-1.5-.3-3 0-1.5 .3-1.5 .1-1.5-.3-4 .3-.5-.2-.5 6.1-1.5 0-2 .2-3-.1-1.5-.4-1.5 .3-1-.1-1 .1-4-.2-1 .3-2-.4-1.5 .3-5-.3-1 .3-1.5-.2-1 .3-6-.4-1 .3-1.5-.2-3.5 .2-2.5-.2-2.5 .2-3.5-.3-2 .3-1.5-.2-2 .3-1.5-.3-2.5 .3-1-.2-3.5-.1-10 .2-6-.3-2.5 0-1 .3-2.5-.2-1 .3-1.5-.4-.5-6.6-.5 .4-1 .2-2-.2-7 .2-1.5-.2-2 .3-2.5 0-1.5-.3-2 .3-3-.3-5.5 .1-1.5-.2-3 .4-2-.3-2.5 .3-1.5-.3-2 .2-2.5-.2-1.5 .3-.5-.8-.5-1.8-4 0-1 .3-.5-.2-4.5-.1-18.5 .1-.5 .2-1-.3-4 0-2 .1-.5 .3-.5 0-.5-.4-1 0-2.5 .1-.5 .3-1.5-.4-2 0-.5 .5-.5 0-.5-.5-7.5 .1-.5 .3-.5 0-.5-.3-2.5-.1-12.5 0-.5 .4-.5 2.2-1.5 .1-1.5 .3-2-.3-2.5 .1-3-.3-1.5 .4-4.5-.1-3 .2-1.5-.4-1.5 .4-1.5-.2-1.5 .2-4.5-.4-1.5 .3-1.5-.3-1.5 .3-3-.2-1.5 .3-3-.3-1 .2-.5-.7-.5-2.2-1 0-3.5 .1-.5 .2-.5 .1-.5-.3-.5 0-.5 .2-1.5-.3-.5 .6-.5 0-.5-.5-.5 .4-.5 0-.5-.4-8.5-.1-.5 .5-1 .1-.5-.6-4 .1-.5 .3-.5 0-.5-.4-2 0-4 .1-.5 .3-.5 0-.5-.3-2-.1-7 .1-.5 .3-.5 0-.5-.4-.5 0-.5 .5-.5 0-.5-.4-.5 .5-.5 0-.5-.6-.5 0-20 0-.5 .5-.5 1.2-.5 .4-4-.1-3 .4-6-.4-3 .3-2-.2-2.5 .3-1.5-.3-3.5 0-2.5 .3-3.5-.2-2.5 .2-1.5-.2-1.5 .2-3-.3-3 .3-.5-.2-.5-1.9-.5-.3-1.5 0-.5 .4-1 .1-.5-.4-3.5 0-.5 1.1-2 0-.5-1.2-1.5 0-5 0-.5 .5-.5 0-.5-.4-3.5-.1-.5 .6-.5 0-.5-.1-.5-.4-5.5 0-.5 .3-2.5-.3-.5 .3-.5 0-.5-.4-2 0-.5 0-.5 .6-.5 0-.5-.5-.5-.1-.5 .4-1.5 .1-.5-.4-.5 .4-.5 0-.5-.4-3.5-.1-.5 .3-1.5 .3-.5-.5-1-.1-7.5 .1-.5 .3-.5 0-2-.4-12.5 0-.5 1.6-.5 .4-3-.2-4.5 .2-1.5-.4-4.5 .4-1.5-.4-4.5 .4-2-.4-10 .2-1.5-.1-1.5 .1-1.5-.2-1.5 .4-3-.4-1.5 .4-.5-.1-.5-1.9-2.5 .1-.5 .3-1-.1-1.5 .2-.5-.4-.5 .2-1-.2-.5 .2-.5 0-.5-.3-5.5 .1-.5 .4-.5 0-.5-.4-1-.1-12.5 .1-.5 .2-1-.3-4 0-.5 .5-.5 0-.5-.5-14.5 0-.5 .4-.5 0-.5-.4-7 0-.5 .3-.5 0-.5-.3-5.5 0-1.5 0-.5 .5-.5 0-.5-.5-2.5 0-.5 1.4-.5 .6-2 .1-1.5-.3-4 .3-2-.3-3 .4-9 0-7.5-.4-4.5 .4-4.5-.4-5 .3-.5-.1-.5-1.6-1.5 .2-1.5-.2-1.5 .2-3-.2-3 .1-7.5-.1-1 .2-5 0-4.5-.2-6 .2-3-.2-1.5 .2-1.5-.2-1.5 .2-1.5-.2-3-.1-1.5 .3-3 .1-1.5-.3-1.5 .2-1.5-.2-3 .2-2-.2-4.5 .1-4.5-.1-5.5 .3-4.5-.3-2 .2-4-.1-.5 2-.5 .5-1.5 0-1.5 .2-1.5-.2-2 .1-.5-.8zM157.6,468.2h2.1v27.4h-2.1zM156,476.8h2.1v12h-2.1zM159.2,477.8h2.1v10h-2.1zM260,475.8h2.1v14h-2.1zM593.4,476.8h2.1v12h-2.1zM617.6,474.8h2.1v16h-2.1zM768,471.3h2.1v29.5h-2.1z"/>
<path fill="#0000ff" d="M138,512.9l1-.6 .5 0 .5 .5 2 .1 15 0 1-.3 .5 0 .5 .3 6.5 0 1-.2 .5 .2 2 0 1 0 .5-.5 .5 0 .5 .4 2 .1 11.5 0 .5-2.5 .5-.2 1 .1 3 0 4.5-.3 3 .4 4.5-.2 1.5 .2 1.5-.2 7 0 1-1.1 .5-.3 .5-.1 .5-.5 1-2.1 .5-.4 .5-.2 2 2 .5-.1 1 .4 1.5-.6 1 .2 1-.6 .5 .3 1-.3 1 .8 .5-.6 1-.6 .5-.7 .5 .4 1 .1 .5 .9 .5 .4 1-.4 .5 .6 .5 .1 .5-.5 1.5-.6 .5 .3 1-.3 2 .9 .5-.2 .5 0 1 .6 1-.6 1 .6 1.5-.1 .5 .3 .5 0 .5-.7 .5-.2 1 .5 1-.1 1 1 .5 .3 1.5 .1 .5-.2 .5-.4 .5 .1 .5 .6 1 .6 .5 .5 1 .4 .5 1.3 .5 .4 1 .1 .5 .4 14 0 .5-.5 .5 0 .5 .5 2 0 .5-.2 1.5-.2 .5 .3 .5-.5 .5 0 .5 .6 1 0 1-.2 .5 .2 21 0 .5-3 2.5 0 2-.2 4.5 .1 1.5 .3 4-.5 2 .2 1.5-.1 1.5 .4 3-.4 1.5 .3 1.5-.4 1.5 .3 7 .1 2-.4 5.5 .3 2-.2 1 .3 .5 2.9 1.5-.1 .5-.4 .5 0 .5 .4 5.5 .1 1 0 .5-.4 1 0 .5 .4 5 0 .5-.3 .5 0 .5 .3 2 0 .5-.3 .5-.1 .5 .4 15.5 .1 7-.1 1-.2 .5 .2 1.5 0 .5-.3 .5 0 .5 .3 2.5 0 .5-.2 .5 0 .5 .2 2 0 1-.2 .5 .2 1.5 0 .5-.3 .5 0 .5 .3 1 0 .5-.4 .5 0 .5 .4 2.5 0 1.5 0 .5-1.6 2 0 .5 1.5 2 .1 1 0 .5-2.8 3 .2 4.5-.2 2 .2 2.5-.2 2 .3 5.5-.1 2-.3 2.5 .1 1.5 .3 1.5-.3 2 .3 5.5-.2 1.5 .2 2-.4 3 .4 3-.1 .5 .1 .5 .4 .5 2.1 6.5 0 23.5 0 .5-.4 .5 0 .5 .3 2 0 .5-.5 .5 0 .5 .6 8.5 0 .5-.5 .5 0 .5 .1 .5 .4 3-.1 1-1 2 0 .5 1.1 4.5 0 .5-.3 .5 0 .5 .3 3.5 0 .5-.3 1 .1 .5 .2 .5 0 .5-.4 .5 0 .5 .4 .5-.4 .5 0 .5 .5 5-.1 .5-2.1 1.5-.3 3 .2 2-.3 1.5 .3 3 0 1.5-.2 1.5 .2 3-.1 1.5-.2 2.5 .2 2-.2 4.5 .1 1.5-.1 1.5 .3 1.5-.3 4.5 .2 1.5-.1 3 .1 3-.1 .5 .5 .5 1.8 .5-.5 .5 0 .5 .5 1.5 .1 .5-.3 .5 0 .5 .2 3 .1 1 0 .5-.4 .5 0 .5 .4 1.5 0 .5-.4 .5-.1 .5 .5 2.5 0 1 0 .5-.5 .5 0 .5 .5 9.5 0 .5 0 .5-.4 .5 0 .5 .3 1 .1 .5-.3 .5 0 .5 .3 2 0 1-.2 .5 .2 1.5 0 1-.2 .5 .2 1 0 .5-.5 .5 0 .5 .5 12 0 .5-.2 .5-.1 .5 .3 5.5 0 .5-.4 1 0 .5 .4 4 0 1.5-.1 .5-.5 .5 0 .5 .5 1.5 .1 .5-1.8 .5-.4 1.5 .3 1.5-.3 1.5 .2 4.5-.3 3 .2 3-.1 1.5 .2 3-.1 1.5 .2 1.5-.4 1.5 .4 1.5 .1 1.5-.1 1.5-.2 1.5 0 1.5 .3 1.5-.1 1.5-.4 1.5 .3 4.5-.3 3 0 .5 .4 .5 1.9 1 0 3.5 0 .5-.5 .5 0 .5 .5 .5-.5 .5 0 .5 .5 .5 0 .5-.5 .5 0 .5 .5 3.5 0 .5-.3 .5 0 .5 .3 2-.1 .5-.3 .5 0 .5 .4 10 0 1.5-.1 .5-.2 1.5-.2 .5 .5 6 0 .5-.3 .5 0 .5 .3 2 0 .5-.2 1 .2 .5-.2 .5 0 .5 .3 3.5-.2 .5-.4 .5 0 .5 .4 1 0 .5-.3 .5 0 .5 .3 2 .1 .5-.2 1 .2 1.5 0 .5-.3 .5 0 .5 .3 1.5 0 6-.1 .5-.5 .5 .1 .5 .5 2-.1 .5-.4 1 0 .5-1 .5-.4 4.5-.2 1.5 .4 3-.4 3 .1 1.5 .2 1.5-.1 1.5 .1 1.5-.3 1.5 .4 1.5-.4 1.5 .3 3 0 9-.1 3 .2 1.5-.3 1.5 .2 1.5 0 1.5 .2 .5 1.3 .5 0 .5 .3 1.5 0 4 0 .5-.3 .5 0 .5 .3 1 0 .5-2.1 1.5 0 .5 2.1 1 0 3 0 .5-.5 .5 0 .5 .4 1.5 .1 5 0 .5-.3 .5 0 .5 .3 1 0 8 0 .5-.4 .5 0 .5 .4 4 0 4.5-.1 .5-.5 1 .2 .5 .4 6 0 .5-.3 .5 0 .5 .3 2.5 0 1-.2 .5 .2 3 0 .5-.5 .5 0 1 0 .5 .5 4 0 .5-.4 .5 0 .5 .4 1.5 0 .5-1.2 .5-.1 4-.2 1.5 .2 .5-1.3 2 0 .5 1.2 1.5-.2 1.5 .3 3-.2 1.5 .2 1.5-.2 1.5 .3 1.5-.2 1.5 .2 1.5-.3 3-.1 1.5 .3 4.5-.3 7.5 .4 1.5 0 1.5-.4 2.5 .1 .5 .3 .5 1.2 5 0 .5-.5 .5 0 .5 .5 5-.1 .5-.5 .5 0 .5 .6 1.5 0 .5-.3 .5 0 .5 .3 .5-1.1 2 0 .5 .8 .5 .3 8.5 0 .5-.4 .5 0 .5 .4 .5 0 4 0 1-.2 .5 .2 11.5 0 1-.2 .5 .2 4 0 .5 0 .5-.4 1 0 .5 .4 .5-.5 .5 0 .5 .4 2 .1 10-.1 .5-1 .5-.2 1.5 .1 3-.3 1.5 .3 3.5-.2 .5 .5 0 4.7-.5 .6-5-.3-4.5 .3-.5-.3-.5-.8-1.5 .1-.5-.5-.5 0-.5 .3-.5 0-.5-.3-3.5 0-.5 .3-.5 0-.5-.3-4 0-.5 .4-.5 0-1-.1-.5-.3-1.5-.1-7.5 0-2.5 .1-.5 .5-1.5 0-.5-.5-1.5 0-.5 .2-1-.3-.5 .5-.5 0-.5-.5-4 .1-.5 .4-.5 0-.5-.4-3-.1-1.5 0-.5 .6-.5 0-.5-.5-3.5 0-1 1-2 0-.5-.6-.5-.1-.5-.3-10.5 0-.5 .3-1 .1-.5-.4-2.5 0-.5 1.1-.5 .2-5.5 .1-2-.2-1.5 .3-7.5-.3-1.5 .3-1.5-.3-2.5 .3-2-.4-4 .1-3.5 .3-1.5-.2-1.5 .1-1.5-.1-1 0-.5 1.2-2 0-.5-1.2-2-.1-1.5 .3-2-.2-.5-.2-.5-1.1-2.5 0-1.5 0-.5 .4-.5 0-.5-.4-5.5 0-.5 .3-.5 0-.5-.3-1-.1-.5 .6-.5 0-.5-.5-.5 .4-.5 0-.5-.5-6.5 .1-.5 .4-.5 0-.5-.4-5.5 0-.5 .3-.5 0-.5-.2-.5 .4-.5 0-.5-.5-10.5-.1-3.5 .1-.5 .5-.5 0-.5-.5-1 0-.5 .3-.5 0-.5-.3-7.5-.1-.5 2.1-1.5 0-.5-2-6 0-.5 .3-1.5-.4-1 .1-.5 1.7-2 .3-1.5-.1-4.5 0-3-.2-3 .2-2-.3-4 .4-1.5-.2-6-.1-7.5 .4-3-.3-3 .2-2.5-.1-.5-.4-.5-1.6-1.5 .1-.5 .4-.5 0-.5-.4-2 0-9 0-.5 .3-.5 0-.5-.3-1.5-.1-2 .1-.5 .3-.5 0-.5-.3-2 0-.5 .3-.5 0-.5-.3-.5 0-.5 .4-.5 0-.5-.4-1.5-.1-3 .1-.5 .3-.5 0-.5-.3-3-.1-9 .1-.5 0-.5 .5-.5 0-.5-.5-13-.1-.5 .6-.5 0-.5-.5-1 0-.5 0-.5 .3-.5 .1-.5-.4-4 0-.5 .5-.5 0-.5-.5-.5 .4-.5 0-.5-.4-.5 0-.5 1.7-.5 .3-4 .1-1.5-.3-1.5 .4-1.5-.3-1.5-.1-1.5 .3-1.5-.2-1.5 .2-9-.1-1.5-.2-3 .4-1.5-.3-4.5 .2-1.5-.3-1.5 .5-1.5-.4-1.5 .2-3.5 0-.5-.4-.5-1.5-.5-.2-4.5 0-.5 .2-.5 0-.5-.3-5.5 .1-.5 .3-.5-.1-.5-.2-2.5-.1-1.5 .1-.5 .3-.5-.1-.5-.2-1.5 0-2 0-.5 .5-.5 0-.5-.5-2 0-.5 .3-1.5-.4-5.5 0-.5 .4-.5 0-.5-.3-12.5 0-.5 .2-.5 0-.5-.2-.5 0-.5 .4-.5 0-.5-.4-.5-.1-3.5 .1-.5 .2-.5 .1-.5-.3-3-.1-11 0-.5 2.1-.5 .5-1.5-.3-3 .4-2-.2-1.5 .1-1.5-.3-1.5 .2-1.5-.2-6 .2-1.5-.3-3 .4-3 0-1.5-.3-1.5 .3-1.5-.2-7 .2-2-.3-1.5 .2-2.5 0-.5-.2-.5-2.2-13-.1-.5 .6-1-.1-1 .2-.5-.6-4-.1-.5 1.1-2 0-.5-1-1 0-11.5 0-.5 .4-.5-.1-.5-.3-19-.1-3 .1-.5 .3-.5 0-.5-.3-3-.1-8.5 .1-.5 2.4-.5 .4-2.5-.3-2 .3-3-.4-2.5 .3-2-.1-1.5 .2-5.5-.1-3-.3-3 .4-3.5-.4-3 .5-4-.3-2 .2-2.5-.2-2 .1-1.5-.3-1 .1-.5-2.5-2 0-.5 .4-.5 .1-.5 1-2 0-.5-1.5-5.5 0-.5 .4-.5 0-.5-.4-1.5 0-16-.1-.5 .5-.5 0-.5-.4-2.5 0-.5 .3-.5 0-.5-.3-13 0-4 0-.5 .5-.5 0-.5-.5-1 0-.5 .4-.5 0-.5 0-.5-.4-8-.1-5.5 .1-.5 .3-.5 2.5-1.5 .4-2-.3-1.5 .4-3-.3-1.5 .3-4.5-.1-1.5-.3-1.5 .2-1.5-.2-1.5 .4-1.5-.2-4.5 .1-1.5-.3-6 0-1.5 .2-1.5-.2-2.5 .3-5-.1-.5-.2-.5-2.4-.5-.5-9-.1-.5 .4-.5 .1-.5-.4-1 0-.5 .3-.5 0-.5-.3-2.5-.1-1 .1-1 .6-.5 0-.5-.6-1.5 0-.5 .3-.5 0-.5-.3-.5 .3-.5 0-.5-.3-3.5 0-1 .2-.5-.2-2.5 0-.5 .5-.5 0-.5-.5-2 0-.5 .2-1.5-.3-9.5 .1-1 1.1-.5 1.2-1 .4-2 1.4-1 .4-1.5 .1-.5 .2-1-.3-.5 .3-.5 .5-.5 0-.5-.3-1 0-1-.8-1 1-1-.2-2 .3-1 .7-.5-.2-.5-.3-1 .5-1 1-1-1.1-1-.6-1 .5-1-.6-.5 .3-1-.4-.5 .1-.5 .9-.5 .6-1 .8-1-1.5-1-1-1 .7-1-.1-.5 .1-1-.3-.5 .3-1-.4-.5 0-1 .7-1-.5-.5 .3-.5 .6-.5 .8-.5 .4-1-1.5-1.5-1.9-.5-.1-1.5-.9-1-.1-.5-.7-1.5 .2-1.5-.1-1.5 .3-1.5-.2-6 .2-1.5-.2-1.5 .1-3-.3-1.5 .3-1.5-.2-3 .2-.5-.1-.5-.4-.5-2.2-.5 .4-.5 0-.5-.4-.5 .2-1.5-.2-1-.1-.5 .4-.5 0-.5-.3-2.5-.1-.5 .4-.5 0-.5-.3-13 0-.5 .3-.5-.1-.5-.2-3 0-.5 .5-.5 0-1-.1-.5-.4-.5 0-4.5 0-.5 .5-.5 0-.5-.5-3.5-.1-.5 .4-.5 0-.5-.4-5.5 0zM355,505.3h2.1v18h-2.1zM527.6,508.3h2.1v12h-2.1zM932,506.8h2.1v15h-2.1z"/>
<path fill="#008000" d="M138,544.1l.5-.5 1-.1 3 .2 3-.2 3 0 1.5 .2 1.5-.2 1.5 .1 1.5-.1 1.5 .2 1.5-.3 6 .2 1.5-.1 6 .2 .5 .2 .5-8.3 1-.1 1.5 .3 2-.2 6.5 .3 8.5-.4 2.5 .3 2-.2 1.5 .3 1-.1 1.5 .1 3.5-.2 2 .1 1.5-.2 1.5 .2 2-.2 2.5 .4 6-.4 1 .3 1.5-.3 2 .2 1.5-.2 2.5 .2 2-.1 1.5 .3 3.5-.2 4.5 .4 2-.3 3 .4 3.5 0 1.5-.2 1 .4 1.5-.3 1 .2 1.5-.1 4.5 .4 2.5-.3 2.5 .4 1-.2 .5 .1 .5 7.6 .5-.3 1 0 .5 .1 .5 .3 .5 0 .5-.5 .5 0 .5 .4 11 .1 .5-.4 .5 0 .5 .4 7.5 0 1-.1 .5-.3 .5 0 .5 .3 1 .1 6.5-.1 .5-.3 .5 0 .5 .3 5 .1 2-.1 .5-.5 .5 0 .5 .5 .5-.4 .5 0 .5 .4 2 0 .5-.3 1 0 .5 0 .5 .3 1 .1 6-.1 .5-.5 .5 0 1 .1 .5 .4 10.5 0 .5-.4 1.5-.1 .5 .5 5.5 .1 9-.1 .5-.3 .5 0 .5 .4 6.5-.1 .5-.4 .5 0 .5 .4 1 .1 8-.1 .5-1.4 1.5 0 .5 .8 .5 .1 4.5-.1 1.5 .1 7-.1 2 .2 3-.2 1.5 .3 1.5-.3 4.5 0 1.5 .2 1.5-.2 1.5 .2 1.5-.1 7.5 .1 1.5-.3 1.5 .2 .5 .5 3.5 .1 11 0 2.5-.1 .5-.2 1.5 .3 20 0 1-.2 .5 .2 8-.1 2-.5 .5 .5 2 .1 4.5-.1 .5-.4 .5 0 .5 .4 .5-.4 .5 0 .5 .4 .5-.3 .5 0 .5 .3 10.5 .1 1 0 1-.6 3.5-.2 7 .1 1.5 .2 2-.3 4 .2 3-.2 1.5 .3 2-.3 4 .4 12-.3 1.5 .2 1.5-.1 1 .5 2 0 .5-.2 .5 0 .5 .2 7 0 .5-.3 1-.2 .5 0 .5 .5 1 0 .5-.5 .5 .1 .5 .5 .5-.1 .5-.6 .5 0 .5 .6 1 .1 2-.1 .5-.5 1.5 .2 .5 .3 3 0 1.5-.5 .5 0 1.5 .5 2 .1 3-.1 .5-.3 .5 0 .5 .3 9.5 0 .5-.4 .5 0 .5 .4 4 0 .5-.3 .5 0 .5 .3 1-.2 1 .3 10.5 0 7.5-.1 .5-.4 1.5-.2 3 .1 1.5-.1 1.5 .2 1.5-.3 3 .2 1.5-.1 1.5 .2 9-.2 3 .1 3-.2 3 .1 1.5 .3 3-.4 4.5 0 2 .2 .5 .5 1-.2 .5 .2 6 0 .5-.3 .5 0 .5 .4 6.5-.1 .5-.5 .5 0 .5 .5 .5 0 .5 0 .5-.4 .5-.1 .5 .2 .5-1.6 2 0 .5 2 1.5-.1 .5-.4 .5 0 .5 .4 3.5 0 .5-.3 .5 0 .5 .3 2 .1 16.5 0 .5-.4 .5 0 .5 .4 .5 0 2.5-.1 .5-.3 .5 0 .5 .3 .5-.5 .5 0 .5 .6 1-.1 .5-.5 .5 0 .5 .5 10 .1 1-.1 .5-.5 .5 0 .5-.4 2 0 .5 .5 .5 0 6.5-.3 4 .2 1.5-.2 2 .4 2.5-.2 1.5 .1 1.5-.3 3 .3 2.5 0 2.5-.3 2.5 .2 2-.2 5.5 .3 4.5-.2 2.5 .2 1-2.4 .5-.7 .5-.2 .5-.7 1-1.5 .5-1 .5-.5 .5 .7 .5 .1 .5-.6 .5-.4 1-.1 1 .4 .5 .7 .5 .9 .5 .3 .5-.4 1.5-.4 1 .4 .5-.2 1 .1 .5-.3 .5-.1 1 1.1 1.5-.3 1 .6 1-.2 .5 .6 .5 .2 2-.8 .5 .5 .5 .9 .5 .4 .5-.1 1-1.2 .5 0 1.5 .4 1.5-.3 1 .7 .5 0 1.5-.6 1.5 .3 1 .8 1-.5 .5 .1 1-.6 1 .8 .5-.3 1 .4 1-.8 1.5 .8 1.5 0 1.5-.4 .5 .3 1 .9 1.5 .4 .5-.1 .5 .2 .5 .7 .5 1.4 1 .1 1-.1 .5-.5 .5 0 .5 .5 10 0 .5-.5 .5 0 .5 .6 4 0 .5-1.3 5.5-.2 3 .4 1.5-.2 4.5 .2 1.5-.2 3 .1 3-.2 1.5 .3 3-.2 1.5 .2 3-.4 1.5 .3 1.5 0 1.5-.3 3 .4 1.5-.3 3.5 .2 1 1.1 6 .1 1.5-.1 .5-.4 .5 .1 .5 .4 .5-.5 .5 0 .5 .4 4.5 0 .5-.4 .5 0 .5 .4 .5-.3 .5 0 .5 .4 1.5-.1 .5-.3 .5 0 .5 .3 .5-.3 .5 .1 .5 .2 2.5 0 .5-.4 .5 .1 .5 .3 1.5 .1 .5-.5 .5 0 .5 .4 6.5 0 .5-.3 1-.2 .5 .5 1 .1 17.5 0 .5-.3 .5 0 .5 .3 6.5 0 1-.1 .5-1.2 .5-.6 1.5 .1 1.5-.2 1.5 .3 1.5 .1 1.5-.3 1.5 0 1.5 .3 1.5-.3 3-.1 1.5 .3 4.5-.2 3 .3 4.5-.4 1.5 .3 3-.3 7.5 .3 3-.1 1.5-.2 6 .3 1.5-.3 1.5 .4 1.5 0 1.5-.3 1 .2 .5 .6 0 5.4-.5 .6-.5 0-4.5-.1-3 .1-1.5-.3-1.5 .2-1.5-.1-1.5 .1-1.5-.1-3 .1-1.5-.2-1.5 .3-1.5 0-1.5-.3-3 0-2 .3-3-.3-2.5 .3-3-.2-2 .2-2.5-.2-1.5 .2-5-.3-2.5 .4-1.5-.3-2 .2-3-.3-.5-.5-.5-1-.5-.1-1 0-.5 .3-.5 0-.5-.3-1.5 0-.5 .3-.5 0-.5-.3-.5 .5-.5 0-.5-.5-1 0-2 0-1 .3-.5-.3-.5 .5-.5 0-.5-.5-14.5 0-2 .1-.5 .3-.5 0-.5-.3-1-.1-4 0-.5 .3-.5 0-.5-.2-4.5-.1-2.5 0-.5 .2-1.5-.2-.5 .3-.5 0-.5-.3-10 0-.5 .5-.5 0-.5-.5-4 0-1.5 .1-1 1.1-3-.1-1.5 .4-3-.4-3 .4-3-.4-1.5 .3-6-.3-4.5 .4-3-.2-1.5 .2-1.5-.4-3 .3-3-.3-3 .1-1.5 .2-1.5-.3-.5-1.1-19 0-.5 1-.5 0-1 .9-1-.1-.5 .2-.5 .7-.5 .3-1 .1-1 .5-1 .1-.5 .3-1-.6-.5 0-.5-.3-.5 0-.5 .7-.5 0-.5-.5-.5-.1-1 .6-1 .3-.5-.1-.5-.4-.5 .2-.5-.1-.5-.3-.5 .3-.5 .9-.5-.3-.5-.7-1-.3-.5 .2-.5 1-.5 0-.5-.5-1 .4-1-.3-.5 .3-.5-.2-1.5 .2-1 .6-1-.7-.5 0-.5 .1-1 .8-.5-.4-.5-.1-1 .7-1-.1-.5-.3-.5 .5-.5 .9-.5 0-.5-.4-1-.4-.5 .1-1 .6-1-.1-.5-.2-.5-.7-.5-.1-2 2.4-1 .3-1-1.4-.5-.3-1 .1-.5-.6-1-1.6-1.5-1.6-.5-.7-.5-1.2-4 .1-3-.3-9 .3-6-.3-1.5 .3-3-.2-4.5 .2-1.5-.2-3 .2-4.5-.1-1.5 .1-3.5-.3-.5 .6-2 0-.5-1-4 0-.5 .3-1.5 .1-.5-.3-14-.1-.5 .4-.5 0-.5 0-.5-.4-2.5 0-.5 .5-.5 .1-.5-.5-.5 .3-.5 0-.5-.4-6 0-.5 .5-.5 0-.5-.1-.5-.3-3.5-.1-.5 .3-.5 0-.5-.3-1 .1-.5 .2-.5 0-.5-.2-.5 .5-.5 0-.5-.6-3.5 0-.5 2-2 0-.5-1.9-2-.1-.5 .4-.5 0-.5-.4-2 .1-.5 .3-.5 0-.5-.4-1.5 0-.5 .3-.5 0-.5-.3-1 0-.5 .5-.5 0-.5-.4-4.5 0-.5 .3-.5 0-.5-.4-1 0-1 .6-1.5-.1-1.5 .2-3-.2-1.5 .2-3 0-1.5-.2-3 .2-3-.3-1.5 .3-4.5-.2-1.5 .2-3-.3-1.5 .2-1.5-.2-1.5 .3-3-.2-1.5 .2-1.5-.2-3 .2-1.5-.2-.5-.5-.5 0-1.5 .2-.5-.2-1 .2-.5-.2-10.5 0-.5 .4-3-.4-.5 .5-.5 0-.5-.5-2 0-.5 0-.5 .5-.5 0-.5-.5-2.5 0-6 0-.5 .3-.5 0-.5-.2-3 0-.5 .4-.5 0-.5-.5-8 .1-.5 .4-.5 0-.5-.5-7 0-.5 .3-.5 .1-.5-.3-3-.1-.5 .4-1.5 .1-.5-.5-5 .1-.5 .3-.5 0-.5-.4-1.5 0-3 0-1 .5-1.5 .2-1.5-.3-3 .2-4.5-.1-1.5 .2-1.5-.3-3 .4-4.5-.3-4 .2-2-.2-1.5 .2-1.5-.2-7.5-.1-1.5 .2-2.5-.1-2 .2-.5-.5-.5-.1-1-.1-2 .1-.5 .3-.5 0-.5-.3-2-.1-9.5 0-.5 .3-.5 0-.5-.2-1.5-.1-10.5 0-2 .1-.5 .4-.5 0-1-.4-.5 .2-1-.3-.5 .5-.5 0-.5-.5-27.5 0-2 0-.5 .4-.5 0-.5-.4-.5 0-1.5 .1-.5 .4-.5 0-.5-.5-.5 .4-.5 0-.5-.4-1.5 0-1 .7-5.5-.2-1.5 .1-1.5-.1-1.5 .3-3-.4-4.5 0-1.5 .3-3-.3-1.5 .3-4-.2-2 .2-3-.2-9 .1-.5 .9-1.5 0-.5-1.4-3-.1-.5 .5-.5 0-.5-.5-1.5 0-7.5 .1-.5 .4-.5 0-.5-.4-1.5-.1-3 0-.5 .4-.5 0-.5-.4-20 0-.5 .5-.5 0-.5-.5-2 .1-.5 .3-.5 0-.5-.3-1.5 .2-.5-.2-.5 .2-1 0-.5-.3-3.5 0-.5 .4-.5 0-.5-.4-2 0-1.5 .1-.5 .4-.5 .1-.5-.1-.5-.5-3 .1-.5 .3-.5 0-.5-.3-23.5-.1-.5 .5-.5 0-.5-.5-8 0-2 0-.5 .3-1 0-.5-.3-4 0-.5 7.6-1.5 0-1 .3-2.5-.2-1 .2-1.5 0-2 .2-1.5-.2-2 .2-2.5-.2-5 .5-4-.1-5.5 .2-2.5-.2-4.5 .5-2.5-.4-4 .1-1 .3-1 0-2.5-.4-4 .3-4.5-.2-2.5 .3-4.5-.4-2.5 .4-1.5-.3-1 .2-3.5-.2-1.5 .3-2.5-.3-4.5 .2-2.5-.2-1 .3-1.5-.2-1 .3-1.5-.4-2 .3-1.5-.3-1.5 .1-.5-8.2-2 .5-1.5-.2-3-.1-4.5 .2-3-.1-1.5 .1-9-.1-3 .2-1.5-.2-4 .2-.5-.4zM267.4,539.4h2.1v13h-2.1z"/>
<path fill="#000000" d="M138,575.9l.5 0 .5-.2 2 .3 1.5-.3 .5 .2 6 0 .5-.5 .5 0 .5 .5 1 0 .5-.4 .5 .1 .5 .4 20 0 .5-.4 .5 0 .5 .3 1.5 .1 2.5-.1 .5-.5 .5 0 .5 .6 4 0 .5-.5 .5 0 .5 .4 2 0 .5-.5 .5 0 .5 .5 .5-.2 2 .3 .5-.3 .5 0 .5 .3 2.5 0 1.5 0 .5-.6 .5 0 .5 .5 1 .1 .5-1.6 .5-.6 1-.1 6.5-.2 1.5 .3 1.5-.2 1.5 .2 1.5-.3 1.5 .3 3-.2 4.5 .2 3-.1 3-.3 4 .5 2-.4 1.5 .2 1.5-.2 2.5 .3 2.5-.2 .5 .7 .5 1.6 .5 .1 .5-8.6 2.5 .2 2.5-.4 2.5 .4 1-.3 1-.1 1.5 .3 3.5-.3 1 .2 3.5 .2 2.5-.3 2.5 .3 3.5-.3 2.5 .3 1.5-.2 2-.1 1.5 .2 1.5-.2 5.5 0 3.5 .3 1.5-.3 3.5 .3 1.5-.2 3.5 .2 1-.3 2.5 0 1 .2 5-.2 1.5 .2 2 0 1.5-.2 3 .2 1.5-.2 1 .3 1.5-.3 2 .3 .5-1.7 1 .2 1.5-.4 2 .2 2-.2 .5 8.3 .5-.6 2.5 0 1.5 .4 1.5-.4 4.5 .3 1.5-.2 1.5 .3 3 0 1.5-.3 4.5 .3 3-.1 1.5 .1 1.5-.3 9.5 .1 .5 .6 .5 1.7 3.5 .1 .5 0 .5-.4 .5 0 .5 .4 31 0 1-.1 .5-.5 .5 0 .5 .5 .5 0 1-1.5 1-1 1-1.7 .5 0 1-1 1 0 .5 .3 .5-.2 .5-.5 1-.3 .5 .1 1 .5 1-.8 1 .1 1-.4 .5 .2 .5 .5 1-.3 .5 .3 .5 .5 1 .4 .5 0 2-.9 1.5 1.1 1-.5 .5 .1 1-.2 .5 .1 1-.3 1 .8 .5 .2 .5-.1 .5-.4 1.5 .1 .5-.4 .5-.1 1.5 .3 .5 .4 1 1.6 .5 .5 .5 .1 3-.4 3 .3 5.5-.2 2 .2 1.5-.2 1.5 .3 1.5-.3 4.5 .1 1.5 .1 1.5-.2 3 .3 3-.4 3 .1 1.5 .3 4-.3 2 .3 1.5-.2 3 .2 .5 .7 .5 1.8 2.5-.1 .5-1 2 0 .5 1 1 .1 .5-.3 .5 0 .5 .3 10.5 0 .5-.3 .5 0 .5 .3 5 0 .5-.3 .5 0 .5 .2 .5-.5 .5 0 .5 .6 1.5 0 1.5-.1 .5-.5 .5 0 .5 .5 2 .1 7 0 .5-.4 .5 0 .5 .3 3.5 .1 .5-.3 .5 0 .5 .3 7.5 0 2-.1 .5-.5 .5 0 .5 .5 13.5 .1 .5-2.6 4.5 .1 1.5-.2 2 .3 2.5 .1 2-.2 4.5-.1 4.5 0 2.5 .3 2-.3 4 .2 1.5-.3 3 .3 1.5-.2 4.5 .3 3.5-.2 .5 .3 .5 1.9 .5 .3 9-.1 .5-.5 .5 .1 .5 .5 12 0 .5-.6 .5 0 .5 .6 12-.1 .5-.2 1 .3 4.5 0 3.5-.1 .5-.3 .5 0 .5 .4 1.5 0 .5-.5 1 0 .5 .5 .5-.4 .5 0 .5 .3 7.5 .1 .5-.5 .5 0 .5 .5 5 0 1-.1 .5-.3 .5 0 .5 .3 1 .1 .5-.6 .5 0 .5 .5 1 0 .5-1.8 .5-.4 2.5-.2 6-.1 1.5 .3 3 .1 1.5-.4 3 .3 1.5-.4 4.5 .4 3-.4 3 .4 3.5-.4 2.5 .1 1.5 .3 1.5-.3 1.5 .3 1.5-.2 3 0 .5 2.1 .5 .4 1.5-.1 .5-.3 .5 0 .5 .4 3-.1 1-.2 .5 .2 .5-.5 .5 0 .5 .5 3 .1 .5-.4 .5 0 .5 .4 2-.1 .5-1.5 1.5 0 .5 1.5 1 0 5 0 .5-.4 .5 0 .5 .5 1.5-.1 .5-.4 .5-.1 .5 .5 2.5 0 .5-.5 .5 .1 .5 .5 1 0 .5-.4 .5 0 .5 .3 4 0 .5-.5 .5 0 .5 .5 3.5 0 .5-.4 .5 0 .5 .4 .5 .1 .5 0 .5-.5 .5 0 .5 .4 3.5 0 .5-.3 .5 0 .5 .3 3.5 0 .5-.3 .5 0 .5 .3 2 .1 2.5 0 .5-.3 .5-.1 .5 .4 1.5-.1 .5-.4 .5 0 .5 .4 2 .1 .5-.4 .5 0 .5 .3 1 .1 .5-1.8 .5-.6 1 .1 1.5-.3 2.5 .4 2-.4 1.5 0 4 .2 2-.2 1.5 .3 1.5-.2 4.5 .1 3-.2 3 .3 1.5-.3 3 .1 1.5 .3 1.5-.3 1.5 0 1.5 .2 3-.3 1.5 .3 1 0 .5 2.2 1.5 0 .5-.5 1.5 .2 .5 .4 .5-.5 .5-.1 .5 .5 1.5-.3 .5 .3 1.5 .1 .5-.3 .5 0 .5 .3 1.5 0 .5-.5 .5 0 .5 .5 8.5 0 4-.1 .5-.2 .5 0 .5 .2 8.5 0 1 0 .5-.5 1 0 .5 0 .5 .5 1 .1 6 0 .5-.1 .5-.3 .5 0 .5 .3 .5 0 9.5 .1 1-.1 .5-.4 .5 0 .5 .4 1.5 .1 9.5 0 .5-1.9 .5-.3 4.5-.1 1.5 .2 3-.3 1.5 .2 1.5-.3 3 .2 1.5-.3 3 0 1.5 .4 3-.2 4.5 .1 1.5-.2 1.5 .2 1.5-.2 1.5 .3 .5-.3 1-1.6 1-.3 1.5-2.4 1-2.3 .5-.3 1 1.1 .5 .1 .5-.4 1 .6 1 1.8 .5 .6 1-.2 .5 .3 1 .9 .5 0 1 .5 .5 .1 .5-.5 .5-.9 1-.4 .5 0 .5 .6 .5 .2 1.5-.8 1 .7 .5 0 1 .6 .5-.2 .5-.5 1-.5 .5-.5 .5 .3 .5 .6 .5-.1 1-.7 .5 .1 .5 1 .5 .7 1-1 1 2 .5-.2 .5-.7 1-.1 1.5-1.1 2.5 .8 1-.4 .5 .2 .5 .6 1.5-.2 .5-.4 .5 .1 .5 .5 .5 .2 .5-.1 .5 .3 .5-.1 1 .6 .5 3.3 10.5 0 .5-.6 .5 0 .5 .5 2.5 .1 0 2.9-1.5 0-.5 .4-.5 0-.5-.4-9 0-1 .2-.5-.2-1-.1-.5 2.8-1 1.5-1 .3-1-.5-2 .9-1-.9-.5 .4-1 .3-1-.5-.5 .2-.5 .4-.5 0-2-.8-1 .7-1-1.2-1 1.6-1-1.2-1 2.1-.5-.1-1-.9-.5-.2-1 1.2-1-.6-1-.2-1 .6-.5 0-1-.5-.5 0-1-.5-.5 .2-.5 .7-.5 .3-2-1.6-.5 .1-1 .7-1-.5-.5 .1-.5 .6-.5 .2-.5 .2-1 1.3-.5 0-.5-.4-.5 .2-.5 .5-.5 .2-.5 .4-1.5 .6-.5-.5-.5-1.1-1-2.9-.5-.8-.5 .3-.5 .1-.5-1-.5-.4-2.5-.1-1.5 .2-1.5-.1-1.5 .3-1.5-.4-1.5-.1-1.5 0-1.5 .4-1.5 0-1.5-.4-6 .4-3-.4-1.5 0-1.5 .4-1.5-.4-3 .3-1.5-.1-1-.1-.5-.4-.5-1.4-.5 0-.5-.4-2.5 0-16.5-.1-1.5 .1-.5 .4-.5 0-.5-.4-3 0-1.5 0-.5 .5-.5 0-.5-.6-3 .1-.5 .3-.5 0-.5-.3-3-.1-1 .3-.5-.3-6 0-.5 .6-.5 .1-.5-.6-3-.1-6 .1-.5 .4-.5 0-.5-.4-11.5 0-.5 .2-.5 0-.5-.2-.5 0-.5 .5-.5 0-.5-.5-1 0-.5 2.1-.5 .2-1.5 .2-1.5-.4-1.5 .3-3 .1-1.5-.3-1.5 .3-1.5-.1-6 0-3 .2-4.5-.5-1.5 .3-6-.3-3 .4-1.5-.4-3.5 .4-2.5-.4-.5-.6-.5-1.5-1 0-1 0-.5 .6-.5 0-.5-.6-2.5 0-6 0-1 .2-.5-.2-.5 .4-.5 0-.5-.4-1 0-9.5 0-.5 .3-.5 0-.5-.3-1.5 0-.5 .5-.5 0-.5-.5-1 0-.5 .5-.5 0-.5-.5-11 0-1 0-.5 .6-.5 0-.5-.6-5.5 0-.5 .3-.5 0-.5-.3-.5 0-.5 1.5-1.5 0-.5-.9-.5-.6-5-.1-.5 .4-.5 0-.5-.4-6.5 .1-.5 .4-.5 0-.5-.5-1 .1-.5 2.3-1.5 .1-1.5 .1-1.5-.3-2 .4-3-.3-4 .2-3-.3-5 .3-2.5-.2-1.5 .3-3-.4-3 .4-1.5-.2-3 .2-1.5-.4-1.5 .4-1.5 .1-1.5-.3-1.5 .3-1-.1-.5-.5-.5-2.1-1 .2-2-.2-4.5 0-.5 .4-.5 0-.5-.4-.5-.1-8.5 .1-.5 .2-1-.3-6 .1-.5 .4-.5 0-.5-.5-5 0-.5 0-.5 .6-.5 0-.5 0-.5-.5-2.5 0-.5 .3-.5 0-.5-.3-10 0-.5 .4-.5 0-.5-.4-14.5-.1-.5 .5-.5 0-.5-.5-1 .3-.5-.2-4.5 0-.5 .3-.5 1.7-.5 .4-3.5 .2-1.5-.3-3 .3-4-.3-2 .3-3-.4-3 .4-6 0-3-.4-6 0-6 .4-3-.2-.5-2.4-1 0-.5 .4-.5 0-.5-.4-.5 .5-.5 0-.5-.5-1.5-.1-8.5 .1-.5 .5-1.5-.2-.5-.3-4.5 0-1 .2-1-.2-2.5 0-.5 .4-1 .1-.5 0-.5-.5-3-.1-1 .1-.5 .4-.5 0-.5-.4-7.5-.1-3 .1-.5 .2-1.5 .2-.5-.4-9.5 0-.5 .2-1.5-.2-1.5 0-.5 .3-1.5 .1-.5-.4-1.5-.1-1 .3-.5-.2-2 0-.5 1-2 0-.5-1-1.5-.1-1 .1-.5 1.8-.5 .8-2-.2-3 .4-1.5-.3-3 .4-3-.4-3 .3-1.5-.2-1.5 .1-1.5-.3-1.5 .1-1.5 .3-4.5 .1-1.5-.4-7.5 .3-1.5-.3-1.5 .3-2-.2-5.5 0-.5 .4-1 1.5-.5 .5-1.5 .4-.5-.3-.5-.5-1-.1-1-.4-1.5 .9-.5 .7-.5-.1-1.5-1.1-.5 .1-.5 .4-1-.6-.5 .6-.5 .8-.5-.1-.5-.6-1-.6-1 .7-2 0-1 1.1-1-.9-1-.2-1 .8-.5-.3-.5-.6-.5-.2-1 .2-.5 .4-1-.5-1 .4-2.5-.8-3-4.6-9.5-.1-.5 .4-1 0-.5-.3-7-.1-1.5 .1-.5 .5-.5 0-.5-.4-1.5-.2-8 .1-.5 .4-.5 0-.5-.4-.5-.1-.5 .4-.5 0-.5-.4-5 .1-.5 1.5-.5 .6-2 .1-1.5 .3-3-.3-1.5 .3-3-.2-6 .1-3-.3-1.5 .3-6 .1-3-.4-1.5 .4-1.5-.3-1.5 .3-1.5-.4-1 .2-.5-.5-.5 7.9-4 .2-1.5-.2-1 .4-.5-1.5-2-.2-1.5 .3-1-.3-3.5-.1-1.5 .4-2-.2-1.5 .2-1-.3-5 .3-1-.3-1-.1-1.5 .3-2.5 .1-1-.3-1.5 .2-1-.2-4.5 .3-1.5-.4-1 .3-1.5-.2-1 .2-1.5-.2-1 .3-1.5-.4-1 .1-1 .3-1.5-.3-1 .3-2.5-.3-2 .2-4-.1-1 .2-2.5-.4-1 .4-3-.3-2 .3-2.5-.2-1 .2-2.5-.4-1 .2-1.5-.1-3.5 .1-1-.1-1.5 .2-.5-8.6-.5 0-.5 1.6-.5 .7-1 .1-1.5-.2-2.5 .3-2-.3-1.5 .2-1.5-.2-1.5 .2-7.5-.2-1.5 .3-1.5-.2-4-.2-5 .4-4.5 0-1.5-.2-1.5 .2-1.5-.4-2.5 .4-.5-.7-.5-1.6-1-.3-5.5 .1-.5 .4-.5 0-.5-.4-1 0-15 0-.5 .4-.5 0-.5-.4-4.5 0-3 0-.5 .5-.5-.1-.5-.5-9 0-1 .1-.5 .3-.5 0-.5-.3-3.5 0-.5 .2-1-.2-6.5 0-.5 .3-.5 0-.5-.3-2.5 0zM503,569.4h2.1v16h-2.1zM677.4,572.4h2.1v10h-2.1zM829,565.4h2.1v28.2h-2.1zM876.4,560.7h2.1v36h-2.1z"/>
<path fill="#ff0000" d="M138,607.4l3.5 0 .5-.5 .5 0 .5 .5 16 0 .5-1.9 3-.7 1.5 .2 3 0 1.5 .2 6-.3 3 .3 1.5-.3 1.5 .3 1.5-.3 1.5 .3 1.5-.3 1.5 .1 3-.2 7.5 .1 1.5 .3 4 0 .5 .7 .5 1.2 4.5 .2 4.5-.3 3 .2 4.5-.1 1.5 .2 3-.2 4.5-.1 1.5 .3 4-.2 .5 .1 2-.2 1 .3 1.5-.3 1 .2 1-.3 .5 .3 2-.2 2.5 .3 .5-.3 1 .2 2 0 1.5-.3 .5 .3 1 .1 1.5-.2 2.5 .1 .5-1.2 1.5 0 .5 1.1 1 .2 4.5 0 .5-.5 .5 0 .5 .5 3 0 3-.3 2.5 .4 .5-2.1 .5-.3 2.5-.4 4 .5 4.5-.1 4.5-.3 7.5 .3 1.5-.3 1.5 .4 1.5-.4 1.5 .3 3-.3 4.5 .3 1.5-.3 1.5 .3 1.5-.4 2.5 .7 .5 1.5 .5 0 .5 .6 2.5 0 6.5-.1 .5-.4 .5 0 .5 .4 7 0 .5-.4 .5 0 .5 .5 3 0 .5-.3 .5 0 .5 .3 3.5 0 .5 0 .5-.4 .5 0 .5 .3 2 .1 7.5 0 .5-.4 .5 0 .5 .4 6.5 0 4-.1 1-.4 .5 0 .5 .5 2.5-.1 .5-.2 1 .3 1.5 0 11.5 0 .5-1.6 .5-.9 2-.2 4.5 .2 2-.2 1.5 .3 1.5-.3 1.5 .3 1.5-.3 1.5 .3 5.5-.4 5 .4 1.5-.2 1.5 .2 1.5-.4 1.5 .3 4.5-.1 1.5 .2 3-.3 2 .2 .5 .5 .5 2 8.5 0 .5-.5 .5 .1 .5 .4 .5-.4 .5 0 .5 .4 .5 0 .5-.5 .5 0 .5 .4 16.5 .1 1-.3 .5 .3 5 0 1-.1 .5-.4 .5 0 .5 .5 1 0 .5-.4 1.5-.1 .5 .5 2.5-.1 .5-.4 .5 0 .5 .5 .5-.3 1.5-.2 .5 .1 .5 .3 2.5 .1 .5-.3 1.5 0 .5 .3 2 0 .5-.5 .5 0 .5 .1 .5 .4 1 0 .5-.5 .5 0 .5 .5 .5-.5 1 .1 .5 .4 7.5 0 .5-1.8 .5-.6 1 .2 1.5-.3 1.5 0 3 .1 1.5 .3 1.5-.3 1.5 .1 1.5-.3 3 .2 1.5-.1 1.5 .2 3-.2 1.5 .2 1.5-.2 1.5 .3 2.5-.2 2 .3 3 0 1.5-.5 1.5 .3 1.5-.2 3 .4 1-.3 .5 0 .5 2 .5 .1 .5 .3 1.5-.1 .5-.5 .5 0 .5 .5 1 .1 10.5 0 3-.1 .5-.2 .5 0 .5 .3 6-.1 .5-.3 .5 0 .5 .3 4.5 .1 3.5 0 1-.3 .5 0 .5 .3 11.5 0 .5-.3 .5 0 1 0 .5 .3 3.5 0 1.5 0 .5-.6 .5 0 1 .3 .5 .3 1 0 .5-.5 .5 0 .5 .4 8.5 .1 .5-.1 .5-1.8 .5-.3 2-.2 5.5 .3 2-.3 1.5 .3 4-.4 2 .2 1.5-.1 1.5 .2 1.5-.3 4.5 .3 1.5-.3 2.5-.1 2 .3 3-.2 1.5 .2 1.5-.2 1.5 .2 1.5-.2 1.5 .3 .5 .5 .5-6.9 3.5-.4 5 .1 1-.3 1 .2 2.5 0 2.5-.1 1.5-.3 4.5 .2 4.5-.5 7.5-.1 1.5 .4 7-.1 2 .3 1.5-.2 1.5 .4 1-.1 2.5 .2 1-.3 1.5 .3 1-.2 5.5 .5 1.5-.2 1.5 .3 7 .2 4.5-.1 1.5 .4 3.5 0 2-.2 .5-2.8 3 .2 3.5-.3 .5 0 .5 9.2 .5-.4 2.5 .3 1.5-.3 1.5 .2 4.5-.3 1.5 .2 2-.2 3 .3 4 .1 4.5-.4 2 .3 2.5-.1 2 .2 2.5 0 1.5-.3 1 .1 .5 .6 .5 1.6 3.5-.1 .5-.5 1 .1 .5 .5 4.5 0 .5-.6 .5 .1 .5 .5 2 0 .5-.4 .5 0 .5 .4 2 0 2.5-.1 .5-.5 .5 0 .5 .5 1 0 .5-.4 .5 0 .5 .5 .5 0 1.5-.1 .5-.5 .5 0 .5 .5 4.5 .1 16.5 0 2.5-.1 .5-.3 .5 0 .5 .4 3 0 .5-.3 .5 0 .5 .3 1 0 2 0 1.5-.6 .5 0 .5 .5 2.5 .1 .5-.3 .5 0 .5 .3 .5-.1 .5-.3 .5 0 .5 .4 .5-.5 2 .4 1 .1 .5-.5 .5 0 .5-1.8 2.5 .2 5-.3 1.5 .3 6-.3 1.5 .1 1.5-.1 1.5 .3 6-.2 1.5 .2 8.5-.1 2 .2 3-.4 1.5 .3 1.5-.3 .5 .7 .5 1.7 1.5-.1 .5-.4 1.5 0 .5 .4 4 .1 .5-.4 .5 0 .5 .4 6.5 0 .5-.3 .5 0 .5 .3 2 0 .5-.1 .5-.4 .5 0 .5 .5 1 0 .5-.5 .5 0 .5 .4 1.5 .1 .5 0 .5-.4 .5 0 .5 .4 1 0 .5-.4 .5 0 .5 .3 9 .1 .5-.5 .5 0 .5 .5 13.5-.1 1-.3 .5 0 .5 .4 4 0 .5-.5 .5 0 .5 .5 1-.1 .5-.2 .5 0 .5 .3 1 0 .5-.4 .5-.1 .5 .5 1 0 .5-.4 .5 0 .5 .4 1.5 0 1 0 .5-.5 .5-1.1 .5-.8 3 .2 1.5-.2 1.5 .1 2.5-.2 2 .2 6-.1 6 .3 4.5-.3 1 .2 .5 .8 0 6.2-.5 .8-4 0-1.5-.3-1.5-.1-3 .4-6-.5-3 .3-3-.1-1.5 .2-1.5-.3-1.5 .3-1.5 .1-.5-.8-.5-1.6-12.5-.1-.5 .5-.5 0-.5-.4-1.5-.1-2.5 .1-.5 .3-.5 0-.5-.3-2-.1-1 0-.5 .3-.5 0-.5-.3-.5 .5-.5 0-.5-.5-2 .1-4.5-.1-1 .3-.5-.2-1.5-.1-3 .1-.5 .4-.5 0-.5-.5-7 .1-.5 .3-.5 0-.5-.3-3-.1-.5 .6-.5 0-.5-.5-3.5-.1-2 .1-.5 .2-1.5-.3-.5 .5-.5 0-.5-.5-4 .1-1 .2-.5-.2-4-.1-1 .1-.5 1.5-.5 .7-1 .1-2-.2-4-.1-2 .4-3-.3-4.5 .3-4-.4-3 .3-2-.3-2.5 0-7.5 .4-2-.4-2.5 .4-3-.3-.5-.2-.5-1.9-3.5-.1-2 .3-1-.2-10.5-.1-.5 .6-.5 0-.5-.5-1.5-.1-.5 0-.5 .5-.5 .1-1-.5-3.5-.1-.5 .4-.5 .1-.5-.4-13.5 0-1.5 0-.5 .6-.5 0-.5-.6-9-.1-.5 .5-.5 0-.5-.4-1 0-.5 .4-1.5-.1-.5-.3-2 0-.5 .4-1.5 .1-.5-.5-2.5-.1-2.5 .4-.5-.3-4.5-.1-.5 1.7-.5 .5-3.5 .2-1.5-.2-1.5 .1-1.5-.2-3 .3-4.5-.3-2 .3-3 .1-2.5-.3-2 .2-1-.3-2 .4-2.5-.3-6 .1-.5-.3-.5 8.6-2 .1-1 .3-1.5-.4-1 .2-1.5-.1-.5-2.8-2 .1-3.5 .5-1.5-.3-1 .3-1-.2-1.5 .2-1-.2-1.5 .2-1-.1-1 .2-1.5-.2-4.5 .2-1.5 .3-1-.2-2.5 .1-1.5 .2-4.5 0-2 .2-1.5-.2-1.5 .5-3.5-.3-5.5 .4-1.5-.1-3.5 .1-1.5 .3-3.5-.5-1 .2-1.5-.3-1 .3-1.5-.3-2 .2-2.5-.4-2.5 .3-2.5-.5-1 .3-6-.5-2.5 .3-1-.2-.5-6.9-.5 .6-1 .1-1.5-.4-1.5 .3-1.5-.3-4.5 .3-4.5-.1-3 .2-1.5-.4-10.5 .3-1.5-.3-1.5 .2-3-.3-1.5 .4-1.5-.3-1.5 .3-2.5 0-.5-.3-.5-1.6-.5-.5-4 0-.5 .3-.5 0-.5-.3-18.5 0-.5 .4-.5 0-1-.1-.5-.3-3.5 0-.5 .3-.5 0-.5-.3-1.5 .2-.5-.2-4.5-.1-3.5 .1-.5 .2-2-.3-2.5 .1-.5 .3-.5 0-.5-.3-1 0-.5 .5-.5 0-.5-.5-1 0-.5 .5-.5 .1-.5-.6-1.5-.1-2.5 .1-.5 .3-.5-.1-.5-.2-3.5 0-.5 .3-.5 0-.5-.4-4.5 0-2 .1-.5 2.1-.5 .3-1.5-.3-1.5 .3-1.5 .1-1.5-.4-1.5 .3-3-.1-1.5 .2-1.5-.1-1.5 .1-3-.4-3 .2-1.5-.1-1.5 .2-1.5-.1-3 0-1.5-.2-1.5 .4-1.5-.3-1.5 .2-1.5-.2-1.5 .2-4.5 0-.5-.1-.5-.8-.5-1.6-1.5 0-.5 .5-.5 0-.5-.4-6-.1-.5 .6-.5 0-.5-.6-1 .3-.5-.2-2.5 0-.5 .4-.5 0-.5-.5-4 .1-.5 .3-.5 .1-.5 0-.5-.4-4.5 .1-.5-.2-1.5 .1-.5 .4-.5 0-.5-.4-1.5 0-9-.1-1 .1-.5 .3-.5 0-.5-.4-3.5 0-.5 .4-.5 0-.5-.3-18-.1-1 .1-.5 .3-1.5-.3-1.5 0-.5 2-.5 .5-1 .1-2.5-.4-3 0-2 .4-1.5-.3-1.5 .3-1.5 .1-4.5-.4-4.5 .4-1.5-.4-3 .3-1.5-.1-3 .2-4.5-.3-2.5 .1-2-.2-3.5 .1-.5-.8-.5-1.7-12.5 0-1 .3-.5-.2-3-.1-.5 .5-.5 0-.5-.5-.5 0-1.5 .4-.5-.3-.5 .5-.5 0-.5-.5-1-.1-12 0-.5 .5-.5 .1-.5-.5-1.5 .3-.5-.3-4-.1-6 .1-.5 .5-.5 0-.5-.5-1-.1-9.5 .1-.5 .3-.5 .1-.5-.4-4.5 0-.5 0-.5 .4-.5 0-.5-.4-.5 .5-.5-.1-.5-.5-.5 2.1-.5 .4-4 0-3 .3-3-.4-3 0-1.5 .3-1.5-.2-3.5 .3-1 0-1.5-.4-3 .2-4.5-.1-3 .2-2-.3-7 .4-1.5-.1-.5-.5-.5-1.9-1-.2-1 .1-.5 .4-.5 0-.5-.3-3.5-.1-1.5 .2-1-.2-.5 .4-.5 0-.5-.4-2 .1-1.5-.1-1 .1-.5 1.2-1.5 0-.5-1.2-3.5-.2-3 .2-2-.1-1.5 .2-4-.3-2 .2-6 .1-1.5-.3-4.5 .1-1.5 .1-2.5-.2-.5 .4-.5 0-.5-.2-2-.1-1.5 .3-1.5-.4-3 .1-1.5 .3-.5-.2-3.5-.2-2 .3-1-.1-.5-.2-3 .3-.5 1.2-.5 .7-1.5 .1-3-.1-1.5 .2-3-.3-1.5 .3-1.5-.3-7.5 .2-1.5-.2-3 .1-1.5 .2-3-.3-1.5 0-1.5 .4-1.5-.3-1.5 .2-1.5-.2-1.5 .2-1.5-.2-3.5 .1-.5-.1-.5-2.2-16-.1-.5 .4-.5 0-.5-.4-.5 .5-.5 0-.5-.5-2 .1zM202.2,594.1h2.1v30.9h-2.1zM379.4,601h2.1v16h-2.1zM479.8,600h2.1v24h-2.1zM684,587.6h2.1v40.4h-2.1zM927.8,601.4h2.1v18.8h-2.1z"/>
<path fill="#0000ff" d="M138,637.2l.5-.7 3 .1 1.5-.4 1 0 2 .3 1.5-.3 1.5 .4 1.5-.4 1.5 0 .5 .1 .5 .9 .5 1.5 1.5 0 .5 .4 3 0 .5-.5 .5-.1 .5 .5 .5 0 .5-.4 .5 0 .5 .4 .5-.5 .5 0 .5 .6 13.5 0 .5-.5 .5 0 .5 .4 13.5 .1 .5 0 .5-.6 .5 0 .5 .5 .5-.5 .5 0 .5 .5 1.5-.1 1 .2 9 0 1.5-.3 .5 .2 3 0 .5-.4 .5-.1 .5 .5 11.5 .1 .5-2.1 .5-.2 2 .3 1.5-.4 1.5 .2 3-.1 1.5 .3 2-.3 4 .3 2-.4 2.5 0 1.5 .3 3 0 3-.3 6 .3 1.5-.2 4.5 .3 4.5-.3 .5 1.9 .5 0 .5 .4 10 0 .5-.4 .5 0 .5 .4 .5 0 1-.1 .5-.5 .5 0 .5 .5 8 .1 .5-.3 .5-.1 .5 .3 .5-.5 .5 0 .5 .5 1.5 .1 3-.1 .5-.4 .5 0 .5 .5 .5 0 .5-.4 .5 0 .5 .4 13 0 .5-.3 1.5-1.8 .5-.8 .5-1.3 .5-.9 1-1.5 .5-.5 1-.2 .5 .3 .5-.5 .5 0 .5 .7 .5 1 1.5-.3 .5-.3 1-.1 1 1.1 .5 .2 .5-.3 1-1.6 .5 .7 .5 .4 1-.3 .5 .7 .5 0 .5-.2 .5 .1 1-.5 1 .1 1-.1 1-.4 .5 0 .5 .5 2 .6 1-.1 .5 .2 1.5-.6 1 1.9 .5 0 1.5-2 .5-.5 .5 .1 .5 1.4 .5 .7 1-1.7 .5 .5 .5 .7 1 .7 .5 0 .5-.3 1 1.4 .5 0 .5 .3 .5-.2 .5-.5 .5 0 1 .8 1.5-.1 1 .5 1-.8 .5 .3 1 1.2 .5 .2 1-1.1 1.5-.3 .5 .2 .5 .7 .5 .1 1-1.2 .5-.2 1 .9 1 0 1.5 .6 .5 .1 1-1.1 .5-.3 1 1.2 .5-.3 .5-.7 1 .3 1-.2 1 .2 1-.9 1 .9 .5 .1 .5-.3 1 .6 .5-.3 .5 .3 1 2.1 17-.1 .5-.4 .5 0 .5 .5 2 0 1-.1 1-.4 .5 0 1 .5 3.5-.1 .5-.4 1 .1 .5 .3 .5 .1 .5-.5 .5 0 .5 .5 3-.1 .5-.4 .5 0 .5 .5 5.5 0 12 0 2-.1 1-.2 .5 .2 5.5 .1 5.5 0 .5-.4 .5 0 .5 .3 2 0 .5-.9 .5-.5 5.5 .1 1.5-.2 1.5 .1 1.5 .3 1.5-.2 3-.1 3 .2 3-.2 1.5 .3 1.5-.3 1.5 .3 6-.4 3 .4 1.5-.3 1.5 .3 3-.3 1.5 .2 1.5-.2 .5 .2 .5 1.3 .5-.3 .5 0 .5 .3 1.5 0 .5-.3 .5-.1 .5 .3 2 .1 .5-.5 .5 0 .5 .5 5.5-.1 .5-.4 .5 0 .5 .4 3 .1 .5-.4 .5 0 .5 .3 2 0 .5-.4 .5 0 .5 .5 1 0 2.5 0 .5-.4 .5 0 .5 .4 4.5 0 .5-.3 .5 0 .5 .2 1.5 0 .5-.5 .5 0 .5 .5 2 .1 2.5-.1 .5-.4 .5 0 .5 .4 2 .1 .5-.4 .5 0 .5 0 .5 .4 .5 0 .5-.4 .5 0 .5 .3 .5-.3 1.5 .4 4.5-.1 .5-.5 .5 .1 .5 .5 1.5 0 4-.1 .5-.5 .5 .1 .5 .4 7 .1 .5-1.1 .5-.2 11-.3 9.5 .4 4-.3 1.5 .1 1.5-.1 2 .3 4-.3 2 .3 3-.3 2.5 .2 1.5-.2 .5 .2 .5 1.3 .5 0 .5-.4 .5 0 .5 .4 .5 0 .5-.4 1.5 .4 1 0 .5-.4 .5 0 .5 .3 6.5 .1 .5-.3 1 0 .5-.2 .5 0 .5 .4 .5 0 .5-.3 .5 0 .5 .3 5 .1 .5-.3 .5 0 .5 .3 2.5-.1 .5-.5 .5 0 .5 .6 .5 0 .5-.5 .5 0 .5 .5 9 0 .5-.5 .5 0 .5 .5 7 0 .5-.5 .5 0 .5 .5 9.5 0 1-.5 .5 0 .5 .5 7.5 0 2 0 .5-.8 .5-.5 4.5-.3 1.5 .2 3-.2 3 .2 7.5-.1 4.5 .3 4.5-.4 6 .4 3-.3 5 .3 .5 .1 .5 1.1 1.5 0 10 0 .5-.3 .5 0 .5 .3 3.5 0 13.5 0 6-.1 .5-.2 2 .3 .5-.4 .5 0 .5 .4 1 0 .5-.4 .5 .1 .5 .3 8.5 0 2 0 .5-.4 .5-.1 .5 .4 2.5 .1 2-.1 .5-.4 .5 .1 .5 .4 8.5 0 2-.1 .5-.9 2-.3 2 .3 1.5-.3 8.5 .2 2-.3 2.5 .3 2-.2 3-.1 7.5 .2 5.5-.2 2 .4 4.5-.1 1 1 .5-9 1-.2 3.5 0 1.5-.4 4.5-.1 1.5-.4 2-.1 1.5 .3 2 0 2.5-.3 5 .2 1-.2 1.5 .2 3.5-.3 3.5 .2 1.5-.4 2 .2 1.5-.1 1 .2 5-.3 2.5 .2 3.5-.2 3.5 .1 1-.2 1.5 .1 1-.3 3.5 .2 1.5-.3 2 .1 1.5-.1 1.5 .2 2.5-.2 2 .2 3.5-.2 2.5 .4 2.5 0 1-.3 3.5 .4 3-.1 .5 9.1 1 .2 3-.2 2 .2 5.5-.3 4.5 .3 .5 .3 .5-.5 1.5-.3 .5-.6 .5-.3 .5 .1 .5-.1 .5-.4 .5 .2 .5 .5 .5-.2 .5-.4 .5-.1 .5 .3 1 0 2 .5 2-.5 1 .1 1-.1 1 .9 .5 .3 3 .9 .5 .7 .5-.2 1 .2 1 0 1-.3 .5 .3 1.5-.1 .5-.3 .5 0 .5-2.2 1.5 0 .5 2.5 1.5 .1 .5-2.6 1.5 0 .5 2.5 8 .1 .5 0 .5-.5 .5 0 .5 .4 1 .1 .5 0 .5-2.6 .5-.4 1.5-.2 3 .3 1.5-.3 1.5 0 1 .3 1 0 .5 .7 0 7.4-.5 .7-.5-.2-1.5 .3-1.5-.3-6 .3-.5-.5-.5-2.7-.5 0-5.5 0-.5 .4-.5 0-.5-.3-1.5 0-.5 .3-.5 0-.5-.3-1 0-.5 2.5-1.5 0-.5-2.5-1.5 0-.5 2.5-1.5 0-.5-2.6-4.5 0-.5 .6-.5 0-.5-.6-.5 0-2 1.3-2 .4-1.5 .8-1 .2-1 .5-2-.9-1.5 .7-1-.1-1 .2-1-.2-1 .3-.5-.2-1 0-2-1.5-1-.5-.5 .5-.5 .1-3-.4-1.5 .3-1.5-.3-1.5 .3-1.5-.2-1.5 .2-4.5-.2-.5 0-.5 9.2-3 .2-2-.1-2.5 .1-2 .3-1.5-.2-2.5 .3-4.5-.2-1.5 .2-2-.3-1.5 .1-1.5-.2-5-.1-2 .2-5-.2-5.5 0-1.5-.3-1.5 .2-2-.2-1.5 .2-3-.2-4 .1-2-.3-1.5 .2-3.5 .1-1.5-.3-2 .3-4-.4-4.5-.1-1.5 .3-1-.2-2.5 0-2.5-.5-4.5-.1-2.5-.2-.5-9.1-.5 .7-.5 .5-1-.1-3 .2-3-.4-1.5 .2-4-.1-2 .3-3-.3-1.5 .2-1.5-.2-1.5 .3-4-.4-2 .3-1.5-.2-1.5 .2-4 0-3.5-.3-4 .2-.5-.1-.5-1.1-1.5 .1-.5 .5-.5 0-.5-.5-1-.1-11 0-.5 .3-.5 0-.5-.3-8 0-.5 .5-.5 0-.5-.5-3.5 .1-9-.1-1 .1-.5 .5-.5 0-.5-.5-2.5-.1-.5 .5-.5 .1-.5-.5-8-.1-.5 .6-.5 0-.5-.5-.5 .6-.5-.1-.5-.5-1.5 0-1 .2-.5-.2-1 0-2 .2-.5-.3-8 0-.5 .3-.5 .9-.5 .3-2.5-.2-1.5 .2-4.5-.2-6 .2-1.5-.2-4.5 .3-1.5-.3-3 .1-1.5 .2-4.5-.3-3 .2-3-.3-5.5 .2-.5-.5-.5-.9-4.5 .1-.5 .5-.5 0-.5-.5-3-.1-.5 .4-.5 0-.5-.4-1 0-.5 .5-.5 0-.5-.4-3-.1-7.5 0-2 .1-.5 .2-1-.2-2.5-.1-1.5 .4-.5-.3-3 0-.5 .4-1 0-.5-.4-1 0-.5 .2-1.5-.3-4 .1-.5 .2-.5 0-.5-.3-.5 .5-.5 0-.5-.5-2.5 0-.5 .4-.5 0-.5-.3-4.5-.1-.5 .5-.5 0-.5-.5-6.5 .1-.5 .3-1.5-.4-4.5 0-1.5 .4-.5 .7-.5 .3-2 .2-1.5-.3-4.5 .2-1.5-.2-3 .2-1.5-.3-2 .2-5.5-.1-1.5 .2-4.5 0-3.5-.3-2.5 .3-1.5-.3-1.5 .3-3 .1-1.5-.3-1.5 .1-.5-.3-.5-1.1-.5 0-13.5 0-.5 .3-1 .1-.5-.3-9-.1-2.5 .1-.5 .5-.5 0-.5-.6-.5 0-.5 .3-1.5-.2-1.5 .3-1.5-.1-.5-.2-10-.1-.5 .5-.5 0-.5-.5-5 0-3 .1-.5 .5-.5 0-.5-.5-1.5 0-.5 .4-.5 0-.5-.4-.5 .5-.5 0-.5-.6-5.5 .1-.5 .5-.5 0-.5-.5-1-.1-2.5 0-.5 1.4-.5 .2-2-.3-4.5 .2-4-.3-3 .4-3-.1-1.5 .1-3-.3-6 0-2 .3-4-.3-1.5 .3-2-.2-4.5 .2-2-.3-1-1.3-.5 0-10 .1-.5 .4-.5 0-.5-.4-5.5 0-.5 .4-.5 0-.5-.5-8.5 0-1 .1-.5 .3-.5-.1-.5-.2-3 0-.5 .4-.5 0-.5 0-.5-.4-4.5-.1-2 0-.5 .5-.5 0-.5-.4-2.5-.1-.5 .5-.5 0-.5-.5-24.5 0-.5 .4-1 2-.5 .2-1-.3-1.5 .7-.5 0-1-1.1-.5 0-1.5 .4-1 .5-.5-.6-.5-.2-1 1.1-1-1.4-1 .5-3 0-.5 .6-.5 .1-1-1.1-1 .8-1-.2-1 .1-1-.6-2 1-1-.3-1 .5-1 0-2 .8-.5-.2-1.5-.1-1 .8-1-.5-.5 .4-.5 .6-1 .6-2 .1-.5 1.1-.5 .7-.5-1.3-.5-1-.5 .1-1.5 2.2-1-1.6-1-.7-1 1.2-1-.7-1.5 1.7-.5 .2-1-1.8-2 .9-1-1-.5 .4-1.5 .6-.5-.8-.5-.5-1 .8-.5-.5-.5-.1-1 .9-1 .3-.5 .7-.5 .3-1-2.8-2 2.8-.5-.3-.5-.6-.5 .7-1-.1-.5-.4-1-2.1-.5-.3-1-2.1-.5-.8-1-1.3-.5-.3-2.5 0-.5 .3-.5 0-.5-.4-8.5 0-.5 .3-.5 0-.5-.3-12 0-.5 .1-.5 .5-.5 0-.5-.6-.5 .3-1-.3-.5 .5-.5 0-.5-.5-4.5 .1-.5 .4-.5 0-.5-.5-6.5 0-.5 .6-.5 0-.5-.1-.5-.4-2-.1-.5 2.1-1 .1-1.5-.2-3 .4-1.5-.2-3 .2-1.5-.3-3 .3-1.5-.4-1.5 .4-1 0-2-.2-4.5 .1-1.5-.2-3 .3-1.5-.4-1.5 .2-4.5-.2-5.5 0-1.5 .3-.5-.1-.5-2.1-1 0-.5 .3-.5 0-.5-.4-14 .1-.5 .2-.5 0-.5-.2-4.5-.1-.5 .3-.5 0-.5-.2-11 0-.5 .3-.5 0-.5-.4-17.5 0-.5 .4-1.5 0-.5-.3-.5 .4-.5 0-.5-.4-5.5-.1-3 .1-.5 .5-.5 0-1-.5-1.5 0-.5 .5-.5-.1-.5-.5-.5 2.1-.5 .7-1-.2-1.5 .3-1.5-.2-2 .2-2.5-.2-5.5 0-.5-.7zM367.6,630h2.1v21h-2.1zM377.6,633.5h2.1v14h-2.1zM813.2,635h2.1v11h-2.1zM926.4,625.5h2.1v30h-2.1z"/>
<path fill="#008000" d="M138,670.5l13 .1 .5 0 .5-.5 .5 0 .5 .5 .5 0 12.5 0 2-.1 .5-.4 .5 0 .5 .5 .5 0 21 0 .5-.6 .5 0 .5 .6 .5-.4 1-.1 .5 0 .5 .5 1 0 .5-.5 .5 0 .5 .5 2.5-.1 .5-.2 .5 0 .5 .3 .5-.5 .5 0 .5 0 .5 .4 2 0 .5-.3 .5 0 .5 .3 13 .1 1.5-.1 .5-.3 .5 0 .5 .4 3-.1 .5-.4 .5 0 .5 .5 4 0 3-1.4 4-2.8 .5-.2 1.5 .1 2-1.3 1 .1 1.5 .5 1-.6 2 1.7 .5 .3 1 0 1 1.4 .5 .5 2 .5 1.5 1.1 1.5 .1 10-.1 .5-.3 .5 0 .5 .4 8 0 1 0 .5-.5 .5 0 .5 .5 9.5 0 3.5-.1 .5-.2 1 .2 2 0 .5-.4 2.5-.2 4.5 .1 4.5-.2 1.5 .3 7.5-.2 3 .2 1.5-.3 4.5 0 1.5 .3 1.5-.3 1.5 .3 1.5-.2 1.5 .2 3-.3 1.5 .3 3-.2 1 .6 .5-.4 .5 0 .5 .4 1 .1 5.5 0 .5-.4 .5 0 .5 .4 3.5-.1 1-.4 .5 0 .5 .4 1.5 .1 .5-.3 .5 0 .5 .3 3.5 0 2-.1 .5-.5 .5 0 .5 .5 3 .1 4.5-.1 .5-.2 .5 0 .5 .3 2.5 0 .5-.5 .5-.1 1 .1 .5 .4 .5 0 21.5 .1 1.5-.1 .5-.3 .5-.1 .5 .4 .5-.5 .5 0 .5 .6 1-.1 1-.4 .5 0 .5 .5 .5-.4 .5 0 1 .3 2.5 0 .5-.8 .5-.3 1-.2 1.5 .2 3-.2 2.5 .3 2-.3 4.5 .3 3-.2 2.5 .2 2-.3 2.5 .1 3-.1 2 .2 4.5-.1 2.5 .2 1.5-.3 2 .2 1.5-.2 1.5 .3 .5 .4 .5 .7 4 0 .5-2.5 1.5 0 .5 2.5 3 0 .5-.3 .5 0 .5 .3 2 0 .5-.3 .5-.1 .5 .3 2 0 1 0 .5-.3 .5 0 .5 .3 7 .1 .5-.6 .5 0 .5 .6 10 0 .5 0 .5-.5 .5 0 .5 .4 1 0 .5-.5 .5 0 .5 .6 5-.1 .5-.4 .5 0 .5 .4 2 .1 1.5-.1 .5-.4 .5 .1 .5 .3 17 .1 .5-.4 .5 0 1-.8 2.5 .2 2.5-.2 3.5 .3 3-.2 4.5 .2 4.5-.2 1.5 .2 1.5-.2 2.5 .2 2-.3 1.5 .3 2.5 .1 3.5-.3 1.5 .2 4 0 2-.3 1.5 .2 1 .9 1.5 .1 3 0 .5-.5 .5-.1 .5 .5 1.5 0 .5-.4 .5 .1 .5 .4 1 0 .5-.3 .5 0 .5 .2 5.5 .1 .5 0 1-.6 .5 0 .5 .5 4 0 .5-.4 .5 0 .5 .4 2 .1 6-.1 .5-.4 .5 .1 .5 .4 4.5-.1 .5-.3 .5 0 .5 .3 8 .1 2-.1 .5-.5 .5 0 .5 .5 .5 .1 6.5 0 .5-.5 .5-.1 .5 .5 6 .1 3.5-.1 1-1 3-.3 9.5 .3 2.5-.3 2 .3 6-.3 7 0 4.5 .2 2-.2 4 .3 1.5-.1 2 .1 .5 .4 .5 .7 4 0 .5-.5 .5 0 1 0 .5 .5 3 0 .5-.5 .5 0 1 .5 4-.1 .5-.4 .5 0 .5 .4 1.5 .1 .5-.3 1 .3 6.5 0 1.5-.1 .5-.5 .5 .1 .5 .5 .5-.4 .5 0 .5 .4 2-.1 .5-.3 .5 0 .5 .3 2 .1 1-.3 .5 .3 1.5 0 .5-.3 .5 0 .5 .3 8.5-.1 .5-.2 .5 0 .5 .3 7 0 3-.1 .5-2.4 1.5 0 .5 2.1 .5 0 .5 .4 6.5 0 .5-1.6 .5-.6 2 .2 4.5-.2 3 0 2 .4 4-.3 1.5 .2 3-.2 4.5 .1 1.5-.2 2 .3 4-.3 1.5 .3 3-.4 4.5 .2 2.5 .3 .5 1.6 .5 .2 2.5-.1 .5-.3 .5 0 .5 .4 2.5 0 .5-.5 .5 0 .5 .5 3 0 .5-.4 .5 0 .5 .4 13.5 0 1.5 0 .5-.3 .5 0 .5 .3 5.5-.1 .5-.5 .5 0 .5 .5 2.5 0 .5-.3 .5-2.1 1.5 0 .5 2.4 1 0 .5-.3 .5 0 .5 .4 14.5-.1 .5-.5 .5 0 .5 .6 .5-.4 .5 0 .5 .4 .5 0 .5-.5 .5 0 .5 .5 1 0 .5-.5 .5 0 .5 .4 2 .1 2-.1 .5-1.7 .5-.1 2.5 .1 1.5-.2 1.5 .2 1.5-.3 1.5 .1 9-.2 6 .4 6-.5 1.5 .2 3 .1 1.5-.1 3 .2 4.5-.3 1.5 .2 .5-6.3 3.5-.3 1-.3 4.5 0 1.5-.3 3.5-.2 1 .1 1.5-.4 1 .2 2.5-.4 1.5 .2 1-.4 2.5 .1 8-.6 4 .1 1-.3 1.5 .1 1-.2 2.5 0 1 .2 1.5-.1 2.5 .3 2-.2 1.5 .1 1-.2 2 .2 1.5-.1 1.5 .3 2-.3 1.5 .3 1-.3 2.5 .4 4-.2 4 .1 1.5-.2 2.5 .3 3.5 .1 .5-.1 .5-.9 .5-.1 2.5-.3 2 .4 1-.1 0 25.1-1 .4-2.5-.2-1.5 .3-1-.1-.5-1.1-1 0-3.5 0-1.5 .3-1-.1-3.5 .3-2.5-.4-1.5 .4-2 0-1.5-.3-1.5 .4-1-.1-1-.3-1 .3-1.5-.1-2 .2-1.5-.3-1.5 .3-2-.2-1.5 .2-2-.3-2.5 .4-2.5-.3-1.5 .4-2-.4-5-.2-2 .1-1.5-.4-3.5 .1-1.5-.4-3.5 .1-2-.4-3 .1-2-.4-2.5 .1-2.5-.4-1 .1-1.5-.3-3.5 0-1-.3-1.5 .1-.5-6.4-1 .2-2.5-.1-5-.4-6 .3-1.5-.2-4 0-2 .3-7.5-.3-1.5 .3-3-.3-4.5 .1-1.5-.1-1.5 .2-3-.2-.5-.2-.5-1.6-2-.1-10.5 0-.5 .5-.5 0-.5-.4-3 0-.5 .5-2.5 0-1-.6-3.5 .1-1 .2-.5-.2-2.5-.1-.5 2.6-1.5 0-.5-2.5-.5 0-.5 .5-.5 0-.5-.5-6.5-.1-10.5 0-.5 .5-.5 0-.5-.4-1 0-.5 .3-1 .2-.5-.1-.5-.5-2 .1-.5 .4-.5-.1-.5-.4-.5 0-11 .1-.5 .1-.5 1.5-3 .6-1.5-.2-1.5 .1-3-.3-2.5 .2-3-.3-2 .4-1.5-.2-1.5 .1-3-.3-2.5 .3-3.5-.2-3 .3-1.5-.3-1.5 .3-1.5-.3-1.5 .3-1.5-.1-1.5 .2-3-.4-.5-.6-.5-1.2-6.5-.1-.5 .5-.5 0-.5 2.1-1.5 0-.5-2.5-6.5 0-.5 .5-.5 0-.5-.5-2.5-.1-6 0-.5 .6-.5 0-.5-.6-1 0-3 .1-.5 .4-.5 0-.5-.5-5.5 0-.5 .4-1.5-.4-4 0-1 .2-.5-.2-11.5 0-.5 .5-.5 0-.5-.5-3 0-.5 .4-1.5 .2-.5-.5-2.5 0-.5 .2-1-.3-1 0-1 .1-.5 .7-.5 .5-4-.2-6 .3-2-.2-4.5 .2-5.5-.3-3.5 .2-1.5-.2-3 .3-4-.2-2 .2-2.5-.2-3.5 .2-2-.2-1-1.2-3 0-.5 .5-.5 0-.5-.5-1 0-40 0-3 .1-.5 .2-.5 0-.5-.3-3 0-.5 .3-1 .1-.5-.3-.5 0-.5 .2-1.5-.3-2.5 .1-.5 .5-.5 0-.5-.6-2 0-.5 .3-.5 0-.5-.3-2 0-2.5 .1-.5 .4-.5 0-.5 .4-3.5 .3-6-.3-1.5 .4-1.5-.3-6 .2-1.5-.3-4.5-.1-1.5 .5-3-.2-3 .1-1.5-.3-3 .3-1.5-.3-3 .2-1.5-.2-1.5 .3-.5-.1-.5-.4-.5-.7-1 .3-1-.2-2.5-.1-.5 .4-.5 0-.5-.4-5 0-.5 .5-.5 0-.5-.5-6.5 .1-.5 .5-.5-.1-.5-.5-1 0-.5 .5-.5 0-.5-.5-10 0-.5 .3-.5 .1-.5-.3-10-.1-3.5 .1-.5 .3-.5-.1-.5-.3-14 0-.5 .4-1 .1-.5 2.1-1.5 0-.5-2.2-.5-.4-.5 0-3 0-.5 .8-.5 .6-4.5 0-4.5-.2-4.5 .2-3-.3-2 .3-3-.3-3 .2-2.5-.2-1.5 .3-6 0-1.5-.2-1.5 .2-2-.3-2.5 .2-1-.1-.5-.3-.5-.8-1-.1-.5 .5-.5 0-.5-.5-1 0-20 0-1 .3-.5-.2-5-.1-2 .1-.5 .4-.5 0-.5-.5-7.5 0-.5 .5-.5 0-.5-.5-6.5 0-.5 .4-1.5-.1-.5-.3-6 0-.5 .3-.5 0-.5-.2-1.5 0-.5 .3-.5 0-.5-.3-.5 .5-.5 0-.5-.5-2.5 0-.5 .5-.5 0-.5-.6-1 0-.5 .4-.5 0-.5-.4-.5 0-2.5 .1-1 .7-2.5-.3-3 .2-1.5-.1-1.5 .1-1.5-.2-1.5 .1-1.5-.1-1.5 .2-2.5-.1-5 .1-1.5-.2-4 .2-5-.1-3 .2-3-.3-3 .3-2-.3-.5-.5-.5 .3-1.5-.3-2.5 .1-.5 .4-.5 0-.5-.5-2.5 .1-.5 .5-.5 0-.5-.5-.5 .3-.5 0-.5-.4-12.5 0-.5 .3-.5 0-.5-.3-.5 .5-.5 0-1-.4-.5 .3-.5 0-.5-.3-1.5-.1-1.5 0-.5 .3-2 0-.5-.3-3 0-.5 .4-.5 0-.5-.4-1 .1-1.5 .9-2 .7-1 1.2-2 .5-2.5 2.1-1-.5-.5 0-1 .4-1.5-.2-1 .3-.5-.4-1-.1-1-.8-1-.4-1-.9-1-.1-.5-.3-2-1.3-1-1.2-7 .1-.5 .3-.5 0-.5-.3-4 0-.5 .4-.5 0-1-.1-.5-.4-4 .1-.5 .5-.5 0-.5-.5-3.5-.1-4.5 .1-.5 .4-.5 0-.5-.5-5 .1-.5 .4-.5 0-.5-.5-.5 .1-.5 .5-.5 0-.5-.5-.5 .2-.5 .1-.5-.3-2 0-.5 .4-.5 0-.5-.4-2-.1-2.5 .1-.5 .2-3-.2-.5 .4-.5 0-.5-.4-6.5 0-.5 .3-.5 0-.5-.4-1 .1-.5 .2-1-.2-6.5-.1-.5 .4-.5 .1-.5-.5-6.5 0-.5 .4-.5 0-.5-.3-7.5-.1-1 .3-.5-.2-1.5 0-.5 .2-.5 0-.5-.2-2.5-.1zM280.6,662.1h2.1v20h-2.1zM405,661.2h2.1v23.6h-2.1zM458.6,666.1h2.1v13.7h-2.1zM930.6,661.1h2.1v28.2h-2.1z"/>
<path fill="#000000" d="M138,700.8l.5-.7 1.5-.2 1.5 .4 4.5-.4 7.5 .4 3-.4 6 .3 1.5-.1 1.5 .1 1.5-.2 3 .2 3 0 2.5-.3 .5 .3 .5 1.9 1 .1 5.5-.1 .5-1.5 1.5 0 .5 1.5 1.5 0 .5-.4 1.5-.1 .5 .4 1 0 .5-.3 .5 .1 .5 .3 2 .1 3 0 .5-.3 .5-.1 .5 .2 8 .1 .5-.4 .5 0 .5 .4 1 0 .5-.4 .5 0 .5 .4 6 0 1.5-.1 .5-.2 2.5 .4 .5-.3 .5-.1 .5 .3 7.5 0 .5-.5 .5-.1 .5 .5 3 .2 10-.1 .5-.5 1 .2 .5 .3 1.5 0 .5-.4 .5-.1 .5-1.1 .5-.7 2-.2 2 .2 2.5-.2 2 .3 1.5-.1 1.5 .1 1.5-.3 3 .3 1.5-.3 1 0 2 .3 3-.3 1.5 .2 1.5 .1 6-.3 11 .4 .5 2.1 2.5 0 .5-.3 .5 0 .5 .3 2.5-.1 .5-.3 .5 0 .5 .4 1.5 0 1-.2 1 .1 .5-.3 .5 0 .5 .4 .5-.1 .5-.5 1.5 .2 .5 .4 4 0 .5-.5 .5 0 .5 .5 13.5 0 .5-.5 .5 0 .5 .5 1.5 0 1-.1 .5-.5 .5 0 .5 .6 .5 0 5 0 .5-.6 .5 0 .5 .6 .5-.2 2 .2 .5-.4 1 .2 .5-.3 .5 .1 .5 .5 11-.1 .5-.5 .5 0 .5 .5 5 0 .5-1.9 .5-.3 2-.3 3 .3 4-.3 2 .3 1.5-.3 1.5 .3 1 0 2-.3 6 .3 1.5-.3 1.5 .3 1.5-.2 4.5 .2 4-.3 2 .3 6-.3 .5 .1 .5 .8 .5 1.3 1 0 .5 .3 .5 0 .5-.5 .5 .1 .5 .5 1-.1 .5-.6 .5 0 .5 .5 2 .1 .5-.3 1-.1 .5 0 .5 .4 5.5 0 .5-.4 .5 0 .5 .5 4.5-.1 .5-.3 1 0 1 0 .5 .3 2 0 .5-.4 .5 0 .5 .4 1.5 0 .5-1.5 2 0 .5 1.2 .5 .1 .5 .2 .5-.5 .5 .1 .5 .4 .5-.4 .5-.1 .5 .5 1 .1 9.5-.1 .5-.3 1 .3 8 0 .5-.4 .5 0 .5 .4 .5 0 1 0 .5-.6 1 .2 .5 .4 10.5 0 .5-.4 .5-1.7 .5-.4 1.5-.2 6 0 5 .4 6-.4 3 .2 2.5-.1 2 .3 3-.3 2.5 .2 3.5-.3 3 .1 1.5 .2 1.5-.1 1.5 .2 1-.2 .5 .7 .5 1.8 13 0 .5-.3 .5 .1 .5 .2 13 0 2.5-.1 .5-.2 .5 0 .5 .3 6.5 .1 .5-.5 .5-.1 .5 .5 1.5 0 19.5 0 2-.1 .5-.4 .5 0 .5 .5 .5 0 .5-.3 .5 0 .5 .3 6.5 0 .5-2.1 .5-.1 3 .1 3-.4 1.5 .2 3-.2 4.5 .1 1.5 .3 1.5 0 1.5-.4 3 .4 1.5-.3 1.5 .3 1.5-.3 1.5 .1 3-.2 3 .3 1.5-.2 3 .3 4-.3 .5 .7 .5 1.6 1.5 .1 16.5 0 1.5 0 .5-.5 .5 0 .5 .5 3 0 .5-.3 .5 0 .5 .3 1 0 .5-.5 1 0 .5 0 1 .6 9.5 0 1-.1 .5-.5 .5 0 .5 .5 .5 0 1 0 .5-.3 1.5-.1 .5 .4 1 .1 9.5-.1 .5-.3 .5 0 .5 .3 2.5 0 1.5 0 .5-.5 .5 0 1 0 .5 .4 5 .1 3.5 0 .5-2.5 2.5 .1 2 .3 1.5-.2 1.5 .2 3-.2 2.5 .2 2-.4 7 .2 2-.1 1.5 .1 1.5-.1 1.5 .3 1.5-.1 2.5 .1 2-.3 3-.1 4.5 .2 1.5-.2 .5 .7 .5 1.4 .5-.1 .5 .5 3-.1 .5-.1 1 .2 6 0 1 0 .5-.3 1.5 .3 8 0 .5-.5 .5 0 1 .1 .5 .4 1.5 0 17.5 0 .5-.4 .5 0 .5 .4 5 0 .5-.5 .5 0 .5 .5 2.5 0 .5-.3 .5 0 .5 .3 6.5 0 .5 0 .5-.4 .5-.1 .5 .5 4.5 0 .5-.5 .5 0 .5 .5 1 0 .5-1.6 .5-.6 2-.3 2 .3 11.5-.2 3 .1 1.5 .2 1.5-.4 1.5 .4 1.5 0 1.5-.3 2 .1 6-.2 4 .3 1.5-.2 2 .2 1.5-.2 .5 .2 .5 2.2 1.5 0 .5-.5 .5 0 .5 .5 .5-.2 .5 0 .5 .2 1.5 0 .5-.3 .5 0 .5 .2 2 0 .5-.4 .5 0 .5 .5 .5 0 .5-.5 .5 .1 .5 .4 2.5 .1 .5-.3 .5 0 .5 .2 3 0 1 0 .5-.5 .5 0 .5 .5 7.5 .1 1.5-.1 .5-.3 1.5 .3 .5-.5 .5 0 .5 .5 5 0 1-.3 .5 .2 2 .2 2.5-.3 .5 .2 2 0 .5-3.1 1-.4 .5-.5 1-.4 1-1.1 .5-.1 .5-.5 .5-.2 .5 .3 .5-.5 .5-.3 .5 .6 .5 .9 .5 .3 .5 .1 1-.8 1-.2 1 1.2 .5-.2 .5-.5 .5 0 .5 .6 1-.1 .5 .6 .5-.2 .5-.7 .5 .1 1 .7 .5 0 .5-.4 .5 .1 .5 .6 .5-.2 .5-.8 .5-.4 1.5 .9 .5 0 .5-.3 1-.1 .5-.3 1 .1 1-.8 1 0 1 .5 1 0 1.5 1.5 1 .4 .5 .3 .5 .6 .5 .3 2.5-.1 4.5 .4 1.5-.4 6 .3 4.5-.3 3 .3 1.5-.3 6 0 1.5 .3 1.5-.3 .5 .1 .5 2.2 1 .2 .5-.2 1 .2 12 0 0 3-5-.1-.5 .5-.5 0-.5-.4-.5 0-.5 .4-.5 0-.5-.4-4.5 0-.5 .4-.5 0-.5-.4-.5 2.2-1 .2-3.5-.2-5.5 .2-1.5-.3-2 .3-4-.3-2 .4-8.5-.4-2 .3-2-.2-.5 .2-.5 .6-2 1.1-.5 .6-.5 .9-.5 .2-1-.6-.5 .4-1 0-.5 .3-1-.3-.5 .5-.5-.1-1-.9-.5-.2-1 .1-1.5-.5-.5 .4-.5 .2-.5-.5-.5-.3-.5 .8-.5 .2-.5-.9-.5-.5-1 .8-1.5-.1-1.5 .1-.5 .7-.5 .4-1-.8-1 .6-1 0-1-.4-1 .3-.5 .9-.5 .7-.5 0-.5-.4-1-.5-2-1.6-.5 .1-.5-.4-.5-1.2-.5-.6-.5 0-.5-2.5-1.5 0-.5 .4-.5 0-.5-.4-1.5 0-.5 .5-.5 0-.5-.5-4.5-.1-2 .1-.5 .4-.5 .1-.5-.5-1 0-2 .1-.5 .2-1-.3-5.5 0-.5 .4-.5 0-.5-.4-1.5 0-12 0-.5 .3-.5 0-.5-.3-2.5 0-.5 .3-1.5-.3-1 .1-1-.2-1.5 .1-.5 2.2-.5 .3-7.5-.4-1.5 .3-1.5-.3-3 .4-1.5-.4-1.5 .2-2.5-.2-3 .3-5-.3-4.5 .3-1.5-.3-1.5 .2-1.5-.2-1.5 .4-1 0-2-.4-2.5 .1-.5-.5-.5-1.7-8 0-.5 .5-.5 0-1 0-.5-.5-4.5-.1-7 .1-.5 .3-.5 .1-.5-.4-8 0-.5 .3-.5 0-.5-.4-7.5 .1-1.5 .2-1-.2-.5 .5-.5 .1-.5-.6-3 0-.5 .5-.5 0-.5-.6-15 .1-.5 .2-3.5 .4-.5-.6-1.5 0-.5 .5-.5 0-.5-.3-.5 1.5-.5 .7-1-.2-4.5 .1-2-.2-4 .3-1.5-.3-2 .4-3-.4-2.5 .4-2-.4-2.5 .2-3-.2-2 .4-3-.3-2.5 .1-1.5-.2-1.5 .2-1.5-.1-1.5 .1-2-.1-.5-2.2-1.5 0-.5 .3-.5-.1-.5-.3-.5 .6-.5 0-.5-.6-14 0-1.5 .4-.5-.3-3 0-.5 .4-.5 0-.5-.5-10 0-2 .1-.5 .5-.5 0-.5-.5-5-.1-9 .1-.5 .3-.5-.1-.5-.2-12 0-.5 .2-1-.2-5 0-.5 1.8-.5 .7-2.5-.4-3 .3-6-.4-4.5 .4-6-.3-1.5 .4-1.5-.3-1.5 .2-1.5-.2-4.5-.1-1.5 .4-3 0-4.5-.4-1.5 .4-.5-.3-.5-2.2-7 0-.5 .3-1 .1-.5 0-.5-.4-.5 0-.5 .6-.5 0-.5-.6-3-.1-4.5 .1-.5 .2-.5 .1-.5-.3-7.5 0-22 0-.5 .5-.5 0-.5-.5-.5-.1-9.5 0-.5 .4-.5 0-.5-.3-2.5 0-1 0-.5 .3-.5 0-.5-.3-.5 .4-.5 0-.5-.4-3 0-.5 1.9-.5 .8-2.5-.4-1.5 .4-4 0-5-.4-4 0-2 .2-1.5-.2-4 .3-2-.3-1.5 .1-2.5-.1-3 .4-5-.1-1.5-.3-3.5 .1-.5-.3-.5-1.6-.5 0-.5-.5-.5 0-7.5 0-.5 .5-.5 0-.5-.5-6.5 0-1 0-.5 .5-.5 0-.5-.4-18-.1-.5 .5-.5 0-.5-.3-1-.2-.5 1.5-2 0-.5-1.5-.5-.1-3.5 .1-.5 .5-.5 .1-.5-.6-2.5 0-4.5 0-.5 .3-.5 0-.5-.3-2 0-10.5 0-.5 .3-.5 0-.5-.3-2-.1-.5 1.6-.5 .7-2 .3-6-.4-4.5 .3-3-.1-1.5 .2-4.5-.4-2 .4-1 0-1.5-.3-3 .3-1.5-.3-1.5 .3-3-.3-1.5 .2-1.5-.3-2 .3-2.5-.1-2 .2-.5-.4-.5-2.1-3 0-.5 .3-.5 0-.5-.3-14.5-.1-3 .2-.5 .2-1-.3-.5 0-.5 .4-.5 0-.5-.4-.5 0-2.5 0-.5 .3-.5 0-.5-.3-7 0-.5 .5-.5-.1-.5-.5-3.5 .1-.5 .4-.5 .1-.5-.5-2 0-14 0-.5 .3-.5 0-.5-.3-7 0-.5 .2-.5 .1-.5-.3-.5 .4-.5 0-.5 1.6-.5 .2-7.5 .2-1.5-.2-2 .1-1.5-.1-4 .2-3.5-.2-1.5 .2-3-.3-5.5 .4-3-.4-2 .3-1.5-.2-1.5 .1-5-.1-.5-.6-.5-1.6-4 0-1 0-.5 .3-2 .1-.5-.4-1.5-.1-2 .1-.5 .3-.5 0-.5-.3-.5 .3-.5 0-.5-.3-1.5 0-.5 .3-.5 0-.5-.3-1 0-12.5 0-.5 .4-.5 0-.5-.4-1.5 0-7 0-.5 .4-.5 0-.5-.4-11-.1-1.5 .1-.5 .4-.5 0-.5-.3-1-.1-.5 .5-.5 0-.5-.5-1 0-.5 .5-.5 0-.5-.5-1-.1-1 .1-.5 1.5-1.5 0-.5-1.5-.5 0-.5 .3-.5 0-.5-.3-4.5 0-.5 1.7-.5 .3-1.5 .2-3-.1-1.5-.3-1.5 .4-6-.4-4.5 .4-1.5-.3-1.5-.1-1.5 .2-1.5-.2-3 .4-4.5-.4-3 .2-2.5-.1-.5-.6zM345,695.6h2.1v16h-2.1zM373,689.3h2.1v31.3h-2.1zM386,698.6h2.1v10h-2.1zM615,688.1h2.1v31h-2.1zM981.4,697.6h2.1v12h-2.1zM1007,697.1h2.1v16.9h-2.1zM1008.6,698.6h2.1v13h-2.1z"/>
<path fill="#ff0000" d="M138,733.7l12 .1 2-.1 .5-.2 .5 0 .5 .3 3.5-.1 1-.4 .5 .1 .5 .4 1.5 0 .5-.5 .5 0 .5 .5 7.5 0 1 0 .5-.5 .5 0 .5 .5 3 0 .5-.3 .5 0 .5 .3 3.5 0 1 0 .5-.4 .5 0 .5 .3 4 .1 .5-.5 .5 0 .5 .5 6-.1 .5-1.4 .5-.5 2 .3 3-.2 15 0 1.5 .2 2-.2 5.5 .3 4.5-.3 1.5 .2 7.5-.3 .5 .2 .5 1.8 2.5 0 .5-.4 .5 0 .5 .3 1.5 .1 .5-.5 .5 0 .5 .6 1.5-.3 .5 .2 10 0 .5-.5 .5 0 .5 .5 .5-.3 1 .3 1.5 0 1 0 .5-.3 .5 0 .5 .3 2 0 1-.2 .5 .2 1-.2 2 .2 6 0 1-.3 .5 .3 2.5 0 .5-.3 .5 0 .5 .3 13 0 .5 0 .5-.5 .5-.1 .5 .1 .5 .3 1.5-.2 .5 .3 1 .1 8.5 0 .5-1 .5-.5 5 .2 3-.4 3 .3 3.5-.1 1.5 .2 1.5-.2 3 .1 1.5-.2 1.5 .3 1.5-.2 7.5 .2 1.5-.3 2.5 .3 4.5-.1 2.5-.2 .5-8.3 2.5 .4 1.5-.4 3.5 0 2 .2 1.5-.1 1 .2 1.5-.4 2 .3 1.5-.3 1 .2 2.5-.3 2.5 .3 1-.1 2.5 .1 1-.2 5-.1 4.5 0 1.5 .3 1-.4 1.5 .3 6 .1 3.5-.3 2 .4 1.5-.3 1.5 .3 2-.2 1.5 .3 3.5-.1 1 .1 1.5-.2 1 .2 2.5 0 1.5-.2 3.5 .3 7-.2 1 .4 1.5-.3 2.5 .3 2 .1 1.5-.3 .5 .2 .5 8.3 3-.2 4 .3 2-.2 3 .2 3-.3 7.5 .3 4-.3 3.5 .3 6-.1 1 0 1 1 .5 0 6 0 .5-.4 .5 0 .5 .4 .5-.3 .5 0 .5 .3 5.5 0 3.5-.1 .5-.3 .5 0 .5 .3 1.5 0 .5-.2 .5 0 .5 .3 1 0 12.5 0 1.5 0 .5-.4 2 .4 3 0 5.5 0 .5-.3 .5 0 .5 .3 .5-.3 .5 0 .5 .3 2.5 0 1 0 .5-.3 .5 0 .5 .3 5 0 1.5-.4 .5 .4 3.5 0 .5 0 .5-.5 .5 0 .5 .4 1.5 .1 .5-1.7 2 0 .5 1.2 .5 0 3-.3 6 .2 7.5-.2 6 .2 3-.2 1.5 .3 3.5 0 5.5-.4 1.5 .2 1.5-.1 1.5 .3 2-.3 2.5 .2 3-.1 1.5 .2 1.5-.2 3 .1 28.5-.2 1.5 .2 4.5-.2 6 .2 7.5-.2 1.5 .2 7.5-.1 1.5 .2 3.5-.2 .5-.8 2 0 .5 .6 3-.1 3 .1 1.5-.3 1.5 .3 1.5-.2 1.5 .2 1.5-.2 1.5 .2 4.5-.2 1.5 .1 1.5-.2 3 .3 3-.3 1.5 .3 1.5 0 3-.3 9 .3 .5 .4 .5-.2 4.5 .3 3-.1 1.5-.2 1.5 .3 1.5-.2 1.5 .2 1.5-.2 1.5 .2 3-.3 3 .3 1.5-.2 4-.1 1.5 .2 2-.2 1.5 .3 1.5-.2 2.5 .1 3.5 .1 1.5-.2 2.5 .2 3.5-.3 6 .2 3-.2 3 .3 7.5-.1 1.5 .1 2-.2 1 .6 .5-1.1 2.5-.1 3 .1 4.5-.2 4.5 .2 1.5-.3 3 .3 1.5-.1 1.5 .1 1.5-.2 1.5 .2 3-.3 1.5 .2 7.5-.2 1.5 .3 3-.3 1 0 .5 .5 .5 .9 1.5 0 5 0 .5-.5 .5 0 .5 .5 1.5 0 .5-.3 .5-.1 .5 .3 2.5 .1 .5-.3 .5-.1 .5 .4 2 0 .5-.6 .5 0 .5 .6 1.5 0 .5-.2 1 .2 9 0 .5-.5 .5 0 1 .5 1 0 11.5 0 1-.3 .5 .2 5 .1 .5-.3 .5-.1 .5 .4 1.5 0 .5-.4 .5 0 .5 .4 6 0 .5-.5 .5 0 .5 .5 4.5 0 .5-.4 .5 0 1 .4 1.5 0 .5-.9 .5-.2 7.5 .2 3-.1 1.5 .2 1.5-.3 2 .2 2.5-.1 2 .2 2.5-.3 1.5 .3 4.5-.2 5 .1 .5-1.8 2 0 .5 1.7 1 .2 6-.2 1 1 16.5 0 .5-.4 .5 0 .5 .4 11 0 .5-.3 .5 0 .5 .3 3 0 3-.1 .5-.5 .5 .1 .5 .5 3 0 .5-.4 .5 0 .5 .4 2.5 0 .5-.3 .5 0 .5 .3 1.5 0 .5-.4 .5-.1 .5 .2 1-.1 .5 .4 4.5 0 1-.2 .5 .2 .5 0 .5-.5 .5 0 0 3.2-1 0-.5 .3-1.5-.4-2 .1-.5 .2-1-.2-1.5 0-.5 .5-.5 0-.5-.5-2 0-10.5-.1-1.5 .3-1-.2-.5 .4-.5 0-.5-.4-3 0-.5 .5-.5 0-.5-.5-11.5-.1-.5 .3-.5 0-.5-.3-.5 0-.5 0-.5 .6-.5 0-.5-.5-4 0-.5 .4-.5 0-1-.4-3 0-.5 .3-.5 0-.5-.3-1.5-.1-1.5 1-5-.1-2 .2-.5 1.6-2 0-.5-1.6-6 .1-2.5-.3-1.5 .2-3-.1-4.5 .2-8-.2-4 .2-2-.3-2 .2-.5 0-.5-1-.5 0-.5 .4-1 .1-.5 0-.5-.5-5-.1-.5 .6-.5 0-.5-.4-3-.2-.5 .4-.5 0-.5-.3-.5 .5-.5 0-.5-.5-.5 .2-1-.3-3 0-.5 .3-.5 0-.5-.3-2.5 0-.5 .5-.5 0-.5-.4-9.5 0-1 .5-.5 0-.5-.5-3.5 0-.5 .3-.5 0-.5-.3-.5 .4-1.5-.1-.5-.4-.5 0-.5 .4-.5 0-.5 0-.5-.3-1.5 0-.5 .3-.5 0-.5-.3-4 0-.5 .5-1 0-.5-.5-8 0-.5 .3-.5 0-.5-.4-2 0-1.5 .1-.5 .3-.5 0-.5-.3-1 0-.5 .8-.5 .5-1 .1-5.5-.3-3 .3-6-.3-2 .3-3-.3-5.5 .3-3-.3-2 .2-1.5-.1-2.5 .2-3 0-2-.3-2.5 0-.5-1.1-.5 .2-.5 .4-2 .1-1.5-.2-1.5 .2-4.5-.1-3-.2-4.5 .3-1.5-.3-4 .3-2-.3-1.5 .3-1.5-.3-3 .2-3-.2-1.5 .3-1.5-.2-1.5 .2-4.5-.3-10.5 .3-1.5-.3-3 .1-4.5-.1-7.5 .2-1.5-.2-1 .7-5.5-.2-6 .2-1.5-.1-1.5 .2-9 0-2-.3-4.5 .3-8.5-.2-2 .1-2.5-.2-.5 0-.5 .5-2 0-.5-.8-6.5 .2-2-.3-9 .3-4-.2-2 .2-2.5-.3-3 .2-4.5 .1-2-.2-2.5 .2-10.5-.3-3.5 .2-4-.2-2 .3-3-.2-3 .1-1.5-.2-3 .2-3-.1-3 .1-7-.1-1.5 .2-2-.3-3 .3-3-.3-1.5 .1-7-.1-6.5 .2-2.5-.1-2 .2-1.5-.2-1.5 .2-3-.1-.5 .9-2 0-.5-1.5-2-.1-.5 .6-.5 0-.5-.6-.5 0-1 0-.5 .5-.5 0-.5-.5-3 0-.5 .4-.5 0-.5-.4-1-.1-8 .1-.5 .3-.5 0-.5-.3-17.5 0-1 0-.5 .4-.5 0-.5-.4-2.5 0-1.5 .3-.5 0-.5-.3-5.5 0-.5 .2-1.5-.3-2 .1-.5 .5-.5 0-.5-.5-1.5 0-.5 .5-.5 0-.5-.5-2 0-.5 .3-.5 0-.5-.4-2.5 .1-.5 .5-.5 0-.5-.5-2.5-.1-.5 .1-1 1-4.5-.1-1.5 .3-2-.3-3 .3-1.5-.2-3 .2-4.5-.2-1.5 .2-2.5-.1-4.5-.2-8.5 .1-.5 8.4-3-.1-1.5 .2-2.5-.2-2 .3-2.5-.2-1.5 .2-1-.2-2.5 .4-1.5-.3-1 .1-7-.1-1.5 .3-3.5-.2-2 .2-1.5-.2-1.5 .3-5.5-.1-4 .2-2-.2-2.5 .3-1.5-.2-3 .3-2-.3-2 .2-2.5-.1-1-.2-2.5 .2-1.5-.3-3 .3-1.5-.3-1.5 .2-2-.3-1.5 .3-1-.3-3.5 .2-1.5-.2-2.5 .3-5.5-.4-.5-8.1-1-.1-1.5 .3-3-.4-4.5 .3-1.5-.2-4.5 0-1.5 .2-1.5-.2-7.5 .3-2.5-.2-2 .2-1.5-.4-1.5 .2-3-.1-3 .3-1.5-.3-2 .1-.5-.6-.5-.8-.5-.1-4 0-.5 .3-.5 0-.5-.2-23 0-.5 0-.5 .5-.5 0-1.5-.5-15-.1-3 .1-.5 .5-1 0-1.5-.1-.5-.5-1.5 0-.5 .5-.5 0-.5-.4-4.5 0-.5 .4-.5 0-.5-.4-1-.1-3.5 .1-.5 .4-.5 0-.5-.4-2.5 0-.5 1.4-.5 .2-2 0-1.5 .3-5.5-.3-2 .3-2.5-.3-2 .3-1.5-.2-5.5 .1-2-.2-1.5 .3-1.5-.2-1.5 .1-1.5-.1-1.5 .2-1.5-.3-1.5 .2-3 .1-1.5-.2-1.5 .2-1.5-.3-.5-.3-.5-1.3-9.5 0-.5 .3-.5 0-.5-.3-.5 0-.5 .3-.5 0-.5-.3-3 0-.5 .4-.5-.1-.5-.3-1-.1-17.5 .1-.5 .4-.5 0-.5-.5-5 .1-.5 .4-.5 0-.5-.5-1 0-.5 .4-.5 .1-.5-.4-9.5-.1zM340,730.1h2.1v10h-2.1zM410.8,724.1h2.1v26.4h-2.1zM536.7,725.7h2.1v20.1h-2.1zM968,726.2h2.1v20.4h-2.1z"/>
<path fill="#0000ff" d="M138,764.7l.5 0 .5 .4 8 0 .5-.3 .5 0 .5 .3 2-.1 .5-1.5 .5-.5 1.5-.2 1.5 .1 1.5-.2 2 .3 3-.4 7 .5 3-.4 1.5 .2 1.5-.2 2 .2 5.5-.1 3.5 .2 4-.2 1.5 .3 2-.2 1.5 .2 .5 .3 .5 1.7 7.5 0 .5-.3 .5 0 .5 .3 .5-.5 .5 0 .5 .5 .5 0 .5-.3 .5 0 .5 .2 2.5 .1 .5-.6 .5 0 .5 .6 .5 0 .5-.5 .5 0 .5 .5 8.5 0 1-.2 .5 .2 8.5 0 .5-.4 .5 0 .5 .3 2.5 .1 8 0 1-.2 .5 .2 4.5 0 .5-.3 .5 0 .5 .3 .5-.3 .5 .1 .5 .2 12 0 1.5 0 .5-1.6 .5-.7 3.5 .3 4-.4 1.5 .3 3-.4 6 .3 4.5-.2 3 .4 2-.4 2.5 .1 1.5-.1 1.5 .1 1.5-.1 1.5 .3 3.5-.3 3.5 .2 .5 .2 .5 2 1 0 .5 0 .5-.4 .5 0 .5 .4 4.5 0 .5-.4 .5 0 .5 .4 5 0 .5-.5 .5 0 .5 .5 3.5-.1 .5-.4 .5 0 .5 .5 3 0 .5-.3 .5 0 .5 .2 1 .1 .5-.4 .5 0 1 .3 .5-.5 .5 0 .5 .5 1.5 .1 18 0 .5-.3 .5 0 .5 .3 .5-.4 .5 0 .5 .3 6 .1 .5-.5 .5 0 .5 .5 2.5 0 .5-.3 1-.1 .5 .4 2 0 .5-.2 1 .2 3 0 .5-1.6 .5-.6 1.5-.2 6 .4 1.5-.4 1.5 .4 1.5-.3 2.5-.1 2 .3 3 0 1.5-.3 6 .4 3-.4 1.5 .4 3 0 4.5-.4 4.5 .3 .5 .6 .5 1.5 2 0 2.5-.3 .5 .2 3 .1 4.5-.1 1-.2 .5 .2 2 .1 .5-.5 .5 .1 .5 .4 1 0 .5-.3 .5-.1 .5 .3 4.5 .1 .5-.4 .5 0 .5 .4 .5-.2 1 .2 7.5 0 .5-.4 .5 0 .5 .4 1 0 .5-.4 .5 0 .5 .3 1 0 .5-.3 .5 0 .5 .4 1 0 10.5 0 .5-.2 .5-.1 .5 .3 1 0 .5-.3 1.5 0 .5 .3 4 0 3.5-.4 .5 .3 1.5 .1 .5-.3 .5-.1 .5 .4 1.5 0 .5-1.9 .5-.4 3.5 .1 2 .3 3-.2 3 .1 2.5-.3 1.5 .2 2-.1 1.5 .2 1.5-.2 2.5-.1 3 .4 5-.2 2.5 .2 2-.3 7.5 .1 .5 .3 .5 1.8 1.5 0 .5-.3 .5 0 .5 .3 6.5 0 1.5-.1 .5-.4 .5 0 .5 .4 5 .1 .5-.5 .5 0 1 .1 .5 .3 1.5 .1 1 0 .5-.4 .5 0 .5 .4 3.5 0 .5-.5 1.5 .1 .5 .4 .5 0 .5-.5 .5 0 .5 .5 2-.1 .5-.3 .5 .1 .5 .3 1.5-.3 .5 .3 2.5 0 .5-.6 .5 .1 .5 .5 9-.1 .5-.2 1 .3 2.5 0 8.5 0 .5-.4 .5 0 .5 .4 3.5 0 1.5 0 .5-1.7 .5-.7 1.5-.2 3 .2 3-.2 1.5 .3 1.5-.3 2 .1 2.5-.2 3 .4 2-.3 4 .2 3-.2 1.5 .1 1.5-.1 2 .3 2.5-.2 2 .2 2.5-.2 2 .2 2.5-.3 .5 .2 .5-6.4 2-.5 1.5 .2 3.5-.4 3.5 0 2.5-.5 2 .2 2.5-.5 1.5 .2 3.5 0 1-.2 1.5 .1 1-.2 2.5 .2 3.5-.1 1 .1 1.5-.4 1 .2 2.5-.2 2.5 .3 2-.3 2.5 0 2.5 .4 5-.2 7 .4 4.5-.2 4 .3 1.5-.1 2 .2 1.5-.2 1 .3 2.5 0 1-.2 2.5 .3 1.5-.1 .5-2.1 1-.4 .5 0 2 .5 1-.5 1.5 .4 1.5-.3 .5 9.9 5.5 .2 1.5-.4 2 .4 4-.4 2 .4 4-.3 3 .2 1.5-.3 4.5 .1 1.5-.1 1.5 .3 3-.2 2.5 .4 .5 1.9 4.5-.1 .5-.4 .5 .1 1 .4 3 0 .5-.4 .5 0 .5 .4 1 0 15 0 2.5-.1 .5-.3 .5 0 .5 .3 1.5 .1 .5-.5 .5 0 .5 .4 9 .1 .5-.5 .5 .1 .5 .4 .5 0 .5-.3 .5 0 .5 .3 1.5 0 9 0 .5-.4 .5 0 .5 .3 1 0 .5-.2 .5 0 .5 .2 1.5 0 .5-.4 .5 0 .5 .5 .5 0 3.5-.1 .5-.3 1 0 .5 0 .5 .4 .5-.5 .5 0 .5 .4 .5 0 .5-2.1 .5-.4 1.5 0 6 0 3 .3 2-.4 4 .4 3-.4 1.5 .4 1.5-.5 1.5 .1 1.5 .3 1.5-.3 1.5 .3 1.5-.3 1.5 .3 3-.3 1.5 .2 1.5-.3 1.5 .3 4.5 .2 1-.3 .5 .7 .5 1.3 .5 .6 .5 0 1 0 .5-.5 .5 0 .5 .5 3-.1 .5-.5 .5 0 .5 .6 3 0 .5-.4 .5 0 .5 .4 3.5 0 1-.5 .5 0 .5 .5 .5 0 .5-.4 .5 0 .5 .4 1 0 .5-.2 .5 0 .5 .2 16 0 2.5-.1 .5-.4 .5 0 .5 .5 2-.1 .5-.3 .5 0 1 .1 .5 .3 .5 0 .5-.4 .5-.1 .5 .4 .5-.3 .5 0 .5 .4 1 0 .5-.3 .5 0 .5 .3 4-.1 .5-.2 .5 0 .5 .3 .5 0 .5-.4 .5 .1 .5 .3 1 0 .5-.4 .5 0 1.5 .1 .5 .3 1 0 .5-.4 .5 .1 .5 .3 .5-.4 .5 0 .5 .4 .5 0 .5-.5 .5 0 .5 .5 1.5-.1 .5-1.6 .5-.8 3.5 .1 2-.2 1.5 .2 3-.2 1.5 .2 2.5-.3 2 .2 1.5-.1 1.5 .3 3-.3 4.5 .2 7.5-.3 .5 0 .5 .8 0 6.8-.5 .7-1.5-.2-1.5 .4-1.5-.3-6 .3-3-.2-1.5 .2-3 0-6 0-3-.3-3 .4-1.5-.4-1.5 .4-1.5-.4-.5-.7-.5-1.3-1.5 0-.5-.3-7 0-.5 .5-.5 0-1-.5-1-.1-1 .1-.5 .3-.5 0-.5-.3-8 0-.5 .4-.5 0-.5-.4-7.5-.1-1 .1-.5 .4-2-.5-2 .1-.5 .4-.5 0-.5-.4-2 0-4.5-.1-.5 .3-.5 0-.5-.3-1.5 0-.5 .4-.5 0-.5-.4-1.5 0-3.5 .1-.5 .5-.5 0-.5-.5-6 0-.5 .3-.5 0-.5-.3-8.5-.1-.5 1.9-.5 .7-2.5-.1-1.5 .2-1.5-.1-1.5 .1-1.5-.3-3-.1-3 .5-1.5-.4-1.5 .3-1.5-.4-9 .4-4.5-.3-1.5 0-1.5 .4-1.5-.2-3 .2-2.5-.3-2 .3-.5-.5-.5-2.2-5 0-.5 .2-.5 0-.5-.2-1 .2-1-.3-5 .1-.5 .4-1-.2-1 .3-1.5-.5-2 0-1 0-.5 .2-.5 0-.5-.2-6.5 0-1 .2-.5-.2-3 0-.5 .5-.5 0-.5-.5-.5 .3-1.5-.4-4 .1-.5 .2-.5 0-.5-.2-8.5 0-.5 .3-1.5-.4-.5 0-.5 .4-.5 0-.5-.3-.5 .4-.5 .1-.5-.5-.5 .3-.5 0-.5-.3-1-.1-2.5 .1-.5 .4-.5-.1-.5-.3-4.5 0-1 .2-.5-.2-.5 0-.5 .4-.5 0-.5-.4-2 0-.5 1.9-3.5 .4-1.5-.1-3 .2-3-.4-1.5 .3-1.5-.3-4.5 .1-1.5 .3-1.5-.2-3 .2-1.5-.4-1.5 .4-4.5-.3-1.5 .3-1.5-.2-1.5 .1-.5 9.5-2 0-1.5-.3-2 .5-1.5-.4-.5 .2-.5-2.3-.5 0-2 .3-1.5-.2-1.5 .2-1-.2-1 .3-1.5 .1-9.5-.1-2.5 .4-1-.3-1.5 .3-2.5-.3-2 .3-1-.2-1.5 .4-1-.3-1.5 .3-4.5-.2-2.5 .3-1.5-.2-2 .2-6-.3-1.5 .2-2.5-.4-4.5 .2-7.5-.2-1 0-1-.3-1.5 .1-1-.3-6-.1-5.5-.6-.5-6.6-.5 .2-2.5-.2-1.5 .3-1.5-.2-3 .2-1.5-.2-3 .2-1.5-.3-1.5 .2-3-.3-3 .3-3-.4-3 .5-6-.3-1.5 .3-1.5-.3-3 0-3.5 .3-.5-.8-.5-1.9-1.5 .4-.5-.3-3-.1-.5 .5-.5 0-.5-.4-2-.1-.5 .4-.5 0-.5-.4-3 .1-.5 .4-.5-.1-.5-.3-10.5-.1-1.5 .4-.5-.3-8 0-1 .2-.5-.2-1.5 0-.5 .5-.5 0-.5-.5-1.5 0-.5 .4-.5-.1-.5-.3-1.5 0-.5 .2-.5 0-.5-.2-3-.1-.5 .4-1.5-.4-7 .1-.5 .5-.5 0-.5-.5-.5-.1-4.5 .1-.5 .4-.5 .1-.5-.5-1 0-.5 .4-.5 0-.5-.4-1.5 0-.5 1.7-.5 .3-1 0-1 .2-3-.3-1.5 .3-1.5 .1-2-.2-4 .1-1.5-.3-3 .1-1.5 .2-1.5-.3-3 .2-2-.2-2.5 .4-2-.3-4-.1-2 .3-6 0-.5-.4-.5-1.8-.5-.1-3 .1-.5 .4-.5 0-.5-.4-1.5-.1-16 .1-.5 .2-1.5-.3-9 0-3 .1-.5 .3-.5 0-.5-.3-4.5-.1-6 0-1 .3-.5-.2-1.5 0-9.5-.1-.5 0-.5 .6-.5 0-.5-.6-3.5 0-4 .1-.5 1.4-.5 .6-1.5 0-2 .4-1.5-.3-1.5 .2-1.5-.2-5.5-.1-2 .3-1.5-.2-1.5 .2-2.5 0-2-.2-2.5 .2-2-.3-3 .1-1.5 .2-1.5-.2-1.5 .2-1.5-.2-1.5 .2-3-.3-1.5 .4-1 0-.5-.8-.5-1.7-.5 .4-.5 .1-.5-.4-4.5-.1-5.5 .1-.5 .3-.5 0-.5-.3-.5 0-.5 .5-.5 0-.5-.5-.5 .5-.5 0-.5-.5-1.5-.1-11 .1-.5 .5-.5-.1-.5-.5-1 0-.5 .4-1 .2-.5 0-.5-.5-.5-.1-1 .1-.5 .4-.5 0-.5-.5-.5 0-8 0-.5 .4-.5 0-.5-.4-8.5 0-.5 .4-.5 0-.5-.4-12 0-1.5 .1-.5 2.1-2.5 .3-1.5-.2-3 .1-4-.2-2 .1-1.5-.2-1.5 .2-1.5-.2-3 .2-7-.2-3.5 .3-3-.1-1.5-.2-6 .4-2-.2-.5-.7-.5-1.5-4.5-.1-.5 .4-.5 0-.5-.3-2 0-.5 .4-.5 0-1 0-.5-.4-1.5-.1-5.5 0-.5 .4-1 .1-.5-.5-4 .1-.5 .3-.5 0-.5-.3-6.5-.1-5 .1-.5 .3-.5 0-.5-.3-8.5 0-.5 .3-.5 0-.5-.3-1.5-.1-.5 .1-.5 .4-.5 0-.5-.4-.5 .2-1-.2-3-.1-3 .1-.5 .5-.5 0-.5-.5-11 0-.5 1.7-.5 .4-2.5 .3-3-.1-2.5-.3-5 .4-3-.4-4 .3-2-.3-2.5 .4-1.5-.3-2 .2-4-.3-2 .3-1-.2-3-.1-3 .2-1.5-.2-.5-.5-.5-1.6-12.5 .1zM512,760.7h2.1v12h-2.1zM822.4,761.2h2.1v11h-2.1z"/>
<path fill="#008000" d="M138,794.9l.5-.6 1.5-.2 7 0 .5 .8 .5 1.7 .5 0 8.5 .1 .5-.5 .5-.1 .5 .6 .5-.1 .5 0 .5-.4 .5-.1 .5 .5 1 .1 3-.1 1-.4 .5 0 .5 .4 7 .1 1.5-.1 .5-.5 .5 0 .5 .5 8.5 .1 .5-.3 1 .3 .5-.4 1-.2 1 .1 .5 .4 .5 0 19.5 .1 1.5-.1 .5-.4 .5 0 .5 .4 .5-.4 .5 0 .5 .5 1.5-.4 .5 .3 2.5 .1 .5 0 .5-1.8 .5-.9 .5-.1 9.5 .5 5.5-.4 2 .3 4-.1 5 .1 8.5-.4 1.5 0 2 .5 1 0 1.5-.3 3 .1 .5 .5 .5 1.9 1.5 .1 .5 0 .5-.5 .5 0 .5 .4 .5 0 .5-.3 1.5 .4 7.5 0 3 0 .5-.3 .5 0 .5 .3 7 0 .5-.2 1.5-.1 .5 .2 1 0 .5-.5 .5 .1 .5 .4 .5 0 .5-.5 .5 0 .5 .6 1 0 9-.1 9 .1 1-.1 .5-.5 .5 0 .5 .5 3.5 0 .5-.5 .5 0 .5 .5 4 0 .5-.4 .5 0 .5 .5 .5 0 3.5-.1 .5-.2 1 .2 2.5 0 .5-1.9 .5-.7 4 .3 2.5-.3 1.5 .1 1.5-.2 3 .4 4.5-.2 1.5 .2 1.5-.3 3 .3 1.5-.2 1.5 .2 6-.4 3 .4 2-.2 2.5 .2 2-.3 2 0 .5 .8 .5 1.8 .5-.3 .5 0 .5 .3 1 0 .5-.4 .5 0 .5 .4 18 0 1.5 0 .5-.5 .5 0 .5 .5 10.5 .1 .5-.5 .5-.1 .5 .5 1.5 0 22.5 .1 1.5-.1 .5-.4 .5 0 .5 .4 7.5 .1 .5-2.4 1-2 .5-.6 .5 .1 .5-.1 1 .6 1-.6 .5 .5 .5-.2 .5-.8 .5-.2 1 1.4 .5-.2 .5-.7 1.5 1.2 1 .2 1-.2 .5 .3 1-.8 1 .7 .5-.1 .5-.2 1-1.1 .5-.1 2.5 .7 1-.4 .5 .3 .5 .7 .5 0 1-.6 1-.1 .5-.6 2-.3 1 .7 .5 .1 1-.9 .5 1.1 .5 1.6 .5 .9 4.5-.2 1.5 .3 3-.4 2.5 0 2.5 .2 .5 .6 .5 1.6 .5 0 3.5 0 .5-.4 .5 0 .5 .3 2.5 0 .5-.5 .5 0 .5 .5 1.5 0 1.5 0 .5-.5 .5 0 .5 .6 2.5 0 .5-.5 .5 0 .5 .4 1.5 0 .5-.2 1.5-.1 .5 .3 10 .1 .5-.5 .5 0 .5 .4 11.5 .1 1-.3 .5 .3 14 0 3-.1 .5-.4 .5 0 .5 0 .5 .4 2 0 .5-.4 .5 0 .5 .4 1 0 .5-1.6 .5-.5 7-.1 3-.3 9 .4 1.5-.1 1.5 .1 3-.4 2 .2 2.5-.2 1.5 .4 2-.2 2.5 .2 8-.2 .5 .3 .5 2 .5-.4 .5 0 .5 .4 .5-8.6 2 .1 3.5-.4 2.5-.2 1 .1 1.5-.2 2.5 .3 6-.5 1-.2 3.5 .2 2.5-.5 1 .3 1.5-.1 3.5 .3 1-.3 1.5 .2 2-.1 1.5 .4 6-.3 3.5 .3 1.5-.2 1 .4 2.5-.1 2.5 .1 1-.2 1 0 1.5 .3 1-.2 1.5 .3 3-.1 1.5 .3 2.5-.3 2.5 .4 2-.2 1.5 .3 2-.1 1.5 .2 2-.1 .5-1.7 1-.3 3 .4 1.5-.3 1.5 .1 .5 8.1 2-.2 3 .1 1.5-.2 1.5 .2 6-.2 1.5 .4 1.5-.3 1.5 .2 3-.2 3 0 1.5 .3 1.5-.1 1.5-.3 3 .4 1.5 0 1.5-.3 3.5 .4 .5 1.9 .5-.4 .5 0 .5 .4 1 .1 4.5 0 2-.1 .5-.2 1 .3 10 0 1-.3 .5 .2 5.5 0 .5-.3 .5 0 .5 .3 1 0 .5-.5 .5 .1 .5 .4 2.5 .1 1.5-.1 .5-.4 .5 0 .5 .4 11.5 .1 .5-.5 .5-.1 .5 .5 4.5 0 .5-.3 .5 0 .5 .3 10 0 .5-2.9 .5-2.4 .5-1.4 1.5-.3 1.5 3.6 1-1.3 .5 .1 .5-.8 1-2.4 1.5-.4 2 1 1.5 3.3 1 .5 .5-1 1-3.7 .5-.8 .5-.3 .5 .2 1 1.9 1-.8 .5 .1 .5 1.3 .5 1.9 1.5-2.3 .5-1.4 .5-.1 .5 .7 1 6 .5-.6 1.5 .3 7 0 3-.4 6.5 .3 7.5-.1 3 .3 .5 1.9 .5-.5 1 0 .5 .5 1 .1 18-.1 1.5 0 .5-.3 .5 0 .5 .3 3 .1 .5-.4 .5 0 .5 .3 6.5 0 .5-.5 .5 .1 .5 .5 4 0 .5-.3 .5 0 .5 .3 1.5-.4 .5 .3 3 0 .5-.4 1 .2 .5 .2 2.5 0 .5-.4 .5 0 .5 .4 6 .1 1-.3 .5 .2 1.5 0 .5-.9 2 0 .5 .9 .5 0 .5-.4 .5 0 .5 .4 6 0 .5-1.2 .5-.5 .5 0 4.5 0 1.5-.2 3 .4 7.5-.3 3 .3 1.5-.3 2 .1 2.5-.1 3.5 .3 1-.2 1-1.8 .5-.2 1 .3 1-.8 1.5-.5 .5 .4 1-.4 1 .9 .5-.3 .5-.8 .5-.3 .5 .5 .5 .3 1-.3 1.5 .5 1.5-.3 1 .2 1 .5 .5 0 1.5-.2 1.5 .1 1.5 .4 1-.4 1 .3 .5 .3 1-.4 .5 .2 1.5-.1 1-.4 1 .8 .5 .9 .5 .6 .5 .2 .5 1.6 11.5-.1 .5-.6 .5 0 .5 .6 0 3.3-13-.1-.5 1.5-.5 .3-.5 .6-.5 .9-1 .9-.5-.3-1 .2-1.5-.2-1-.6-.5 .6-.5 .4-.5-.3-.5-.5-1 .4-2 .1-1 .3-1-.3-1 .6-.5-.1-1 .4-.5 .3-1-.3-1 .5-1.5-.4-.5-.3-.5 .3-.5 0-.5-.6-.5-.3-.5 .7-.5 .2-.5-.3-1 .2-1-.3-1 .1-1-.3-.5-.5-1-1.8-.5-.4-.5-.1-5-.1-2 .3-4-.3-1.5 .4-1.5-.1-2 .1-2.5-.3-3 .2-7.5-.3-1 .2-.5-.3-.5-1.4-2 0-.5 .5-.5 0-.5-.4-3-.1-.5 .3-.5 0-.5-.3-.5 .9-2 0-.5-.9-.5 0-.5 .4-.5 .1-.5 0-1-.5-1.5 0-.5 .6-1.5-.2-.5-.4-2.5 .1-.5 .4-.5 0-.5-.4-.5 0-.5 .4-.5-.1-.5-.4-2 0-.5 .3-.5 0-.5-.3-14 0-3 .1-.5 .2-1.5-.3-.5 .5-.5 0-.5-.5-2 .1-.5 .2-.5 0-.5-.3-2.5 0-.5 .4-1.5-.1-.5-.3-2 .1-.5 .3-.5 0-.5-.3-5.5-.1-1 .3-.5-.2-6-.1-.5 1.9-1.5 .5-1.5-.3-1.5 .2-3-.2-1.5 .3-1.5-.3-1.5 .3-2-.4-2.5 .4-1.5-.2-1.5 .1-1.5-.3-2 .3-2.5-.2-1.5 .3-1.5 .1-.5-.7-.5 3-.5 2.6-.5 .6-.5 .3-.5-.7-.5-1-1-2.6-1 3.4-.5 .8-1-.6-1 2.2-.5 0-1-1.7-.5-1.5-.5-1.9-.5-1.4-.5 .4-1 1.9-1 1.7-1.5 .8-.5 .1-1-.6-.5-.5-.5-1-.5-.5-.5-.9-1-.7-.5-.1-1.5 3.2-1.5 .3-.5-1.7-.5-3-.5-2.7-13 0-3 0-.5 .2-1-.2-4.5 0-2 .1-.5 .3-.5 0-.5-.4-2 0-2.5 0-.5 .3-1 .1-.5-.4-8.5 0-.5 .5-.5-.1-.5-.4-.5 0-.5 .3-.5 0-.5-.3-1 0-.5 .5-.5 0-.5-.4-3.5-.1-.5 .5-.5 0-.5-.5-14 0-.5 0-.5 2.1-.5 .1-8 .2-1.5-.3-1.5 0-1.5 .3-1.5-.4-3 .4-3-.4-1.5 .4-1.5-.3-1.5 .4-4.5-.4-1.5 .2-3-.3-1.5 .4-1.5-.3-1.5 .3-.5 7.6-4 .2-3-.4-.5-1.4-.5 0-1.5 .2-1-.3-3.5 .5-1.5-.1-2.5 .1-2-.2-2.5 .2-1 .3-1.5-.3-2 .2-2.5-.1-1.5 .1-1 .3-1.5-.3-1 .4-2.5-.3-1 .2-1.5-.2-2 .4-1.5-.3-1 0-1.5 .4-2-.2-1.5 .3-1-.2-7 .3-1.5-.3-1.5 .3-3.5-.2-1-.2-2 .1-4-.3-2.5 .2-2.5-.5-2 .2-1.5-.2-2.5 .1-1-.2-3.5 0-1-.3-.5-8.5-1.5 0-.5 2-1.5 .3-2-.2-2.5 .2-3-.2-1.5 .4-1.5-.2-1.5 .2-1.5-.3-3 .1-1.5-.2-3 .2-1.5-.2-3 .4-1.5-.2-1.5 .2-2-.3-5.5 .2-2-.2-4 .4-.5-.2-.5-.6-.5-1.8-2 0-1 .3-.5-.2-3.5-.1-.5 0-.5 .4-.5 0-.5-.4-.5 0-6 .1-.5 .3-.5 0-.5-.4-2 0-.5 .3-1-.3-2.5 0-.5 .4-.5 0-.5-.4-1.5 0-.5 .3-.5 0-.5-.3-3 0-1 0-.5 .5-.5 0-.5-.5-.5 0-1.5 0-.5 .4-.5 0-1-.3-1-.1-14 0-.5 .3-.5 0-.5-.3-16.5 0-.5 1.6-.5 .7-7-.1-1.5 .2-3-.4-2.5 .3-.5 .5-.5 .8-.5 1.1-.5-.1-.5-.4-1 1.1-1-.4-.5 .2-1-.2-.5-.5-1.5 .1-1-.4-1.5 .2-1-.2-1 .4-1.5-.2-2-.8-.5 0-.5 .6-1 .1-.5 .4-.5 0-.5-.4-.5 .1-1.5 1.2-.5 .2-.5-.6-1 .1-1-.2-.5-.2-.5-.5-2.5 .4-.5 0-.5 .2-.5-.4-1-2-.5-2.5-1.5 0-2.5 .1-.5 .4-.5 0-.5 0-.5-.4-3.5-.1-.5 .2-2-.2-19 0-.5 .3-.5 0-.5-.3-4.5 0-.5 .5-.5 0-.5-.5-2 0-1 .3-.5-.2-2-.1-.5 .5-.5 0-.5-.5-.5 0-.5 .4-.5 0-.5-.4-2 0-3 0-.5 .6-.5 0-.5-.5-1.5-.1-3 0-1 .3-.5-.3-8.5 0-.5 .2-1.5 0-1-.2-.5 1.8-.5 .8-1.5-.3-1.5 .5-6-.3-1.5 .2-3-.3-1.5 .2-1.5-.2-1.5 .3-3-.4-3.5 .5-5.5-.1-2-.4-5.5 .4-6-.2-.5-.7-.5-1.8-6 0-.5 .3-.5 0-.5-.3-1 0-.5 .3-.5 0-2-.3-.5 .4-.5 0-.5-.4-7 0-.5 .3-.5 0-.5-.2-5-.1-.5 .4-.5 0-.5-.4-5.5 0-.5 0-.5 .4-.5 .1-.5-.5-2 0-.5 0-.5 .4-.5 0-.5-.4-2 0-.5 .4-.5 0-.5-.4-4.5 0-.5 .4-1.5-.4-11.5 0-.5 .4-.5 0-.5-.4-4 0-.5 .4-.5 0-.5-.4-4 0-.5 2.1-.5 .4-1-.2-1.5 0-4.5 .4-3 0-1.5-.4-1.5 .1-1.5 .4-1.5-.4-1.5 .1-1.5-.2-3 .4-3-.3-1.5 .4-1.5-.1-1.5-.3-1.5 .2-1.5-.3-1.5 .1-7.5 .2-1.5-.2-1 .2-.5-.7-.5-1.5-.5 .1-.5-.5-12 .1-.5 .3-.5 0-.5-.3-7-.1-.5 .5-.5 0-.5-.5-1.5 .4-.5-.4-1 0-10 0-.5 .4-.5 .1-.5-.5-.5 0-.5 .5-.5 0-.5-.5-1.5 0-.5 .5-.5 0-.5-.5-6 0-.5 .4-.5 0-1 0-.5-.4-5.5 0-.5 .2-1-.2-3 0-.5 .4-.5 0-.5-.4-2.5 0-2.5 0-.5 .5-.5 0-.5-.5-2.5 0-.5 1.7-.5 .8-8.5 .1-.5-.7zM570.4,793.2h2.1v10h-2.1zM817.7,789.2h2.1v22h-2.1zM831.4,788.7h2.1v22.5h-2.1zM893.6,791.2h2.1v14h-2.1z"/>
<path fill="#000000" d="M138,828.5l.5-.5 .5 0 .5 .5 3.5 0 .5-.4 .5 0 .5 .3 1.5 .1 11-.1 .5-.3 1 0 .5 0 .5 .4 5-.1 .5-.3 .5 .1 .5 .3 3 0 .5-.4 .5 0 .5-1.1 .5-4.9 .5-.3 1-.3 1 1.3 .5 1 .5-.2 1-1.2 1-2.3 .5-1 .5 .7 1 .8 1.5 4.5 .5 .2 .5-.2 .5 0 .5-.4 .5-.7 2-4.4 .5 0 .5 .2 .5 .6 .5 1.8 1 2.9 1 0 1-5.3 1.5-.4 .5 1.8 .5 3.2 .5 2.6 8.5 0 3-.2 2 .2 1.5-.2 1.5 .2 4-.2 3.5 .2 4.5-.2 4 .2 .5 .3 .5 1.2 1 0 2-.1 .5-.3 .5 0 .5 .4 3.5 0 .5-.5 .5 0 .5 .5 7 0 .5-.5 .5-.1 .5 .6 .5 0 .5-.3 1.5 .1 .5 .2 2-.3 .5 .2 4.5 .1 .5-.4 .5-.1 .5 .4 1.5 .1 .5 0 .5-.3 .5 0 .5 .2 9 .1 .5-.4 .5 0 .5 .4 16.5 0 1-.2 .5 .2 1.5 0 .5-.5 .5-.1 .5 .5 7.5 0 .5-1 .5-.2 4.5 .1 1.5-.3 4.5 .3 1.5-.2 4 .1 2-.2 6 .3 3-.1 4 .1 2-.2 1.5 .1 1.5-.2 1.5 .3 1.5-.3 1.5 .2 1.5-.2 2 .3 .5 1.2 2.5 0 .5-.3 .5 0 .5 .3 1 0 12.5 0 1-.1 .5-.5 .5 0 .5 .5 2 .1 .5-1.7 1-2.9 1.5 .2 1.5-.9 .5-.9 1-2.8 1.5 .5 .5 1 1 1.5 1 2.3 .5 .9 .5-.5 1-.2 1-3.1 .5-1.2 1.5-1.8 1.5 1 1.5 3.2 1 1.4 .5 .4 .5-1.4 .5-1 .5 .4 1 1.3 1 4.3 2.5-.1 .5-.4 .5 0 .5 .5 11 0 .5-.5 .5 0 .5 .5 2-.1 .5-.4 2 .5 5 0 1.5-.1 1-1.2 1-.1 1.5-.1 1.5 .3 1.5-.3 3 .3 4.5 0 1.5-.1 1.5 .2 4.5-.3 4 .2 3-.3 3.5 .1 1.5 .3 4.5-.4 4.5 .1 1 .2 1 1.1 .5 0 .5-.4 .5 0 .5 .5 .5 0 11-.1 .5-.2 1 .2 .5-.3 .5 0 .5 .4 .5 0 2.5 0 .5-.3 .5 0 .5 .3 4 0 2-.1 .5-.2 .5 0 .5 .3 .5-.5 .5 0 1 .5 1 0 .5-.4 .5 0 .5 .3 .5-.2 .5 0 .5 .3 .5-.3 .5 0 .5 .3 3.5 0 .5-.5 .5 0 .5 .5 .5-.4 .5 0 .5 .4 5 0 1.5-.1 .5-.3 1.5 .4 .5-.5 .5 0 .5 .5 2.5 0 .5 0 .5-.5 .5 0 .5 .5 .5 0 12.5 0 .5 0 .5-1.2 2 0 .5 1.2 1 0 .5-.4 .5 .1 .5 .3 4-.1 .5-.3 .5 0 .5 .3 1.5 .1 1 0 .5-.3 .5 0 .5 .2 11.5 .1 1.5-.1 .5-.1 1 .2 6 0 2-.1 .5-.3 .5 0 .5 .3 2.5 .1 1 0 .5-.3 1-.1 1 0 .5 .3 7 0 1-2.8 .5-1.6 .5-.9 .5-.6 1 .6 .5 0 1-1.2 1-.3 1-.6 .5 .2 1 1.3 .5 .1 1-1.6 .5 .4 .5 .2 1.5 0 1-.4 1 .6 .5 0 .5-.3 .5 .1 .5 .6 .5 .1 1-1 .5-.2 1 1.8 .5-.5 .5-1 .5 .1 .5 .4 .5-.1 .5 .3 .5 0 .5-.2 .5 .3 1 0 1 .6 .5-.7 .5-.9 .5-.2 2 1.8 .5-.3 .5-.8 .5-.1 .5 1.1 .5 .8 .5 0 1-.5 1 1 1-.1 .5 .4 .5 .8 0 9.5-1 1.1-3 .4-1 .8-.5 .7-.5 .3-.5-.4-.5-.1-1 .4-.5 .4-.5 0-1-.2-2-1-.5 .3-.5 0-.5-.6-.5 .1-.5 1.3-.5 .3-1-1.5-.5-.2-1 1.9-.5 0-1.5-1.3-.5 .1-.5 .4-1 0-1 1-1-1.1-.5 0-1.5 .8-.5-.1-.5 .3-.5-.4-.5-.7-.5-.2-.5 .6-.5 .2-.5-.3-.5 .2-.5 0-1-1.2-1-.4-1 1-.5-.5-.5-.9-.5-.3-.5-1.2-1-3.4-.5-.1-2 0-.5 .5-.5 0-.5-.5-1.5-.1-6 .1-.5 .5-.5 0-.5-.6-.5 .6-.5 0-.5-.5-2.5 0-.5 .4-.5 0-.5-.4-2-.1-1.5 0-.5 .4-.5 0-.5-.4-7 .1-.5 .2-.5 0-.5-.2-2-.1-1 0-.5 .3-.5 0-.5-.3-1 0-.5 .6-.5 0-.5-.5-5.5-.1-5 .1-.5 1.2-2 0-.5-1.3-1 0-7 0-.5 .5-.5 .1-1-.1-.5-.4-1 0-.5 .4-.5 0-.5-.4-1.5-.1-.5 0-.5 .5-.5 0-.5-.5-2.5 0-.5 .3-1 .1-.5-.3-7-.1-3.5 .1-.5 .2-1-.2-2 0-.5 .3-1.5-.4-1 0-.5 .3-.5 0-.5-.3-3 0-.5 .5-.5 0-.5-.5-1 0-.5 .5-.5 0-.5-.4-4 0-.5 .4-.5 0-.5-.4-1.5-.1-4 .1-.5 .3-.5 0-.5-.3-9.5-.1-1.5 .1-1.5 1.4-1 0-1.5 0-1.5-.3-1.5 .3-4.5 0-3.5-.3-7 .3-1.5-.3-1.5 .3-6-.1-4.5 .2-1.5-.3-3 .2-1.5-.3-2.5 .2-.5-.4-.5-1-3.5 0-.5 .4-1.5 .2-1.5-.1-.5-.4-.5 0-.5 .3-.5 0-.5-.4-.5 .5-.5 0-.5-.4-2.5-.1-3 .1-1 .5-.5 0-.5-.5-8.5-.1-.5 .1-.5 2.5-.5 2.2-1.5 .6-.5-1.1-.5-.6-.5 1.1-1 1.3-1 2.2-.5 .7-1.5 .5-1-.9-.5-.7-1.5-3.9-1.5-1.1-3 5.5-1.5 .1-1-1.7-.5-1.1-.5-.4-1-.5-1 .2-.5-.2-1.5-4.8-.5 .4-.5 0-.5-.4-4.5 0-.5 .4-.5 0-.5-.3-3.5-.1-6 .1-.5 .3-.5 0-.5-.3-3.5-.1-.5 1.3-11.5-.1-2 .3-1.5-.3-3 .2-3-.1-2.5 .2-3.5-.3-1.5 .2-1.5-.2-1.5 .3-1.5-.2-3-.1-3 .3-5-.3-.5-.3-.5-.8-.5 .3-1 .1-.5 0-.5-.4-1-.1-22.5 0-1 .1-.5 .3-1.5-.4-1 .1-.5 .5-.5 0-.5-.5-.5 0-.5 .2-.5 0-.5-.3-1 .1-.5 .4-.5 0-.5-.4-3.5-.1-.5 .5-.5 0-.5-.4-2.5 0-.5 .4-.5-.1-.5-.3-3.5-.1-9 0-.5 .5-.5 0-.5-.5-1 .1-.5 .3-1.5-.4-1 .1-1 .5-.5 0-.5-.5-5 0-.5 .4-.5 0-.5-.4-.5 0-.5 1.2-.5 .2-3.5 0-1.5 .2-1.5-.3-3 0-3 .3-3-.3-3 .4-3-.4-1.5 .3-1.5-.2-1.5 .3-1.5-.4-1.5 .3-3.5-.2-1 5.9-.5 1.5-.5-.3-1-.1-1-4.9-1 .3-1 3.3-.5 1.3-.5-.2-1 .2-1-2.3-.5-.6-.5-.4-1-2-1-.1-.5 .2-1.5 4.4-1.5 1.4-1.5-3.1-1-1.1-.5-.2-.5 .8-1 .9-1.5 0-.5-4.3-.5-2.1-6.5 .1-.5 .4-.5 0-.5-.5-6.5 .1-.5 .2-1-.2-.5 .3-.5 0-.5-.3-14.5 0zM184,819.8h2.1v22.5h-2.1z"/>
</g>
<g stroke="#000" stroke-width="1.6" stroke-linecap="square" fill="none"><line x1="138.6" y1="48.4" x2="1012.4" y2="48.4"/><line x1="138.6" y1="855.5" x2="1012.4" y2="855.5"/><line x1="138.6" y1="48.4" x2="138.6" y2="855.5"/><line x1="1012.4" y1="48.4" x2="1012.4" y2="855.5"/></g>
<g stroke="#000" stroke-width="1.6">
<line x1="138.5" y1="855.5" x2="138.5" y2="861.6"/>
<line x1="357.5" y1="855.5" x2="357.5" y2="861.6"/>
<line x1="575.5" y1="855.5" x2="575.5" y2="861.6"/>
<line x1="794.5" y1="855.5" x2="794.5" y2="861.6"/>
<line x1="1012.5" y1="855.5" x2="1012.5" y2="861.6"/>
<line x1="132" y1="72.73" x2="138.5" y2="72.73"/>
<line x1="1012.5" y1="72.73" x2="1018.5" y2="72.73"/>
<line x1="132" y1="104.28" x2="138.5" y2="104.28"/>
<line x1="1012.5" y1="104.28" x2="1018.5" y2="104.28"/>
<line x1="132" y1="135.82" x2="138.5" y2="135.82"/>
<line x1="1012.5" y1="135.82" x2="1018.5" y2="135.82"/>
<line x1="132" y1="167.36" x2="138.5" y2="167.36"/>
<line x1="1012.5" y1="167.36" x2="1018.5" y2="167.36"/>
<line x1="132" y1="198.91" x2="138.5" y2="198.91"/>
<line x1="1012.5" y1="198.91" x2="1018.5" y2="198.91"/>
<line x1="132" y1="230.45" x2="138.5" y2="230.45"/>
<line x1="1012.5" y1="230.45" x2="1018.5" y2="230.45"/>
<line x1="132" y1="261.99" x2="138.5" y2="261.99"/>
<line x1="1012.5" y1="261.99" x2="1018.5" y2="261.99"/>
<line x1="132" y1="293.54" x2="138.5" y2="293.54"/>
<line x1="1012.5" y1="293.54" x2="1018.5" y2="293.54"/>
<line x1="132" y1="325.08" x2="138.5" y2="325.08"/>
<line x1="1012.5" y1="325.08" x2="1018.5" y2="325.08"/>
<line x1="132" y1="356.62" x2="138.5" y2="356.62"/>
<line x1="1012.5" y1="356.62" x2="1018.5" y2="356.62"/>
<line x1="132" y1="388.16" x2="138.5" y2="388.16"/>
<line x1="1012.5" y1="388.16" x2="1018.5" y2="388.16"/>
<line x1="132" y1="419.71" x2="138.5" y2="419.71"/>
<line x1="1012.5" y1="419.71" x2="1018.5" y2="419.71"/>
<line x1="132" y1="451.25" x2="138.5" y2="451.25"/>
<line x1="1012.5" y1="451.25" x2="1018.5" y2="451.25"/>
<line x1="132" y1="482.79" x2="138.5" y2="482.79"/>
<line x1="1012.5" y1="482.79" x2="1018.5" y2="482.79"/>
<line x1="132" y1="514.34" x2="138.5" y2="514.34"/>
<line x1="1012.5" y1="514.34" x2="1018.5" y2="514.34"/>
<line x1="132" y1="545.88" x2="138.5" y2="545.88"/>
<line x1="1012.5" y1="545.88" x2="1018.5" y2="545.88"/>
<line x1="132" y1="577.42" x2="138.5" y2="577.42"/>
<line x1="1012.5" y1="577.42" x2="1018.5" y2="577.42"/>
<line x1="132" y1="608.96" x2="138.5" y2="608.96"/>
<line x1="1012.5" y1="608.96" x2="1018.5" y2="608.96"/>
<line x1="132" y1="640.51" x2="138.5" y2="640.51"/>
<line x1="1012.5" y1="640.51" x2="1018.5" y2="640.51"/>
<line x1="132" y1="672.05" x2="138.5" y2="672.05"/>
<line x1="1012.5" y1="672.05" x2="1018.5" y2="672.05"/>
<line x1="132" y1="703.59" x2="138.5" y2="703.59"/>
<line x1="1012.5" y1="703.59" x2="1018.5" y2="703.59"/>
<line x1="132" y1="735.14" x2="138.5" y2="735.14"/>
<line x1="1012.5" y1="735.14" x2="1018.5" y2="735.14"/>
<line x1="132" y1="766.68" x2="138.5" y2="766.68"/>
<line x1="1012.5" y1="766.68" x2="1018.5" y2="766.68"/>
<line x1="132" y1="798.22" x2="138.5" y2="798.22"/>
<line x1="1012.5" y1="798.22" x2="1018.5" y2="798.22"/>
<line x1="132" y1="829.77" x2="138.5" y2="829.77"/>
<line x1="1012.5" y1="829.77" x2="1018.5" y2="829.77"/>
</g>
<g font-size="13.33">
<text transform="translate(138.5,877.3) scale(1,0.9)" text-anchor="middle">0</text>
<text transform="translate(357.5,877.3) scale(1,0.9)" text-anchor="middle">15</text>
<text transform="translate(575.5,877.3) scale(1,0.9)" text-anchor="middle">30</text>
<text transform="translate(794.5,877.3) scale(1,0.9)" text-anchor="middle">45</text>
<text transform="translate(1012.5,877.3) scale(1,0.9)" text-anchor="middle">60</text>
<text transform="translate(126.3,77.7) scale(1,0.9)" text-anchor="end">07:00:00</text>
<text transform="translate(1024.2,77.7) scale(1,0.9)">08:00:00</text>
<text transform="translate(126.3,109.2) scale(1,0.9)" text-anchor="end">08:00:00</text>
<text transform="translate(1024.2,109.2) scale(1,0.9)">09:00:00</text>
<text transform="translate(126.3,140.8) scale(1,0.9)" text-anchor="end">09:00:00</text>
<text transform="translate(1024.2,140.8) scale(1,0.9)">10:00:00</text>
<text transform="translate(126.3,172.3) scale(1,0.9)" text-anchor="end">10:00:00</text>
<text transform="translate(1024.2,172.3) scale(1,0.9)">11:00:00</text>
<text transform="translate(126.3,203.9) scale(1,0.9)" text-anchor="end">11:00:00</text>
<text transform="translate(1024.2,203.9) scale(1,0.9)">12:00:00</text>
<text transform="translate(126.3,235.4) scale(1,0.9)" text-anchor="end">12:00:00</text>
<text transform="translate(1024.2,235.4) scale(1,0.9)">13:00:00</text>
<text transform="translate(126.3,266.9) scale(1,0.9)" text-anchor="end">13:00:00</text>
<text transform="translate(1024.2,266.9) scale(1,0.9)">14:00:00</text>
<text transform="translate(126.3,298.5) scale(1,0.9)" text-anchor="end">14:00:00</text>
<text transform="translate(1024.2,298.5) scale(1,0.9)">15:00:00</text>
<text transform="translate(126.3,330.0) scale(1,0.9)" text-anchor="end">15:00:00</text>
<text transform="translate(1024.2,330.0) scale(1,0.9)">16:00:00</text>
<text transform="translate(126.3,361.6) scale(1,0.9)" text-anchor="end">16:00:00</text>
<text transform="translate(1024.2,361.6) scale(1,0.9)">17:00:00</text>
<text transform="translate(126.3,393.1) scale(1,0.9)" text-anchor="end">17:00:00</text>
<text transform="translate(1024.2,393.1) scale(1,0.9)">18:00:00</text>
<text transform="translate(126.3,424.7) scale(1,0.9)" text-anchor="end">18:00:00</text>
<text transform="translate(1024.2,424.7) scale(1,0.9)">19:00:00</text>
<text transform="translate(126.3,456.2) scale(1,0.9)" text-anchor="end">19:00:00</text>
<text transform="translate(1024.2,456.2) scale(1,0.9)">20:00:00</text>
<text transform="translate(126.3,487.7) scale(1,0.9)" text-anchor="end">20:00:00</text>
<text transform="translate(1024.2,487.7) scale(1,0.9)">21:00:00</text>
<text transform="translate(126.3,519.3) scale(1,0.9)" text-anchor="end">21:00:00</text>
<text transform="translate(1024.2,519.3) scale(1,0.9)">22:00:00</text>
<text transform="translate(126.3,550.8) scale(1,0.9)" text-anchor="end">22:00:00</text>
<text transform="translate(1024.2,550.8) scale(1,0.9)">23:00:00</text>
<text transform="translate(126.3,582.4) scale(1,0.9)" text-anchor="end">23:00:00</text>
<text transform="translate(1024.2,582.4) scale(1,0.9)">00:00:00</text>
<text transform="translate(126.3,613.9) scale(1,0.9)" text-anchor="end">00:00:00</text>
<text transform="translate(1024.2,613.9) scale(1,0.9)">01:00:00</text>
<text transform="translate(126.3,645.5) scale(1,0.9)" text-anchor="end">01:00:00</text>
<text transform="translate(1024.2,645.5) scale(1,0.9)">02:00:00</text>
<text transform="translate(126.3,677.0) scale(1,0.9)" text-anchor="end">02:00:00</text>
<text transform="translate(1024.2,677.0) scale(1,0.9)">03:00:00</text>
<text transform="translate(126.3,708.5) scale(1,0.9)" text-anchor="end">03:00:00</text>
<text transform="translate(1024.2,708.5) scale(1,0.9)">04:00:00</text>
<text transform="translate(126.3,740.1) scale(1,0.9)" text-anchor="end">04:00:00</text>
<text transform="translate(1024.2,740.1) scale(1,0.9)">05:00:00</text>
<text transform="translate(126.3,771.6) scale(1,0.9)" text-anchor="end">05:00:00</text>
<text transform="translate(1024.2,771.6) scale(1,0.9)">06:00:00</text>
<text transform="translate(126.3,803.2) scale(1,0.9)" text-anchor="end">06:00:00</text>
<text transform="translate(1024.2,803.2) scale(1,0.9)">07:00:00</text>
<text transform="translate(126.3,834.7) scale(1,0.9)" text-anchor="end">07:00:00</text>
<text transform="translate(1024.2,834.7) scale(1,0.9)">08:00:00</text>
<text font-size="13.5" transform="translate(574.9,895.8) scale(1,0.96)" text-anchor="middle">time in minutes</text>
</g>
<text font-size="16.67" text-anchor="middle" transform="translate(54.4,452.2) rotate(-90) scale(0.993,1.08)">UTC (local time = UTC - 08:00)</text>
<text font-size="20.1" transform="translate(575.45,34) scale(1,0.96)" text-anchor="middle">2026-02-16 CE.57011.10.HNE</text>
</svg></body></html>
